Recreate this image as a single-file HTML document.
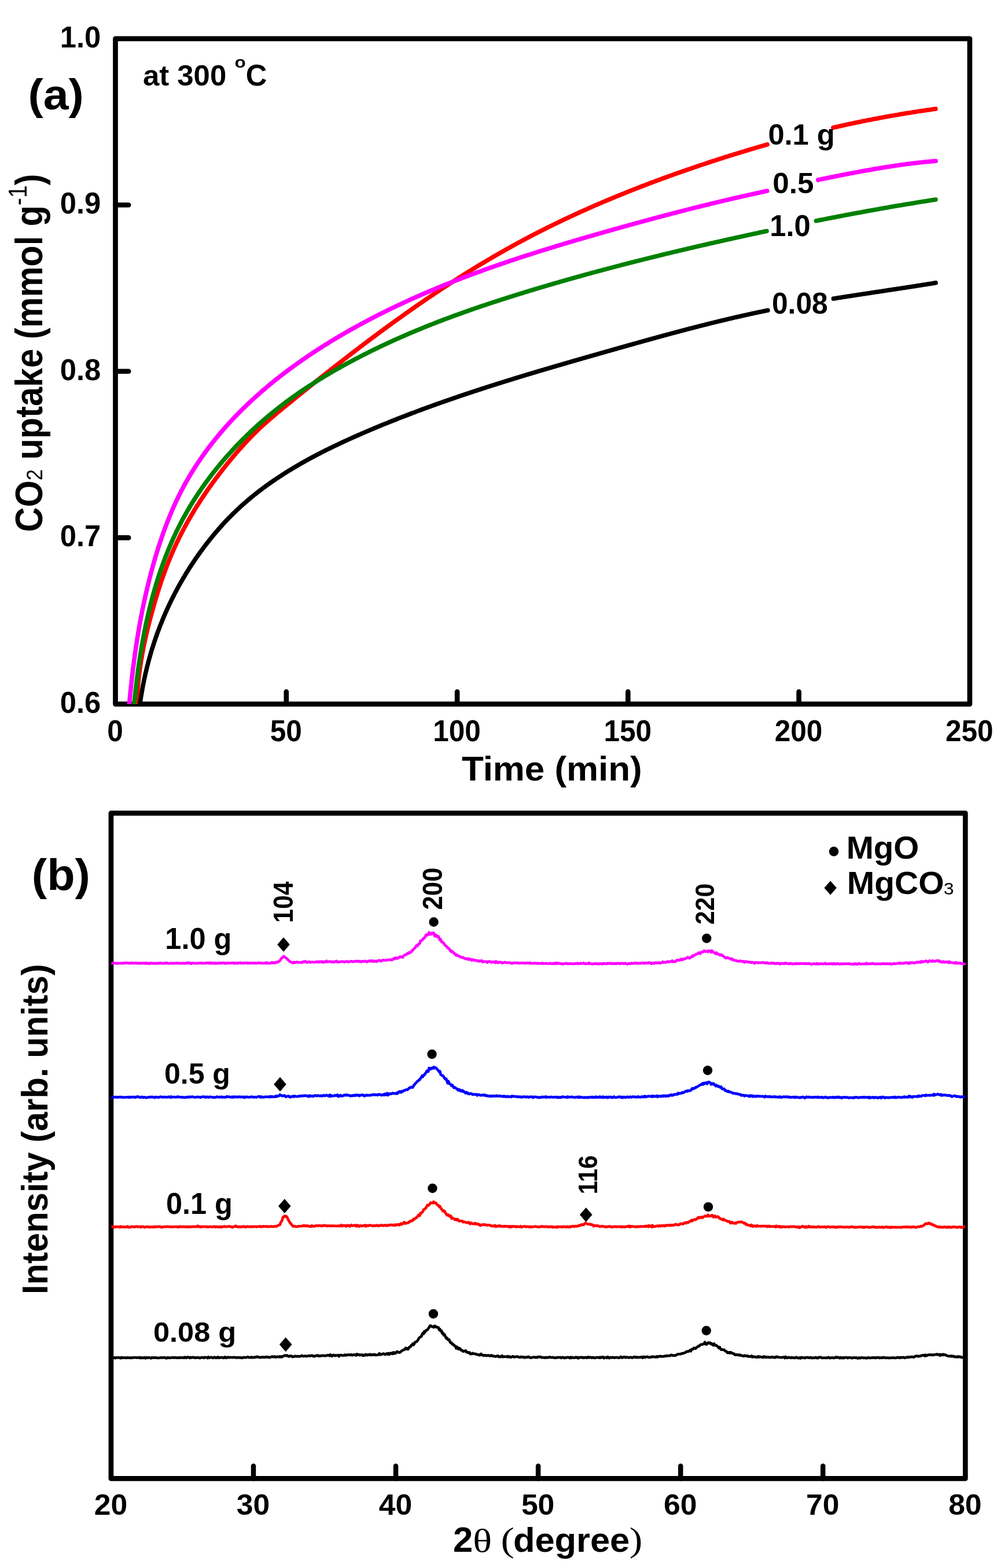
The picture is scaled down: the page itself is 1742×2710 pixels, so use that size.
<!DOCTYPE html>
<html><head><meta charset="utf-8"><title>CO2 uptake and XRD figure</title>
<style>html,body{margin:0;padding:0;background:#fff;} svg{display:block;}</style>
</head><body>
<svg xmlns="http://www.w3.org/2000/svg" width="1742" height="2710" viewBox="0 0 1742 2710">
<rect width="1742" height="2710" fill="#ffffff"/>
<defs><clipPath id="clipA"><rect x="199.5" y="66.8" width="1476.4" height="1150.1000000000001"/></clipPath></defs>
<rect x="199.5" y="66.8" width="1476.4" height="1150.1" fill="none" stroke="#000" stroke-width="8.7" stroke-linejoin="round"/>
<path clip-path="url(#clipA)" d="M235.7,1229.9 L237.4,1200.0 L237.5,1198.5 L237.6,1196.9 L237.7,1195.4 L237.8,1193.9 L237.9,1192.3 L238.0,1190.8 L238.1,1189.3 L238.2,1187.8 L238.4,1186.3 L238.5,1184.8 L238.6,1183.2 L238.8,1181.7 L238.9,1180.2 L239.1,1178.7 L239.2,1177.2 L239.3,1175.6 L239.5,1174.1 L239.7,1172.6 L239.8,1171.1 L240.0,1169.6 L240.2,1168.1 L240.4,1166.5 L240.6,1165.0 L240.7,1163.5 L240.9,1162.0 L241.1,1160.5 L241.3,1159.0 L241.5,1157.5 L241.7,1156.0 L241.9,1154.5 L242.2,1152.9 L242.4,1151.4 L242.6,1149.9 L242.8,1148.4 L243.1,1146.9 L243.3,1145.4 L243.5,1143.9 L243.8,1142.4 L244.0,1140.9 L244.3,1139.4 L244.5,1137.9 L244.8,1136.4 L245.0,1134.9 L245.3,1133.4 L245.6,1131.9 L245.8,1130.4 L246.1,1128.9 L246.4,1127.4 L246.7,1125.9 L246.9,1124.4 L247.2,1122.9 L247.5,1121.4 L247.8,1119.9 L248.1,1118.4 L248.4,1116.9 L248.7,1115.4 L249.0,1113.9 L249.3,1112.4 L249.6,1110.9 L250.0,1109.4 L250.3,1107.9 L250.6,1106.4 L250.9,1104.9 L251.2,1103.5 L251.6,1102.0 L251.9,1100.5 L252.2,1099.0 L252.6,1097.5 L252.9,1096.0 L253.3,1094.5 L253.6,1093.0 L254.0,1091.5 L254.3,1090.0 L254.7,1088.6 L255.0,1087.1 L255.4,1085.6 L255.8,1084.1 L256.1,1082.6 L256.5,1081.2 L256.9,1079.7 L257.2,1078.2 L257.6,1076.7 L258.0,1075.2 L258.4,1073.8 L258.8,1072.3 L259.1,1070.8 L259.5,1069.3 L259.9,1067.8 L260.3,1066.4 L260.7,1064.9 L261.1,1063.4 L261.5,1061.9 L261.9,1060.5 L262.3,1059.0 L262.7,1057.5 L263.1,1056.0 L263.5,1054.6 L263.9,1053.1 L264.4,1051.6 L264.8,1050.2 L265.2,1048.7 L265.6,1047.2 L266.0,1045.7 L266.4,1044.3 L266.9,1042.8 L267.3,1041.3 L267.7,1039.9 L268.1,1038.4 L268.6,1036.9 L269.0,1035.5 L269.5,1034.0 L269.9,1032.5 L270.3,1031.1 L270.8,1029.6 L271.2,1028.2 L271.7,1026.7 L272.1,1025.2 L272.6,1023.8 L273.0,1022.3 L273.5,1020.9 L274.0,1019.4 L274.4,1018.0 L274.9,1016.5 L275.4,1015.1 L275.8,1013.6 L276.3,1012.2 L276.8,1010.7 L277.3,1009.3 L277.8,1007.8 L278.2,1006.4 L278.7,1004.9 L279.2,1003.5 L279.7,1002.0 L280.2,1000.6 L280.7,999.2 L281.2,997.7 L281.7,996.3 L282.2,994.8 L282.7,993.4 L283.2,992.0 L283.8,990.5 L284.3,989.1 L284.8,987.7 L285.3,986.2 L285.9,984.8 L286.4,983.4 L286.9,982.0 L287.5,980.5 L288.0,979.1 L288.6,977.7 L289.1,976.3 L289.6,974.9 L290.2,973.4 L290.8,972.0 L291.3,970.6 L291.9,969.2 L292.5,967.8 L293.0,966.4 L293.6,965.0 L294.2,963.5 L294.8,962.1 L295.4,960.7 L296.0,959.3 L296.6,957.9 L297.1,956.5 L297.8,955.1 L298.4,953.7 L299.0,952.3 L299.6,951.0 L300.2,949.6 L300.8,948.2 L301.4,946.8 L302.1,945.4 L302.7,944.0 L303.4,942.6 L304.0,941.2 L304.6,939.9 L305.3,938.5 L305.9,937.1 L306.6,935.7 L307.3,934.4 L307.9,933.0 L308.6,931.6 L309.3,930.2 L309.9,928.9 L310.6,927.5 L311.3,926.2 L312.0,924.8 L312.7,923.4 L313.4,922.1 L314.1,920.7 L314.8,919.4 L315.5,918.0 L316.2,916.7 L316.9,915.3 L317.6,914.0 L318.3,912.6 L319.0,911.3 L319.8,909.9 L320.5,908.6 L321.2,907.3 L321.9,905.9 L322.7,904.6 L323.4,903.2 L324.2,901.9 L324.9,900.6 L325.7,899.3 L326.4,897.9 L327.2,896.6 L327.9,895.3 L328.7,894.0 L329.5,892.6 L330.3,891.3 L331.0,890.0 L331.8,888.7 L332.6,887.4 L333.4,886.1 L334.2,884.8 L334.9,883.5 L335.7,882.1 L336.5,880.8 L337.3,879.5 L338.1,878.2 L338.9,876.9 L339.8,875.6 L340.6,874.4 L341.4,873.0 L342.2,871.8 L343.0,870.5 L343.9,869.2 L344.7,867.9 L345.5,866.6 L346.3,865.3 L347.2,864.0 L348.0,862.8 L348.9,861.5 L349.7,860.2 L350.5,858.9 L351.4,857.7 L352.2,856.4 L353.1,855.1 L354.0,853.9 L354.8,852.6 L355.7,851.3 L356.6,850.1 L357.4,848.8 L358.3,847.5 L359.2,846.3 L360.0,845.0 L360.9,843.8 L361.8,842.5 L362.7,841.3 L363.6,840.0 L364.5,838.8 L365.4,837.5 L366.2,836.3 L367.1,835.1 L368.0,833.8 L368.9,832.6 L369.9,831.4 L370.8,830.1 L371.7,828.9 L372.6,827.7 L373.5,826.4 L374.4,825.2 L375.3,824.0 L376.3,822.8 L377.2,821.5 L378.1,820.3 L379.0,819.1 L380.0,817.9 L380.9,816.7 L381.8,815.5 L382.8,814.2 L383.7,813.0 L384.7,811.8 L385.6,810.6 L386.6,809.4 L387.5,808.2 L388.4,807.0 L389.4,805.8 L390.4,804.6 L391.3,803.4 L392.3,802.2 L393.2,801.1 L394.2,799.9 L395.2,798.7 L396.1,797.5 L397.1,796.3 L398.1,795.1 L399.1,794.0 L400.0,792.8 L401.0,791.6 L402.0,790.4 L403.0,789.3 L403.9,788.1 L404.9,786.9 L405.9,785.8 L406.9,784.6 L407.9,783.4 L408.9,782.3 L409.9,781.1 L410.9,780.0 L411.9,778.8 L412.9,777.7 L413.9,776.5 L414.9,775.4 L415.9,774.2 L417.0,773.1 L418.0,772.0 L419.0,770.8 L420.0,769.7 L421.1,768.6 L422.1,767.5 L423.1,766.3 L424.1,765.2 L425.2,764.1 L426.2,763.0 L427.3,761.9 L428.3,760.8 L429.4,759.7 L430.4,758.6 L431.5,757.5 L432.5,756.4 L433.6,755.3 L434.6,754.2 L435.7,753.1 L436.8,752.0 L437.8,750.9 L438.9,749.9 L440.0,748.8 L441.1,747.7 L442.1,746.6 L443.2,745.6 L444.3,744.5 L445.4,743.5 L446.5,742.4 L447.6,741.4 L448.7,740.3 L449.8,739.3 L450.9,738.2 L452.0,737.2 L453.1,736.2 L454.3,735.1 L455.4,734.1 L456.5,733.1 L457.6,732.1 L458.8,731.1 L459.9,730.1 L461.0,729.1 L462.2,728.0 L463.3,727.0 L464.5,726.0 L465.6,725.1 L466.8,724.1 L467.9,723.1 L469.1,722.1 L470.2,721.1 L471.4,720.1 L472.5,719.1 L473.7,718.1 L474.8,717.2 L476.0,716.2 L477.2,715.2 L478.3,714.2 L479.5,713.3 L480.7,712.3 L481.8,711.3 L483.0,710.4 L484.2,709.4 L485.3,708.4 L486.5,707.5 L487.7,706.5 L488.9,705.5 L490.0,704.6 L491.2,703.6 L492.4,702.6 L493.6,701.7 L494.8,700.7 L495.9,699.8 L497.1,698.8 L498.3,697.8 L499.5,696.9 L500.6,695.9 L501.8,695.0 L503.0,694.0 L504.2,693.0 L505.4,692.1 L506.6,691.1 L507.7,690.1 L508.9,689.2 L510.1,688.2 L511.3,687.3 L512.5,686.3 L513.6,685.4 L514.8,684.4 L516.0,683.4 L517.2,682.5 L518.4,681.5 L519.6,680.6 L520.8,679.6 L521.9,678.6 L523.1,677.7 L524.3,676.7 L525.5,675.8 L526.7,674.8 L527.9,673.9 L529.1,672.9 L530.2,672.0 L531.4,671.0 L532.6,670.0 L533.8,669.1 L535.0,668.1 L536.2,667.2 L537.4,666.2 L538.6,665.3 L539.8,664.3 L541.0,663.4 L542.1,662.4 L543.3,661.5 L544.5,660.5 L545.7,659.5 L546.9,658.6 L548.1,657.6 L549.3,656.7 L550.5,655.7 L551.7,654.8 L552.9,653.8 L554.1,652.9 L555.3,651.9 L556.5,651.0 L557.7,650.0 L558.9,649.1 L560.0,648.1 L561.2,647.2 L562.5,646.3 L563.6,645.3 L564.9,644.4 L566.0,643.4 L567.2,642.5 L568.4,641.5 L569.6,640.6 L570.8,639.6 L572.0,638.7 L573.2,637.7 L574.5,636.8 L575.6,635.9 L576.9,634.9 L578.0,634.0 L579.2,633.0 L580.5,632.1 L581.7,631.1 L582.9,630.2 L584.1,629.3 L585.3,628.3 L586.5,627.4 L587.7,626.5 L588.9,625.5 L590.1,624.6 L591.3,623.6 L592.5,622.7 L593.7,621.8 L594.9,620.8 L596.1,619.9 L597.4,619.0 L598.6,618.0 L599.8,617.1 L601.0,616.1 L602.2,615.2 L603.4,614.3 L604.6,613.4 L605.8,612.4 L607.0,611.5 L608.2,610.5 L609.5,609.6 L610.7,608.7 L611.9,607.8 L613.1,606.8 L614.3,605.9 L615.5,605.0 L616.8,604.0 L618.0,603.1 L619.2,602.2 L620.4,601.3 L621.6,600.3 L622.8,599.4 L624.0,598.5 L625.3,597.6 L626.5,596.6 L627.7,595.7 L628.9,594.8 L630.1,593.9 L631.4,593.0 L632.6,592.0 L633.8,591.1 L635.0,590.2 L636.3,589.3 L637.5,588.4 L638.7,587.4 L639.9,586.5 L641.1,585.6 L642.4,584.7 L643.6,583.8 L644.8,582.9 L646.0,581.9 L647.3,581.0 L648.5,580.1 L649.7,579.2 L651.0,578.3 L652.2,577.4 L653.4,576.5 L654.6,575.6 L655.9,574.6 L657.1,573.7 L658.3,572.8 L659.6,571.9 L660.8,571.0 L662.0,570.1 L663.3,569.2 L664.5,568.3 L665.7,567.4 L667.0,566.5 L668.2,565.6 L669.4,564.7 L670.7,563.8 L671.9,562.9 L673.1,562.0 L674.4,561.1 L675.6,560.2 L676.9,559.3 L678.1,558.4 L679.3,557.5 L680.6,556.6 L681.8,555.7 L683.1,554.8 L684.3,553.9 L685.5,553.0 L686.8,552.1 L688.0,551.2 L689.3,550.4 L690.5,549.5 L691.8,548.6 L693.0,547.7 L694.2,546.8 L695.5,545.9 L696.7,545.0 L698.0,544.1 L699.2,543.2 L700.5,542.4 L701.7,541.5 L703.0,540.6 L704.2,539.7 L705.5,538.8 L706.7,538.0 L708.0,537.1 L709.2,536.2 L710.5,535.3 L711.7,534.4 L713.0,533.6 L714.2,532.7 L715.5,531.8 L716.8,530.9 L718.0,530.1 L719.3,529.2 L720.5,528.3 L721.8,527.5 L723.0,526.6 L724.3,525.7 L725.5,524.8 L726.8,524.0 L728.1,523.1 L729.3,522.2 L730.6,521.4 L731.9,520.5 L733.1,519.6 L734.4,518.8 L735.6,517.9 L736.9,517.1 L738.2,516.2 L739.4,515.4 L740.7,514.5 L742.0,513.6 L743.2,512.8 L744.5,511.9 L745.8,511.1 L747.0,510.2 L748.3,509.4 L749.6,508.5 L750.8,507.7 L752.1,506.8 L753.4,506.0 L754.6,505.1 L755.9,504.3 L757.2,503.4 L758.5,502.6 L759.7,501.7 L761.0,500.9 L762.3,500.0 L763.5,499.2 L764.8,498.4 L766.1,497.5 L767.4,496.7 L768.6,495.8 L769.9,495.0 L771.2,494.2 L772.5,493.3 L773.8,492.5 L775.0,491.7 L776.3,490.8 L777.6,490.0 L778.9,489.2 L780.2,488.4 L781.5,487.5 L782.7,486.7 L784.0,485.9 L785.3,485.0 L786.6,484.2 L787.9,483.4 L789.2,482.6 L790.5,481.8 L791.7,480.9 L793.0,480.1 L794.3,479.3 L795.6,478.5 L796.9,477.7 L798.2,476.9 L799.5,476.0 L800.8,475.2 L802.1,474.4 L803.4,473.6 L804.7,472.8 L806.0,472.0 L807.2,471.2 L808.5,470.4 L809.8,469.6 L811.1,468.8 L812.4,468.0 L813.7,467.2 L815.0,466.4 L816.3,465.6 L817.6,464.8 L818.9,464.0 L820.2,463.2 L821.5,462.4 L822.8,461.6 L824.1,460.8 L825.4,460.0 L826.8,459.2 L828.0,458.4 L829.4,457.6 L830.7,456.8 L832.0,456.1 L833.3,455.3 L834.6,454.5 L835.9,453.7 L837.2,452.9 L838.5,452.1 L839.8,451.4 L841.1,450.6 L842.5,449.8 L843.8,449.0 L845.1,448.2 L846.4,447.5 L847.7,446.7 L849.0,445.9 L850.3,445.2 L851.6,444.4 L853.0,443.6 L854.3,442.9 L855.6,442.1 L856.9,441.3 L858.2,440.6 L859.6,439.8 L860.9,439.0 L862.2,438.3 L863.5,437.5 L864.9,436.8 L866.2,436.0 L867.5,435.3 L868.8,434.5 L870.2,433.8 L871.5,433.0 L872.8,432.3 L874.1,431.5 L875.5,430.8 L876.8,430.0 L878.1,429.3 L879.5,428.5 L880.8,427.8 L882.1,427.1 L883.5,426.3 L884.8,425.6 L886.1,424.8 L887.5,424.1 L888.8,423.4 L890.1,422.6 L891.5,421.9 L892.8,421.2 L894.1,420.4 L895.5,419.7 L896.8,419.0 L898.2,418.3 L899.5,417.5 L900.8,416.8 L902.2,416.1 L903.5,415.4 L904.9,414.7 L906.2,413.9 L907.6,413.2 L908.9,412.5 L910.3,411.8 L911.6,411.1 L913.0,410.4 L914.3,409.7 L915.6,409.0 L917.0,408.2 L918.4,407.6 L919.7,406.8 L921.0,406.1 L922.4,405.4 L923.8,404.7 L925.1,404.0 L926.5,403.3 L927.8,402.6 L929.2,401.9 L930.5,401.3 L931.9,400.6 L933.2,399.9 L934.6,399.2 L936.0,398.5 L937.3,397.8 L938.7,397.1 L940.0,396.4 L941.4,395.8 L942.8,395.1 L944.1,394.4 L945.5,393.7 L946.9,393.0 L948.2,392.4 L949.6,391.7 L951.0,391.0 L952.3,390.3 L953.7,389.7 L955.1,389.0 L956.4,388.3 L957.8,387.6 L959.2,387.0 L960.5,386.3 L961.9,385.6 L963.3,385.0 L964.7,384.3 L966.0,383.7 L967.4,383.0 L968.8,382.3 L970.2,381.7 L971.5,381.0 L972.9,380.4 L974.3,379.7 L975.7,379.1 L977.0,378.4 L978.4,377.8 L979.8,377.1 L981.2,376.5 L982.6,375.8 L983.9,375.2 L985.3,374.5 L986.7,373.9 L988.1,373.2 L989.5,372.6 L990.9,372.0 L992.2,371.3 L993.6,370.7 L995.0,370.1 L996.4,369.4 L997.8,368.8 L999.2,368.1 L1000.6,367.5 L1002.0,366.9 L1003.3,366.2 L1004.7,365.6 L1006.1,365.0 L1007.5,364.4 L1008.9,363.8 L1010.3,363.1 L1011.7,362.5 L1013.1,361.9 L1014.5,361.3 L1015.9,360.6 L1017.2,360.0 L1018.6,359.4 L1020.0,358.8 L1021.4,358.2 L1022.8,357.6 L1024.2,356.9 L1025.6,356.3 L1027.0,355.7 L1028.4,355.1 L1029.8,354.5 L1031.2,353.9 L1032.6,353.3 L1034.0,352.7 L1035.4,352.1 L1036.8,351.5 L1038.2,350.9 L1039.6,350.3 L1041.0,349.7 L1042.4,349.1 L1043.8,348.5 L1045.2,347.9 L1046.7,347.3 L1048.0,346.7 L1049.5,346.1 L1050.9,345.5 L1052.3,344.9 L1053.7,344.3 L1055.1,343.8 L1056.5,343.2 L1057.9,342.6 L1059.3,342.0 L1060.7,341.4 L1062.1,340.8 L1063.5,340.2 L1065.0,339.7 L1066.4,339.1 L1067.8,338.5 L1069.2,337.9 L1070.6,337.4 L1072.0,336.8 L1073.4,336.2 L1074.8,335.6 L1076.3,335.1 L1077.7,334.5 L1079.1,333.9 L1080.5,333.3 L1081.9,332.8 L1083.3,332.2 L1084.8,331.6 L1086.2,331.1 L1087.6,330.5 L1089.0,329.9 L1090.4,329.4 L1091.8,328.8 L1093.3,328.2 L1094.7,327.7 L1096.1,327.1 L1097.5,326.6 L1099.0,326.0 L1100.4,325.5 L1101.8,324.9 L1103.2,324.4 L1104.6,323.8 L1106.1,323.2 L1107.5,322.7 L1108.9,322.1 L1110.3,321.6 L1111.8,321.1 L1113.2,320.5 L1114.6,320.0 L1116.0,319.4 L1117.5,318.9 L1118.9,318.3 L1120.3,317.8 L1121.8,317.2 L1123.2,316.7 L1124.6,316.2 L1126.0,315.6 L1127.5,315.1 L1128.9,314.6 L1130.3,314.0 L1131.8,313.5 L1133.2,312.9 L1134.6,312.4 L1136.0,311.9 L1137.5,311.4 L1138.9,310.8 L1140.3,310.3 L1141.8,309.8 L1143.2,309.2 L1144.7,308.7 L1146.1,308.2 L1147.5,307.7 L1149.0,307.1 L1150.4,306.6 L1151.8,306.1 L1153.3,305.6 L1154.7,305.1 L1156.1,304.5 L1157.6,304.0 L1159.0,303.5 L1160.4,303.0 L1161.9,302.5 L1163.3,301.9 L1164.8,301.4 L1166.2,300.9 L1167.6,300.4 L1169.1,299.9 L1170.5,299.4 L1172.0,298.9 L1173.4,298.4 L1174.8,297.9 L1176.3,297.4 L1177.7,296.9 L1179.2,296.3 L1180.6,295.8 L1182.0,295.3 L1183.5,294.8 L1184.9,294.3 L1186.4,293.8 L1187.8,293.3 L1189.3,292.8 L1190.7,292.3 L1192.1,291.8 L1193.6,291.3 L1195.0,290.8 L1196.5,290.4 L1197.9,289.9 L1199.4,289.4 L1200.8,288.9 L1202.3,288.4 L1203.7,287.9 L1205.2,287.4 L1206.6,286.9 L1208.0,286.4 L1209.5,285.9 L1210.9,285.4 L1212.4,285.0 L1213.8,284.5 L1215.3,284.0 L1216.7,283.5 L1218.2,283.0 L1219.6,282.5 L1221.1,282.1 L1222.5,281.6 L1224.0,281.1 L1225.4,280.6 L1226.9,280.1 L1228.3,279.7 L1229.8,279.2 L1231.2,278.7 L1232.7,278.2 L1234.1,277.8 L1235.6,277.3 L1237.0,276.8 L1238.5,276.4 L1240.0,275.9 L1241.4,275.4 L1242.9,274.9 L1244.3,274.5 L1245.8,274.0 L1247.2,273.6 L1248.7,273.1 L1250.1,272.6 L1251.6,272.2 L1253.0,271.7 L1254.5,271.2 L1256.0,270.8 L1257.4,270.3 L1258.9,269.9 L1260.3,269.4 L1261.8,268.9 L1263.2,268.5 L1264.7,268.0 L1266.2,267.6 L1267.6,267.1 L1269.1,266.7 L1270.5,266.2 L1272.0,265.8 L1273.4,265.3 L1274.9,264.9 L1276.4,264.4 L1277.8,264.0 L1279.3,263.5 L1280.7,263.1 L1282.2,262.6 L1283.7,262.2 L1285.1,261.8 L1286.6,261.3 L1288.0,260.9 L1289.5,260.4 L1291.0,260.0 L1292.4,259.6 L1293.9,259.1 L1295.4,258.7 L1296.8,258.2 L1298.3,257.8 L1299.8,257.4 L1301.2,256.9 L1302.7,256.5 L1304.1,256.1 L1305.6,255.7 L1307.1,255.2 L1308.5,254.8 L1310.0,254.4 L1311.5,253.9 L1312.9,253.5 L1314.4,253.1 L1315.9,252.7 L1317.3,252.2 L1318.8,251.8 L1320.3,251.4 L1321.7,251.0 L1323.2,250.6 L1324.7,250.2 L1326.1,249.7 M1439.9,220.6 L1441.4,220.2 L1442.9,219.9 L1444.4,219.6 L1445.9,219.2 L1447.4,218.9 L1448.8,218.6 L1450.3,218.2 L1451.8,217.9 L1453.3,217.6 L1454.8,217.2 L1456.3,216.9 L1457.8,216.6 L1459.3,216.2 L1460.8,215.9 L1462.3,215.6 L1463.8,215.3 L1465.2,214.9 L1466.7,214.6 L1468.2,214.3 L1469.7,214.0 L1471.2,213.7 L1472.7,213.4 L1474.2,213.0 L1475.7,212.7 L1477.2,212.4 L1478.7,212.1 L1480.2,211.8 L1481.7,211.5 L1483.1,211.2 L1484.6,210.9 L1486.1,210.6 L1487.6,210.2 L1489.1,209.9 L1490.6,209.6 L1492.1,209.3 L1493.6,209.0 L1495.1,208.7 L1496.6,208.4 L1498.1,208.1 L1499.6,207.8 L1501.1,207.6 L1502.6,207.2 L1504.1,207.0 L1505.6,206.7 L1507.1,206.4 L1508.6,206.1 L1510.1,205.8 L1511.6,205.5 L1513.1,205.2 L1514.6,204.9 L1516.1,204.7 L1517.6,204.4 L1519.0,204.1 L1520.5,203.8 L1522.0,203.5 L1523.5,203.2 L1525.0,203.0 L1526.5,202.7 L1528.0,202.4 L1529.5,202.1 L1531.0,201.9 L1532.5,201.6 L1534.1,201.3 L1535.6,201.1 L1537.1,200.8 L1538.6,200.5 L1540.1,200.2 L1541.6,200.0 L1543.1,199.7 L1544.6,199.4 L1546.1,199.2 L1547.6,198.9 L1549.1,198.7 L1550.6,198.4 L1552.1,198.2 L1553.6,197.9 L1555.1,197.6 L1556.6,197.4 L1558.1,197.1 L1559.6,196.9 L1561.1,196.6 L1562.6,196.4 L1564.1,196.1 L1565.6,195.9 L1567.1,195.6 L1568.6,195.4 L1570.2,195.2 L1571.7,194.9 L1573.2,194.7 L1574.7,194.4 L1576.2,194.2 L1577.7,193.9 L1579.2,193.7 L1580.7,193.5 L1582.2,193.2 L1583.7,193.0 L1585.2,192.8 L1586.7,192.6 L1588.2,192.3 L1589.8,192.1 L1591.3,191.9 L1592.8,191.6 L1594.3,191.4 L1595.8,191.2 L1597.3,191.0 L1598.8,190.8 L1600.3,190.5 L1601.8,190.3 L1603.3,190.1 L1604.8,189.9 L1606.4,189.7 L1607.9,189.4 L1609.4,189.2 L1610.9,189.0 L1612.4,188.8 L1613.9,188.6 L1615.4,188.4 L1616.9,188.2 " fill="none" stroke="#ff0000" stroke-width="7.6" stroke-linecap="round" stroke-linejoin="round"/>
<path clip-path="url(#clipA)" d="M239.4,1229.7 L244.4,1200.1 L244.6,1198.7 L244.9,1197.3 L245.1,1196.0 L245.3,1194.6 L245.6,1193.2 L245.8,1191.9 L246.1,1190.5 L246.3,1189.1 L246.6,1187.8 L246.8,1186.4 L247.1,1185.0 L247.3,1183.7 L247.6,1182.3 L247.9,1181.0 L248.2,1179.6 L248.4,1178.2 L248.7,1176.9 L249.0,1175.5 L249.3,1174.2 L249.6,1172.8 L249.8,1171.5 L250.1,1170.1 L250.4,1168.8 L250.7,1167.4 L251.0,1166.1 L251.3,1164.7 L251.6,1163.4 L251.9,1162.0 L252.3,1160.7 L252.6,1159.4 L252.9,1158.0 L253.2,1156.7 L253.5,1155.3 L253.9,1154.0 L254.2,1152.7 L254.5,1151.3 L254.9,1150.0 L255.2,1148.7 L255.6,1147.3 L255.9,1146.0 L256.2,1144.7 L256.6,1143.3 L256.9,1142.0 L257.3,1140.7 L257.7,1139.4 L258.0,1138.0 L258.4,1136.7 L258.8,1135.4 L259.1,1134.1 L259.5,1132.8 L259.9,1131.4 L260.3,1130.1 L260.7,1128.8 L261.1,1127.5 L261.4,1126.2 L261.8,1124.9 L262.2,1123.5 L262.6,1122.2 L263.0,1120.9 L263.4,1119.6 L263.9,1118.3 L264.3,1117.0 L264.7,1115.7 L265.1,1114.4 L265.5,1113.1 L265.9,1111.8 L266.4,1110.5 L266.8,1109.2 L267.2,1107.9 L267.7,1106.6 L268.1,1105.3 L268.6,1104.0 L269.0,1102.7 L269.4,1101.4 L269.9,1100.1 L270.4,1098.8 L270.8,1097.5 L271.3,1096.3 L271.7,1095.0 L272.2,1093.7 L272.7,1092.4 L273.1,1091.1 L273.6,1089.8 L274.1,1088.6 L274.6,1087.3 L275.1,1086.0 L275.6,1084.7 L276.0,1083.5 L276.5,1082.2 L277.0,1080.9 L277.5,1079.6 L278.0,1078.4 L278.5,1077.1 L279.1,1075.8 L279.6,1074.6 L280.1,1073.3 L280.6,1072.0 L281.1,1070.8 L281.6,1069.5 L282.2,1068.2 L282.7,1067.0 L283.2,1065.7 L283.8,1064.5 L284.3,1063.2 L284.8,1062.0 L285.4,1060.7 L285.9,1059.5 L286.5,1058.2 L287.0,1057.0 L287.6,1055.7 L288.1,1054.5 L288.7,1053.2 L289.3,1052.0 L289.9,1050.7 L290.4,1049.5 L291.0,1048.2 L291.6,1047.0 L292.2,1045.8 L292.7,1044.5 L293.3,1043.3 L293.9,1042.1 L294.5,1040.8 L295.1,1039.6 L295.7,1038.4 L296.3,1037.1 L296.9,1035.9 L297.5,1034.7 L298.1,1033.5 L298.8,1032.2 L299.4,1031.0 L300.0,1029.8 L300.6,1028.6 L301.2,1027.3 L301.9,1026.1 L302.5,1024.9 L303.1,1023.7 L303.8,1022.5 L304.4,1021.3 L305.1,1020.1 L305.7,1018.9 L306.4,1017.6 L307.0,1016.5 L307.7,1015.2 L308.3,1014.0 L309.0,1012.8 L309.6,1011.6 L310.3,1010.4 L311.0,1009.2 L311.7,1008.0 L312.3,1006.9 L313.0,1005.6 L313.7,1004.5 L314.4,1003.3 L315.1,1002.1 L315.8,1000.9 L316.5,999.7 L317.2,998.5 L317.9,997.3 L318.6,996.1 L319.3,995.0 L320.0,993.8 L320.7,992.6 L321.4,991.4 L322.1,990.3 L322.9,989.1 L323.6,987.9 L324.3,986.7 L325.1,985.6 L325.8,984.4 L326.5,983.2 L327.3,982.1 L328.0,980.9 L328.8,979.7 L329.5,978.6 L330.3,977.4 L331.0,976.3 L331.8,975.1 L332.5,974.0 L333.3,972.8 L334.1,971.7 L334.8,970.5 L335.6,969.4 L336.4,968.2 L337.2,967.1 L337.9,965.9 L338.7,964.8 L339.5,963.7 L340.3,962.5 L341.1,961.4 L341.9,960.3 L342.7,959.1 L343.5,958.0 L344.3,956.9 L345.1,955.8 L345.9,954.6 L346.7,953.5 L347.5,952.4 L348.3,951.3 L349.2,950.2 L350.0,949.0 L350.8,947.9 L351.6,946.8 L352.5,945.7 L353.3,944.6 L354.1,943.5 L355.0,942.4 L355.8,941.3 L356.7,940.2 L357.5,939.1 L358.4,938.0 L359.2,937.0 L360.1,935.9 L360.9,934.8 L361.8,933.7 L362.6,932.6 L363.5,931.5 L364.4,930.5 L365.2,929.4 L366.1,928.3 L367.0,927.2 L367.9,926.2 L368.8,925.1 L369.6,924.0 L370.5,923.0 L371.4,921.9 L372.3,920.9 L373.2,919.8 L374.1,918.8 L375.0,917.7 L375.9,916.7 L376.8,915.6 L377.7,914.6 L378.6,913.5 L379.5,912.5 L380.4,911.5 L381.4,910.5 L382.3,909.4 L383.2,908.4 L384.1,907.4 L385.1,906.4 L386.0,905.3 L386.9,904.3 L387.9,903.3 L388.8,902.3 L389.7,901.3 L390.7,900.3 L391.6,899.3 L392.6,898.3 L393.5,897.3 L394.5,896.3 L395.4,895.3 L396.4,894.3 L397.3,893.4 L398.3,892.4 L399.3,891.4 L400.2,890.4 L401.2,889.5 L402.2,888.5 L403.2,887.5 L404.1,886.6 L405.1,885.6 L406.1,884.7 L407.1,883.7 L408.1,882.8 L409.1,881.8 L410.1,880.9 L411.1,880.0 L412.1,879.0 L413.1,878.1 L414.1,877.2 L415.1,876.2 L416.1,875.3 L417.1,874.4 L418.1,873.5 L419.1,872.6 L420.2,871.7 L421.2,870.8 L422.2,869.9 L423.2,869.0 L424.3,868.1 L425.3,867.2 L426.3,866.3 L427.4,865.4 L428.4,864.5 L429.4,863.6 L430.5,862.8 L431.5,861.9 L432.6,861.0 L433.6,860.1 L434.7,859.3 L435.7,858.4 L436.8,857.5 L437.9,856.7 L438.9,855.8 L440.0,855.0 L441.1,854.1 L442.1,853.3 L443.2,852.4 L444.3,851.6 L445.3,850.8 L446.4,849.9 L447.5,849.1 L448.6,848.2 L449.6,847.4 L450.7,846.6 L451.8,845.8 L452.9,845.0 L454.0,844.1 L455.1,843.3 L456.2,842.5 L457.3,841.7 L458.4,840.9 L459.5,840.1 L460.6,839.3 L461.7,838.5 L462.8,837.7 L463.9,836.9 L465.0,836.1 L466.1,835.3 L467.3,834.5 L468.4,833.8 L469.5,833.0 L470.6,832.2 L471.7,831.4 L472.9,830.6 L474.0,829.9 L475.1,829.1 L476.2,828.4 L477.4,827.6 L478.5,826.8 L479.6,826.1 L480.8,825.3 L481.9,824.6 L483.1,823.8 L484.2,823.1 L485.4,822.3 L486.5,821.6 L487.6,820.8 L488.8,820.1 L489.9,819.4 L491.1,818.6 L492.2,817.9 L493.4,817.1 L494.6,816.4 L495.7,815.7 L496.9,815.0 L498.0,814.2 L499.2,813.5 L500.4,812.8 L501.5,812.1 L502.7,811.4 L503.9,810.7 L505.1,810.0 L506.2,809.3 L507.4,808.6 L508.6,807.9 L509.8,807.2 L510.9,806.5 L512.1,805.8 L513.3,805.1 L514.5,804.4 L515.7,803.7 L516.9,803.0 L518.0,802.3 L519.2,801.6 L520.4,801.0 L521.6,800.3 L522.8,799.6 L524.0,798.9 L525.2,798.3 L526.4,797.6 L527.6,796.9 L528.8,796.2 L530.0,795.6 L531.2,794.9 L532.4,794.3 L533.6,793.6 L534.8,793.0 L536.0,792.3 L537.2,791.6 L538.4,791.0 L539.6,790.3 L540.9,789.7 L542.1,789.0 L543.3,788.4 L544.5,787.8 L545.7,787.1 L546.9,786.5 L548.1,785.8 L549.4,785.2 L550.6,784.6 L551.8,783.9 L553.0,783.3 L554.3,782.7 L555.5,782.0 L556.7,781.4 L557.9,780.8 L559.2,780.2 L560.4,779.6 L561.6,778.9 L562.9,778.3 L564.1,777.7 L565.3,777.1 L566.5,776.5 L567.8,775.9 L569.0,775.3 L570.3,774.7 L571.5,774.0 L572.7,773.5 L574.0,772.9 L575.2,772.2 L576.5,771.6 L577.7,771.0 L578.9,770.5 L580.2,769.9 L581.4,769.3 L582.7,768.7 L583.9,768.1 L585.2,767.5 L586.4,766.9 L587.7,766.3 L588.9,765.7 L590.2,765.1 L591.4,764.6 L592.7,764.0 L593.9,763.4 L595.2,762.8 L596.4,762.2 L597.7,761.7 L598.9,761.1 L600.2,760.5 L601.4,760.0 L602.7,759.4 L604.0,758.8 L605.2,758.2 L606.5,757.7 L607.7,757.1 L609.0,756.5 L610.2,756.0 L611.5,755.4 L612.8,754.9 L614.0,754.3 L615.3,753.7 L616.5,753.2 L617.8,752.6 L619.1,752.1 L620.3,751.5 L621.6,751.0 L622.9,750.4 L624.1,749.9 L625.4,749.3 L626.6,748.8 L627.9,748.2 L629.2,747.7 L630.5,747.1 L631.7,746.6 L633.0,746.0 L634.2,745.5 L635.5,744.9 L636.8,744.4 L638.0,743.9 L639.3,743.3 L640.6,742.8 L641.9,742.2 L643.1,741.7 L644.4,741.2 L645.7,740.6 L646.9,740.1 L648.2,739.6 L649.5,739.0 L650.8,738.5 L652.0,738.0 L653.3,737.5 L654.6,736.9 L655.8,736.4 L657.1,735.9 L658.4,735.4 L659.6,734.8 L660.9,734.3 L662.2,733.8 L663.5,733.3 L664.8,732.8 L666.0,732.2 L667.3,731.7 L668.6,731.2 L669.9,730.7 L671.1,730.2 L672.4,729.6 L673.7,729.1 L675.0,728.6 L676.2,728.1 L677.5,727.6 L678.8,727.1 L680.1,726.6 L681.3,726.1 L682.6,725.6 L683.9,725.1 L685.2,724.6 L686.5,724.1 L687.7,723.5 L689.0,723.0 L690.3,722.5 L691.6,722.0 L692.9,721.5 L694.1,721.0 L695.4,720.5 L696.7,720.0 L698.0,719.6 L699.3,719.1 L700.5,718.6 L701.8,718.1 L703.1,717.6 L704.4,717.1 L705.7,716.6 L707.0,716.1 L708.2,715.6 L709.5,715.1 L710.8,714.6 L712.1,714.1 L713.4,713.7 L714.7,713.2 L716.0,712.7 L717.2,712.2 L718.5,711.7 L719.8,711.2 L721.1,710.8 L722.4,710.3 L723.7,709.8 L725.0,709.3 L726.2,708.9 L727.5,708.4 L728.8,707.9 L730.1,707.4 L731.4,706.9 L732.7,706.5 L734.0,706.0 L735.3,705.5 L736.6,705.0 L737.9,704.6 L739.1,704.1 L740.4,703.6 L741.7,703.2 L743.0,702.7 L744.3,702.2 L745.6,701.8 L746.9,701.3 L748.2,700.8 L749.5,700.4 L750.8,699.9 L752.1,699.4 L753.4,699.0 L754.6,698.5 L755.9,698.0 L757.2,697.6 L758.5,697.1 L759.8,696.7 L761.1,696.2 L762.4,695.8 L763.7,695.3 L765.0,694.8 L766.3,694.4 L767.6,693.9 L768.9,693.5 L770.2,693.0 L771.5,692.6 L772.8,692.1 L774.1,691.7 L775.4,691.2 L776.7,690.8 L778.0,690.3 L779.3,689.9 L780.5,689.4 L781.9,689.0 L783.1,688.5 L784.5,688.1 L785.8,687.6 L787.0,687.2 L788.3,686.8 L789.6,686.3 L790.9,685.9 L792.2,685.4 L793.5,685.0 L794.8,684.5 L796.1,684.1 L797.4,683.7 L798.7,683.2 L800.0,682.8 L801.3,682.3 L802.6,681.9 L804.0,681.5 L805.2,681.0 L806.5,680.6 L807.9,680.2 L809.1,679.7 L810.5,679.3 L811.8,678.9 L813.1,678.4 L814.4,678.0 L815.7,677.6 L817.0,677.1 L818.3,676.7 L819.6,676.3 L820.9,675.8 L822.2,675.4 L823.5,675.0 L824.8,674.6 L826.1,674.1 L827.4,673.7 L828.7,673.3 L830.0,672.9 L831.3,672.4 L832.6,672.0 L833.9,671.6 L835.2,671.2 L836.5,670.7 L837.9,670.3 L839.2,669.9 L840.5,669.5 L841.8,669.0 L843.1,668.6 L844.4,668.2 L845.7,667.8 L847.0,667.4 L848.3,667.0 L849.6,666.5 L850.9,666.1 L852.2,665.7 L853.5,665.3 L854.9,664.9 L856.2,664.5 L857.5,664.0 L858.8,663.6 L860.1,663.2 L861.4,662.8 L862.7,662.4 L864.0,662.0 L865.3,661.6 L866.6,661.2 L867.9,660.8 L869.2,660.3 L870.6,659.9 L871.9,659.5 L873.2,659.1 L874.5,658.7 L875.8,658.3 L877.1,657.9 L878.4,657.5 L879.7,657.1 L881.0,656.7 L882.4,656.3 L883.7,655.9 L885.0,655.5 L886.3,655.0 L887.6,654.6 L888.9,654.2 L890.2,653.8 L891.5,653.4 L892.9,653.0 L894.2,652.6 L895.5,652.2 L896.8,651.8 L898.1,651.4 L899.4,651.0 L900.7,650.6 L902.1,650.2 L903.4,649.8 L904.7,649.4 L906.0,649.0 L907.3,648.6 L908.6,648.2 L909.9,647.8 L911.3,647.4 L912.6,647.0 L913.9,646.6 L915.2,646.2 L916.5,645.9 L917.8,645.5 L919.1,645.1 L920.5,644.7 L921.8,644.3 L923.1,643.9 L924.4,643.5 L925.7,643.1 L927.0,642.7 L928.4,642.3 L929.7,641.9 L931.0,641.5 L932.3,641.1 L933.6,640.7 L934.9,640.3 L936.3,640.0 L937.6,639.6 L938.9,639.2 L940.2,638.8 L941.5,638.4 L942.8,638.0 L944.2,637.6 L945.5,637.2 L946.8,636.8 L948.1,636.5 L949.4,636.1 L950.8,635.7 L952.1,635.3 L953.4,634.9 L954.7,634.5 L956.0,634.1 L957.3,633.7 L958.7,633.4 L960.0,633.0 L961.3,632.6 L962.6,632.2 L963.9,631.8 L965.3,631.4 L966.6,631.0 L967.9,630.7 L969.2,630.3 L970.5,629.9 L971.9,629.5 L973.2,629.1 L974.5,628.7 L975.8,628.4 L977.1,628.0 L978.5,627.6 L979.8,627.2 L981.1,626.8 L982.4,626.4 L983.7,626.1 L985.0,625.7 L986.4,625.3 L987.7,624.9 L989.0,624.5 L990.3,624.1 L991.6,623.8 L993.0,623.4 L994.3,623.0 L995.6,622.6 L996.9,622.2 L998.3,621.9 L999.6,621.5 L1000.9,621.1 L1002.2,620.7 L1003.5,620.4 L1004.9,620.0 L1006.2,619.6 L1007.5,619.2 L1008.8,618.8 L1010.1,618.5 L1011.5,618.1 L1012.8,617.7 L1014.1,617.3 L1015.4,616.9 L1016.8,616.6 L1018.1,616.2 L1019.4,615.8 L1020.7,615.4 L1022.0,615.0 L1023.4,614.7 L1024.7,614.3 L1026.0,613.9 L1027.3,613.5 L1028.7,613.2 L1030.0,612.8 L1031.3,612.4 L1032.6,612.0 L1033.9,611.7 L1035.3,611.3 L1036.6,610.9 L1037.9,610.5 L1039.2,610.1 L1040.6,609.8 L1041.9,609.4 L1043.2,609.0 L1044.5,608.6 L1045.8,608.3 L1047.2,607.9 L1048.5,607.5 L1049.8,607.1 L1051.1,606.8 L1052.5,606.4 L1053.8,606.0 L1055.1,605.6 L1056.4,605.3 L1057.8,604.9 L1059.1,604.5 L1060.4,604.1 L1061.7,603.8 L1063.0,603.4 L1064.4,603.0 L1065.7,602.6 L1067.0,602.3 L1068.3,601.9 L1069.7,601.5 L1071.0,601.1 L1072.3,600.8 L1073.6,600.4 L1075.0,600.0 L1076.3,599.6 L1077.6,599.3 L1078.9,598.9 L1080.2,598.5 L1081.6,598.1 L1082.9,597.8 L1084.2,597.4 L1085.5,597.0 L1086.9,596.6 L1088.2,596.3 L1089.5,595.9 L1090.8,595.5 L1092.2,595.2 L1093.5,594.8 L1094.8,594.4 L1096.1,594.0 L1097.5,593.7 L1098.8,593.3 L1100.1,592.9 L1101.4,592.6 L1102.8,592.2 L1104.1,591.8 L1105.4,591.5 L1106.7,591.1 L1108.0,590.7 L1109.4,590.3 L1110.7,590.0 L1112.0,589.6 L1113.3,589.2 L1114.7,588.9 L1116.0,588.5 L1117.3,588.1 L1118.7,587.8 L1120.0,587.4 L1121.3,587.0 L1122.6,586.6 L1124.0,586.3 L1125.3,585.9 L1126.6,585.5 L1127.9,585.2 L1129.3,584.8 L1130.6,584.5 L1131.9,584.1 L1133.2,583.7 L1134.6,583.4 L1135.9,583.0 L1137.2,582.6 L1138.5,582.3 L1139.9,581.9 L1141.2,581.5 L1142.5,581.2 L1143.8,580.8 L1145.2,580.5 L1146.5,580.1 L1147.8,579.7 L1149.2,579.4 L1150.5,579.0 L1151.8,578.6 L1153.1,578.3 L1154.5,577.9 L1155.8,577.6 L1157.1,577.2 L1158.4,576.9 L1159.8,576.5 L1161.1,576.1 L1162.4,575.8 L1163.8,575.4 L1165.1,575.1 L1166.4,574.7 L1167.7,574.4 L1169.1,574.0 L1170.4,573.6 L1171.7,573.3 L1173.0,573.0 L1174.4,572.6 L1175.7,572.2 L1177.0,571.9 L1178.4,571.5 L1179.7,571.2 L1181.0,570.8 L1182.4,570.5 L1183.7,570.1 L1185.0,569.8 L1186.3,569.4 L1187.7,569.1 L1189.0,568.7 L1190.3,568.4 L1191.7,568.0 L1193.0,567.7 L1194.3,567.4 L1195.7,567.0 L1197.0,566.7 L1198.3,566.3 L1199.7,566.0 L1201.0,565.6 L1202.3,565.3 L1203.7,565.0 L1205.0,564.6 L1206.3,564.3 L1207.6,563.9 L1209.0,563.6 L1210.3,563.2 L1211.6,562.9 L1213.0,562.6 L1214.3,562.2 L1215.6,561.9 L1217.0,561.6 L1218.3,561.2 L1219.6,560.9 L1221.0,560.5 L1222.3,560.2 L1223.6,559.9 L1225.0,559.5 L1226.3,559.2 L1227.6,558.9 L1229.0,558.6 L1230.3,558.2 L1231.6,557.9 L1233.0,557.6 L1234.3,557.2 L1235.6,556.9 L1237.0,556.6 L1238.3,556.3 L1239.6,555.9 L1241.0,555.6 L1242.3,555.3 L1243.7,555.0 L1245.0,554.6 L1246.3,554.3 L1247.7,554.0 L1249.0,553.7 L1250.3,553.4 L1251.7,553.0 L1253.0,552.7 L1254.3,552.4 L1255.7,552.1 L1257.0,551.8 L1258.3,551.4 L1259.7,551.1 L1261.0,550.8 L1262.4,550.5 L1263.7,550.2 L1265.0,549.9 L1266.4,549.6 L1267.7,549.2 L1269.0,548.9 L1270.4,548.6 L1271.7,548.3 L1273.1,548.0 L1274.4,547.7 L1275.7,547.4 L1277.1,547.1 L1278.4,546.8 L1279.8,546.5 L1281.1,546.2 L1282.4,545.9 L1283.8,545.6 L1285.1,545.3 L1286.5,545.0 L1287.8,544.7 L1289.1,544.4 L1290.5,544.1 L1291.8,543.8 L1293.2,543.5 L1294.5,543.2 L1295.8,542.9 L1297.2,542.6 L1298.5,542.3 L1299.9,542.0 L1301.2,541.7 L1302.6,541.4 L1303.9,541.1 L1305.2,540.9 L1306.6,540.6 L1307.9,540.3 L1309.3,540.0 L1310.6,539.7 L1312.0,539.4 L1313.3,539.1 L1314.7,538.9 L1316.0,538.6 L1317.3,538.3 L1318.7,538.0 L1320.0,537.8 L1321.4,537.5 L1322.7,537.2 L1324.1,536.9 L1325.4,536.6 L1326.8,536.4 M1440.4,516.1 L1441.8,515.9 L1443.1,515.7 L1444.5,515.5 L1445.8,515.3 L1447.2,515.0 L1448.5,514.8 L1449.9,514.6 L1451.3,514.4 L1452.6,514.2 L1454.0,514.0 L1455.3,513.8 L1456.7,513.5 L1458.1,513.3 L1459.4,513.1 L1460.8,512.9 L1462.1,512.7 L1463.5,512.5 L1464.8,512.3 L1466.2,512.1 L1467.6,511.9 L1468.9,511.6 L1470.3,511.4 L1471.7,511.2 L1473.0,511.0 L1474.4,510.8 L1475.7,510.6 L1477.1,510.4 L1478.4,510.2 L1479.8,510.0 L1481.2,509.8 L1482.5,509.6 L1483.9,509.4 L1485.2,509.1 L1486.6,508.9 L1488.0,508.7 L1489.3,508.5 L1490.7,508.3 L1492.0,508.1 L1493.4,507.9 L1494.8,507.7 L1496.1,507.5 L1497.5,507.3 L1498.8,507.1 L1500.2,506.9 L1501.5,506.7 L1502.9,506.5 L1504.3,506.2 L1505.6,506.1 L1507.0,505.8 L1508.3,505.6 L1509.7,505.4 L1511.1,505.2 L1512.4,505.0 L1513.8,504.8 L1515.2,504.6 L1516.5,504.4 L1517.9,504.2 L1519.2,504.0 L1520.6,503.8 L1522.0,503.6 L1523.3,503.4 L1524.7,503.2 L1526.0,503.0 L1527.4,502.8 L1528.7,502.6 L1530.1,502.4 L1531.5,502.1 L1532.8,501.9 L1534.2,501.7 L1535.5,501.5 L1536.9,501.3 L1538.3,501.1 L1539.6,500.9 L1541.0,500.7 L1542.3,500.5 L1543.7,500.3 L1545.0,500.1 L1546.4,499.9 L1547.8,499.7 L1549.1,499.5 L1550.5,499.3 L1551.8,499.1 L1553.2,498.9 L1554.6,498.6 L1555.9,498.4 L1557.3,498.2 L1558.6,498.0 L1560.0,497.8 L1561.4,497.6 L1562.7,497.4 L1564.1,497.2 L1565.4,497.0 L1566.8,496.8 L1568.2,496.6 L1569.5,496.4 L1570.9,496.1 L1572.2,495.9 L1573.6,495.7 L1574.9,495.5 L1576.3,495.3 L1577.7,495.1 L1579.0,494.9 L1580.4,494.7 L1581.7,494.5 L1583.1,494.2 L1584.4,494.0 L1585.8,493.8 L1587.2,493.6 L1588.5,493.4 L1589.9,493.2 L1591.2,493.0 L1592.6,492.8 L1593.9,492.5 L1595.3,492.3 L1596.7,492.1 L1598.0,491.9 L1599.4,491.7 L1600.7,491.5 L1602.1,491.2 L1603.4,491.0 L1604.8,490.8 L1606.2,490.6 L1607.5,490.4 L1608.9,490.2 L1610.2,489.9 L1611.6,489.7 L1612.9,489.5 L1614.3,489.3 L1615.6,489.1 L1617.0,488.8 " fill="none" stroke="#000000" stroke-width="7.6" stroke-linecap="round" stroke-linejoin="round"/>
<path clip-path="url(#clipA)" d="M230.4,1229.7 L233.6,1199.8 L233.8,1198.4 L233.9,1197.0 L234.1,1195.5 L234.2,1194.1 L234.4,1192.6 L234.6,1191.2 L234.7,1189.7 L234.9,1188.3 L235.1,1186.8 L235.2,1185.4 L235.4,1183.9 L235.6,1182.5 L235.7,1181.0 L235.9,1179.6 L236.1,1178.1 L236.3,1176.7 L236.4,1175.2 L236.6,1173.8 L236.8,1172.3 L237.0,1170.8 L237.2,1169.4 L237.3,1167.9 L237.5,1166.5 L237.7,1165.0 L237.9,1163.6 L238.1,1162.1 L238.3,1160.7 L238.5,1159.2 L238.7,1157.7 L238.9,1156.3 L239.1,1154.8 L239.3,1153.4 L239.5,1151.9 L239.7,1150.5 L239.9,1149.0 L240.1,1147.5 L240.3,1146.1 L240.6,1144.6 L240.8,1143.2 L241.0,1141.7 L241.2,1140.2 L241.4,1138.8 L241.7,1137.3 L241.9,1135.9 L242.1,1134.4 L242.3,1132.9 L242.6,1131.5 L242.8,1130.0 L243.0,1128.6 L243.3,1127.1 L243.5,1125.6 L243.8,1124.2 L244.0,1122.7 L244.2,1121.2 L244.5,1119.8 L244.7,1118.3 L245.0,1116.9 L245.2,1115.4 L245.5,1114.0 L245.8,1112.5 L246.0,1111.0 L246.3,1109.6 L246.5,1108.1 L246.8,1106.7 L247.1,1105.2 L247.3,1103.7 L247.6,1102.3 L247.9,1100.8 L248.1,1099.4 L248.4,1097.9 L248.7,1096.4 L249.0,1095.0 L249.3,1093.5 L249.6,1092.1 L249.8,1090.6 L250.1,1089.2 L250.4,1087.7 L250.7,1086.2 L251.0,1084.8 L251.3,1083.3 L251.6,1081.9 L251.9,1080.4 L252.2,1079.0 L252.5,1077.5 L252.8,1076.1 L253.2,1074.6 L253.5,1073.2 L253.8,1071.7 L254.1,1070.2 L254.4,1068.8 L254.8,1067.3 L255.1,1065.9 L255.4,1064.5 L255.8,1063.0 L256.1,1061.6 L256.4,1060.1 L256.8,1058.7 L257.1,1057.2 L257.4,1055.8 L257.8,1054.3 L258.1,1052.9 L258.5,1051.4 L258.8,1050.0 L259.2,1048.5 L259.6,1047.1 L259.9,1045.7 L260.3,1044.2 L260.6,1042.8 L261.0,1041.3 L261.4,1039.9 L261.8,1038.5 L262.1,1037.0 L262.5,1035.6 L262.9,1034.2 L263.3,1032.7 L263.7,1031.3 L264.1,1029.8 L264.5,1028.4 L264.9,1027.0 L265.3,1025.5 L265.7,1024.1 L266.1,1022.7 L266.5,1021.3 L266.9,1019.8 L267.3,1018.4 L267.7,1017.0 L268.1,1015.6 L268.5,1014.1 L269.0,1012.7 L269.4,1011.3 L269.8,1009.9 L270.2,1008.5 L270.7,1007.0 L271.1,1005.6 L271.6,1004.2 L272.0,1002.8 L272.4,1001.4 L272.9,1000.0 L273.4,998.5 L273.8,997.1 L274.3,995.7 L274.7,994.3 L275.2,992.9 L275.6,991.5 L276.1,990.1 L276.6,988.7 L277.1,987.3 L277.5,985.9 L278.0,984.5 L278.5,983.1 L279.0,981.7 L279.5,980.3 L280.0,978.9 L280.5,977.5 L281.0,976.1 L281.5,974.7 L282.0,973.3 L282.5,971.9 L283.0,970.5 L283.5,969.2 L284.0,967.8 L284.6,966.4 L285.1,965.0 L285.6,963.6 L286.1,962.2 L286.7,960.9 L287.2,959.5 L287.7,958.1 L288.3,956.7 L288.8,955.4 L289.4,954.0 L289.9,952.6 L290.5,951.3 L291.1,949.9 L291.6,948.5 L292.2,947.2 L292.8,945.8 L293.3,944.4 L293.9,943.1 L294.5,941.7 L295.1,940.4 L295.6,939.0 L296.2,937.7 L296.8,936.3 L297.4,935.0 L298.0,933.6 L298.6,932.3 L299.2,930.9 L299.8,929.6 L300.5,928.2 L301.1,926.9 L301.7,925.6 L302.3,924.2 L302.9,922.9 L303.6,921.6 L304.2,920.2 L304.8,918.9 L305.5,917.6 L306.1,916.3 L306.8,915.0 L307.4,913.6 L308.1,912.3 L308.7,911.0 L309.4,909.7 L310.1,908.4 L310.7,907.0 L311.4,905.7 L312.1,904.4 L312.8,903.1 L313.5,901.8 L314.1,900.5 L314.8,899.2 L315.5,897.9 L316.2,896.6 L316.9,895.3 L317.6,894.0 L318.3,892.8 L319.1,891.5 L319.8,890.2 L320.5,888.9 L321.2,887.6 L321.9,886.3 L322.7,885.1 L323.4,883.8 L324.1,882.5 L324.9,881.2 L325.6,880.0 L326.4,878.7 L327.1,877.4 L327.9,876.2 L328.6,874.9 L329.4,873.6 L330.1,872.4 L330.9,871.1 L331.7,869.9 L332.5,868.6 L333.2,867.4 L334.0,866.1 L334.8,864.9 L335.6,863.6 L336.4,862.4 L337.2,861.2 L338.0,859.9 L338.8,858.7 L339.6,857.5 L340.4,856.2 L341.2,855.0 L342.0,853.8 L342.8,852.5 L343.6,851.3 L344.4,850.1 L345.3,848.9 L346.1,847.7 L346.9,846.5 L347.8,845.2 L348.6,844.0 L349.4,842.8 L350.3,841.6 L351.1,840.4 L352.0,839.2 L352.9,838.0 L353.7,836.8 L354.6,835.6 L355.4,834.4 L356.3,833.2 L357.2,832.0 L358.0,830.8 L358.9,829.7 L359.8,828.5 L360.7,827.3 L361.6,826.1 L362.4,824.9 L363.3,823.8 L364.2,822.6 L365.1,821.4 L366.0,820.2 L366.9,819.1 L367.8,817.9 L368.7,816.8 L369.6,815.6 L370.6,814.4 L371.5,813.3 L372.4,812.1 L373.3,811.0 L374.2,809.8 L375.2,808.7 L376.1,807.5 L377.0,806.4 L378.0,805.2 L378.9,804.1 L379.8,803.0 L380.8,801.8 L381.7,800.7 L382.7,799.6 L383.6,798.4 L384.6,797.3 L385.6,796.2 L386.5,795.1 L387.5,794.0 L388.4,792.8 L389.4,791.7 L390.4,790.6 L391.4,789.5 L392.3,788.4 L393.3,787.3 L394.3,786.2 L395.3,785.1 L396.3,784.0 L397.3,782.9 L398.2,781.8 L399.2,780.7 L400.2,779.6 L401.2,778.5 L402.2,777.4 L403.2,776.4 L404.3,775.3 L405.3,774.2 L406.3,773.1 L407.3,772.0 L408.3,771.0 L409.3,769.9 L410.4,768.8 L411.4,767.8 L412.4,766.7 L413.5,765.6 L414.5,764.6 L415.5,763.5 L416.6,762.5 L417.6,761.4 L418.6,760.4 L419.7,759.3 L420.7,758.3 L421.8,757.2 L422.9,756.2 L423.9,755.2 L425.0,754.1 L426.0,753.1 L427.1,752.1 L428.1,751.0 L429.2,750.0 L430.3,749.0 L431.4,748.0 L432.4,746.9 L433.5,745.9 L434.6,744.9 L435.7,743.9 L436.8,742.9 L437.8,741.9 L438.9,740.9 L440.0,739.9 L441.1,738.9 L442.2,737.9 L443.3,736.9 L444.4,735.9 L445.5,734.9 L446.6,733.9 L447.7,732.9 L448.8,731.9 L449.9,731.0 L451.1,730.0 L452.2,729.0 L453.3,728.0 L454.4,727.0 L455.5,726.1 L456.6,725.1 L457.8,724.1 L458.9,723.2 L460.0,722.2 L461.2,721.3 L462.3,720.3 L463.4,719.4 L464.6,718.4 L465.7,717.5 L466.9,716.5 L468.0,715.6 L469.1,714.6 L470.3,713.7 L471.4,712.8 L472.6,711.8 L473.7,710.9 L474.9,710.0 L476.1,709.0 L477.2,708.1 L478.4,707.2 L479.5,706.3 L480.7,705.4 L481.9,704.4 L483.0,703.5 L484.2,702.6 L485.4,701.7 L486.6,700.8 L487.7,699.9 L488.9,699.0 L490.1,698.1 L491.3,697.2 L492.5,696.3 L493.6,695.4 L494.8,694.5 L496.0,693.7 L497.2,692.8 L498.4,691.9 L499.6,691.0 L500.8,690.2 L502.0,689.3 L503.2,688.4 L504.4,687.5 L505.6,686.7 L506.8,685.8 L508.0,685.0 L509.2,684.1 L510.4,683.3 L511.6,682.4 L512.9,681.5 L514.1,680.7 L515.3,679.9 L516.5,679.0 L517.7,678.2 L519.0,677.3 L520.2,676.5 L521.4,675.7 L522.6,674.8 L523.9,674.0 L525.1,673.2 L526.3,672.4 L527.5,671.5 L528.8,670.7 L530.0,669.9 L531.3,669.1 L532.5,668.3 L533.7,667.5 L535.0,666.7 L536.2,665.9 L537.5,665.1 L538.7,664.3 L540.0,663.5 L541.2,662.7 L542.5,661.9 L543.7,661.1 L545.0,660.3 L546.2,659.5 L547.5,658.7 L548.7,657.9 L550.0,657.1 L551.2,656.4 L552.5,655.6 L553.8,654.8 L555.0,654.0 L556.3,653.3 L557.5,652.5 L558.8,651.7 L560.1,651.0 L561.4,650.2 L562.6,649.4 L563.9,648.7 L565.2,647.9 L566.4,647.2 L567.7,646.4 L569.0,645.7 L570.3,644.9 L571.5,644.2 L572.8,643.4 L574.1,642.7 L575.4,641.9 L576.7,641.2 L578.0,640.5 L579.2,639.7 L580.5,639.0 L581.8,638.3 L583.1,637.5 L584.4,636.8 L585.7,636.1 L587.0,635.4 L588.3,634.6 L589.6,633.9 L590.9,633.2 L592.1,632.5 L593.4,631.8 L594.7,631.0 L596.0,630.3 L597.3,629.6 L598.6,628.9 L599.9,628.2 L601.2,627.5 L602.5,626.8 L603.8,626.1 L605.1,625.4 L606.5,624.7 L607.8,624.0 L609.1,623.3 L610.4,622.6 L611.7,621.9 L613.0,621.2 L614.3,620.5 L615.6,619.8 L616.9,619.1 L618.2,618.5 L619.5,617.8 L620.9,617.1 L622.2,616.4 L623.5,615.8 L624.8,615.1 L626.1,614.4 L627.4,613.7 L628.8,613.1 L630.1,612.4 L631.4,611.7 L632.7,611.1 L634.0,610.4 L635.4,609.7 L636.7,609.1 L638.0,608.4 L639.3,607.8 L640.6,607.1 L642.0,606.4 L643.3,605.8 L644.6,605.1 L646.0,604.5 L647.3,603.8 L648.6,603.2 L649.9,602.5 L651.3,601.9 L652.6,601.3 L653.9,600.6 L655.3,600.0 L656.6,599.4 L657.9,598.7 L659.3,598.1 L660.6,597.4 L662.0,596.8 L663.3,596.2 L664.6,595.5 L666.0,594.9 L667.3,594.3 L668.6,593.7 L670.0,593.1 L671.3,592.4 L672.7,591.8 L674.0,591.2 L675.4,590.6 L676.7,590.0 L678.0,589.4 L679.4,588.8 L680.7,588.1 L682.1,587.5 L683.4,586.9 L684.8,586.3 L686.1,585.7 L687.5,585.1 L688.8,584.5 L690.2,583.9 L691.5,583.3 L692.9,582.7 L694.2,582.1 L695.6,581.5 L697.0,580.9 L698.3,580.3 L699.7,579.8 L701.0,579.2 L702.4,578.6 L703.7,578.0 L705.1,577.4 L706.5,576.8 L707.8,576.2 L709.2,575.7 L710.5,575.1 L711.9,574.5 L713.2,573.9 L714.6,573.4 L716.0,572.8 L717.3,572.2 L718.7,571.6 L720.1,571.1 L721.4,570.5 L722.8,570.0 L724.2,569.4 L725.5,568.8 L726.9,568.3 L728.3,567.7 L729.6,567.1 L731.0,566.6 L732.4,566.0 L733.7,565.5 L735.1,564.9 L736.5,564.4 L737.9,563.8 L739.2,563.3 L740.6,562.7 L742.0,562.2 L743.3,561.6 L744.7,561.1 L746.1,560.5 L747.5,560.0 L748.8,559.5 L750.2,558.9 L751.6,558.4 L753.0,557.8 L754.4,557.3 L755.7,556.8 L757.1,556.2 L758.5,555.7 L759.9,555.2 L761.2,554.6 L762.6,554.1 L764.0,553.6 L765.4,553.1 L766.8,552.5 L768.1,552.0 L769.5,551.5 L770.9,551.0 L772.3,550.5 L773.7,550.0 L775.1,549.4 L776.5,548.9 L777.8,548.4 L779.2,547.9 L780.6,547.4 L782.0,546.9 L783.4,546.4 L784.8,545.9 L786.1,545.3 L787.5,544.8 L788.9,544.3 L790.3,543.8 L791.7,543.3 L793.1,542.8 L794.5,542.3 L795.9,541.8 L797.3,541.3 L798.7,540.8 L800.0,540.3 L801.4,539.8 L802.8,539.3 L804.2,538.9 L805.6,538.4 L807.0,537.9 L808.4,537.4 L809.8,536.9 L811.2,536.4 L812.6,535.9 L814.0,535.4 L815.4,534.9 L816.8,534.5 L818.2,534.0 L819.6,533.5 L821.0,533.0 L822.4,532.5 L823.8,532.0 L825.2,531.6 L826.6,531.1 L828.0,530.6 L829.4,530.1 L830.8,529.7 L832.2,529.2 L833.6,528.7 L835.0,528.2 L836.4,527.8 L837.8,527.3 L839.2,526.8 L840.6,526.4 L842.0,525.9 L843.4,525.4 L844.8,525.0 L846.2,524.5 L847.6,524.0 L849.0,523.6 L850.4,523.1 L851.8,522.7 L853.2,522.2 L854.6,521.7 L856.0,521.3 L857.4,520.8 L858.8,520.4 L860.2,519.9 L861.6,519.5 L863.0,519.0 L864.4,518.5 L865.8,518.1 L867.2,517.6 L868.6,517.2 L870.1,516.7 L871.5,516.3 L872.9,515.8 L874.3,515.4 L875.7,514.9 L877.1,514.5 L878.5,514.0 L879.9,513.6 L881.3,513.1 L882.7,512.7 L884.1,512.3 L885.5,511.8 L887.0,511.4 L888.4,510.9 L889.8,510.5 L891.2,510.1 L892.6,509.6 L894.0,509.2 L895.4,508.7 L896.8,508.3 L898.2,507.9 L899.7,507.4 L901.1,507.0 L902.5,506.6 L903.9,506.1 L905.3,505.7 L906.7,505.2 L908.1,504.8 L909.5,504.4 L911.0,503.9 L912.4,503.5 L913.8,503.1 L915.2,502.7 L916.6,502.2 L918.0,501.8 L919.5,501.4 L920.9,500.9 L922.3,500.5 L923.7,500.1 L925.1,499.7 L926.5,499.2 L927.9,498.8 L929.4,498.4 L930.8,498.0 L932.2,497.5 L933.6,497.1 L935.0,496.7 L936.4,496.3 L937.9,495.9 L939.3,495.4 L940.7,495.0 L942.1,494.6 L943.5,494.2 L944.9,493.8 L946.4,493.3 L947.8,492.9 L949.2,492.5 L950.6,492.1 L952.0,491.7 L953.4,491.3 L954.9,490.9 L956.3,490.4 L957.7,490.0 L959.1,489.6 L960.5,489.2 L962.0,488.8 L963.4,488.4 L964.8,488.0 L966.2,487.6 L967.6,487.1 L969.0,486.7 L970.5,486.3 L971.9,485.9 L973.3,485.5 L974.7,485.1 L976.1,484.7 L977.6,484.3 L979.0,483.9 L980.4,483.5 L981.8,483.1 L983.3,482.7 L984.7,482.3 L986.1,481.9 L987.5,481.5 L989.0,481.1 L990.4,480.7 L991.8,480.3 L993.2,479.9 L994.6,479.5 L996.1,479.1 L997.5,478.7 L998.9,478.3 L1000.3,477.9 L1001.8,477.5 L1003.2,477.1 L1004.6,476.7 L1006.0,476.3 L1007.5,475.9 L1008.9,475.5 L1010.3,475.1 L1011.7,474.7 L1013.1,474.3 L1014.6,473.9 L1016.0,473.6 L1017.4,473.2 L1018.9,472.8 L1020.3,472.4 L1021.7,472.0 L1023.1,471.6 L1024.5,471.2 L1026.0,470.8 L1027.4,470.4 L1028.8,470.1 L1030.2,469.7 L1031.7,469.3 L1033.1,468.9 L1034.5,468.5 L1036.0,468.1 L1037.4,467.8 L1038.8,467.4 L1040.2,467.0 L1041.7,466.6 L1043.1,466.2 L1044.5,465.8 L1046.0,465.5 L1047.4,465.1 L1048.8,464.7 L1050.2,464.3 L1051.7,463.9 L1053.1,463.6 L1054.5,463.2 L1056.0,462.8 L1057.4,462.4 L1058.8,462.1 L1060.2,461.7 L1061.7,461.3 L1063.1,460.9 L1064.5,460.6 L1066.0,460.2 L1067.4,459.8 L1068.8,459.4 L1070.2,459.1 L1071.7,458.7 L1073.1,458.3 L1074.5,457.9 L1076.0,457.6 L1077.4,457.2 L1078.8,456.8 L1080.3,456.5 L1081.7,456.1 L1083.1,455.7 L1084.6,455.4 L1086.0,455.0 L1087.4,454.6 L1088.8,454.3 L1090.3,453.9 L1091.7,453.5 L1093.2,453.2 L1094.6,452.8 L1096.0,452.4 L1097.5,452.1 L1098.9,451.7 L1100.3,451.3 L1101.8,451.0 L1103.2,450.6 L1104.6,450.3 L1106.0,449.9 L1107.5,449.5 L1108.9,449.2 L1110.3,448.8 L1111.8,448.4 L1113.2,448.1 L1114.7,447.7 L1116.1,447.4 L1117.5,447.0 L1119.0,446.7 L1120.4,446.3 L1121.8,445.9 L1123.2,445.6 L1124.7,445.2 L1126.1,444.9 L1127.6,444.5 L1129.0,444.2 L1130.4,443.8 L1131.9,443.5 L1133.3,443.1 L1134.7,442.8 L1136.2,442.4 L1137.6,442.1 L1139.0,441.7 L1140.5,441.4 L1141.9,441.0 L1143.3,440.6 L1144.8,440.3 L1146.2,439.9 L1147.7,439.6 L1149.1,439.2 L1150.5,438.9 L1152.0,438.6 L1153.4,438.2 L1154.8,437.9 L1156.3,437.5 L1157.7,437.2 L1159.2,436.8 L1160.6,436.5 L1162.0,436.1 L1163.5,435.8 L1164.9,435.4 L1166.3,435.1 L1167.8,434.8 L1169.2,434.4 L1170.7,434.1 L1172.1,433.7 L1173.5,433.4 L1175.0,433.0 L1176.4,432.7 L1177.8,432.4 L1179.3,432.0 L1180.7,431.7 L1182.2,431.3 L1183.6,431.0 L1185.0,430.7 L1186.5,430.3 L1187.9,430.0 L1189.3,429.6 L1190.8,429.3 L1192.2,429.0 L1193.7,428.6 L1195.1,428.3 L1196.5,428.0 L1198.0,427.6 L1199.4,427.3 L1200.9,426.9 L1202.3,426.6 L1203.8,426.3 L1205.2,425.9 L1206.6,425.6 L1208.1,425.3 L1209.5,424.9 L1211.0,424.6 L1212.4,424.3 L1213.8,423.9 L1215.3,423.6 L1216.7,423.3 L1218.2,423.0 L1219.6,422.6 L1221.0,422.3 L1222.5,422.0 L1223.9,421.6 L1225.4,421.3 L1226.8,421.0 L1228.2,420.6 L1229.7,420.3 L1231.1,420.0 L1232.6,419.7 L1234.0,419.3 L1235.5,419.0 L1236.9,418.7 L1238.3,418.4 L1239.8,418.0 L1241.2,417.7 L1242.7,417.4 L1244.1,417.1 L1245.5,416.7 L1247.0,416.4 L1248.4,416.1 L1249.9,415.8 L1251.3,415.4 L1252.8,415.1 L1254.2,414.8 L1255.6,414.5 L1257.1,414.1 L1258.5,413.8 L1260.0,413.5 L1261.4,413.2 L1262.9,412.9 L1264.3,412.6 L1265.8,412.2 L1267.2,411.9 L1268.6,411.6 L1270.1,411.3 L1271.5,410.9 L1273.0,410.6 L1274.4,410.3 L1275.8,410.0 L1277.3,409.7 L1278.7,409.4 L1280.2,409.0 L1281.6,408.7 L1283.1,408.4 L1284.5,408.1 L1286.0,407.8 L1287.4,407.5 L1288.8,407.1 L1290.3,406.8 L1291.7,406.5 L1293.2,406.2 L1294.6,405.9 L1296.1,405.6 L1297.5,405.2 L1299.0,404.9 L1300.4,404.6 L1301.8,404.3 L1303.3,404.0 L1304.7,403.7 L1306.2,403.4 L1307.6,403.1 L1309.1,402.8 L1310.5,402.4 L1312.0,402.1 L1313.4,401.8 L1314.8,401.5 L1316.3,401.2 L1317.7,400.9 L1319.2,400.6 L1320.6,400.3 L1322.1,400.0 L1323.5,399.6 L1325.0,399.4 M1410.4,381.7 L1411.8,381.4 L1413.3,381.1 L1414.7,380.9 L1416.2,380.6 L1417.6,380.3 L1419.1,380.0 L1420.5,379.7 L1422.0,379.4 L1423.4,379.1 L1424.9,378.9 L1426.3,378.6 L1427.8,378.3 L1429.2,378.0 L1430.7,377.7 L1432.1,377.4 L1433.6,377.1 L1435.0,376.9 L1436.5,376.6 L1437.9,376.3 L1439.4,376.0 L1440.8,375.7 L1442.3,375.4 L1443.7,375.2 L1445.2,374.9 L1446.6,374.6 L1448.1,374.3 L1449.5,374.1 L1451.0,373.8 L1452.4,373.5 L1453.9,373.2 L1455.3,372.9 L1456.8,372.7 L1458.2,372.4 L1459.7,372.1 L1461.1,371.8 L1462.6,371.6 L1464.0,371.3 L1465.5,371.0 L1467.0,370.7 L1468.4,370.5 L1469.9,370.2 L1471.3,369.9 L1472.8,369.6 L1474.2,369.4 L1475.7,369.1 L1477.1,368.8 L1478.6,368.6 L1480.0,368.3 L1481.5,368.0 L1482.9,367.8 L1484.4,367.5 L1485.8,367.2 L1487.3,366.9 L1488.7,366.7 L1490.2,366.4 L1491.7,366.1 L1493.1,365.9 L1494.6,365.6 L1496.0,365.4 L1497.5,365.1 L1498.9,364.8 L1500.4,364.6 L1501.8,364.3 L1503.3,364.0 L1504.7,363.8 L1506.2,363.5 L1507.6,363.2 L1509.1,363.0 L1510.5,362.7 L1512.0,362.5 L1513.5,362.2 L1514.9,361.9 L1516.4,361.7 L1517.8,361.4 L1519.3,361.2 L1520.7,360.9 L1522.2,360.6 L1523.6,360.4 L1525.1,360.1 L1526.5,359.9 L1528.0,359.6 L1529.5,359.4 L1530.9,359.1 L1532.4,358.9 L1533.8,358.6 L1535.3,358.4 L1536.7,358.1 L1538.2,357.8 L1539.7,357.6 L1541.1,357.3 L1542.6,357.1 L1544.0,356.8 L1545.5,356.6 L1546.9,356.3 L1548.4,356.1 L1549.8,355.8 L1551.3,355.6 L1552.8,355.3 L1554.2,355.1 L1555.7,354.9 L1557.1,354.6 L1558.6,354.4 L1560.0,354.1 L1561.5,353.9 L1563.0,353.6 L1564.4,353.4 L1565.9,353.1 L1567.3,352.9 L1568.8,352.6 L1570.2,352.4 L1571.7,352.2 L1573.2,351.9 L1574.6,351.7 L1576.1,351.4 L1577.5,351.2 L1579.0,351.0 L1580.5,350.7 L1581.9,350.5 L1583.4,350.2 L1584.8,350.0 L1586.3,349.8 L1587.7,349.5 L1589.2,349.3 L1590.7,349.1 L1592.1,348.8 L1593.6,348.6 L1595.0,348.4 L1596.5,348.1 L1598.0,347.9 L1599.4,347.7 L1600.9,347.4 L1602.3,347.2 L1603.8,347.0 L1605.3,346.7 L1606.7,346.5 L1608.2,346.3 L1609.6,346.1 L1611.1,345.8 L1612.6,345.6 L1614.0,345.4 L1615.5,345.1 L1616.9,344.9 " fill="none" stroke="#008000" stroke-width="7.6" stroke-linecap="round" stroke-linejoin="round"/>
<path clip-path="url(#clipA)" d="M222.1,1230.0 L225.0,1200.1 L225.2,1198.5 L225.3,1197.0 L225.5,1195.5 L225.6,1193.9 L225.8,1192.4 L226.0,1190.8 L226.1,1189.3 L226.3,1187.7 L226.4,1186.2 L226.6,1184.7 L226.8,1183.1 L226.9,1181.6 L227.1,1180.0 L227.3,1178.5 L227.4,1177.0 L227.6,1175.4 L227.8,1173.9 L227.9,1172.4 L228.1,1170.8 L228.3,1169.3 L228.5,1167.8 L228.6,1166.3 L228.8,1164.8 L229.0,1163.2 L229.2,1161.7 L229.4,1160.2 L229.5,1158.7 L229.7,1157.1 L229.9,1155.6 L230.1,1154.1 L230.3,1152.6 L230.5,1151.1 L230.7,1149.5 L230.9,1148.0 L231.1,1146.5 L231.2,1145.0 L231.4,1143.5 L231.7,1142.0 L231.8,1140.5 L232.1,1139.0 L232.3,1137.5 L232.5,1135.9 L232.7,1134.4 L232.9,1132.9 L233.1,1131.4 L233.3,1129.9 L233.5,1128.4 L233.7,1126.9 L233.9,1125.4 L234.2,1123.9 L234.4,1122.4 L234.6,1120.9 L234.8,1119.4 L235.0,1117.9 L235.3,1116.4 L235.5,1114.9 L235.7,1113.4 L235.9,1111.9 L236.2,1110.4 L236.4,1108.9 L236.6,1107.4 L236.9,1105.9 L237.1,1104.4 L237.3,1102.9 L237.6,1101.4 L237.8,1099.9 L238.1,1098.4 L238.3,1097.0 L238.6,1095.5 L238.8,1094.0 L239.1,1092.5 L239.3,1091.0 L239.6,1089.5 L239.8,1088.0 L240.1,1086.5 L240.3,1085.0 L240.6,1083.5 L240.9,1082.0 L241.1,1080.6 L241.4,1079.1 L241.7,1077.6 L241.9,1076.1 L242.2,1074.6 L242.5,1073.1 L242.8,1071.6 L243.1,1070.2 L243.3,1068.7 L243.6,1067.2 L243.9,1065.7 L244.2,1064.2 L244.5,1062.7 L244.8,1061.2 L245.1,1059.8 L245.3,1058.3 L245.6,1056.8 L245.9,1055.3 L246.2,1053.8 L246.5,1052.3 L246.8,1050.9 L247.1,1049.4 L247.4,1047.9 L247.8,1046.4 L248.1,1044.9 L248.4,1043.5 L248.7,1042.0 L249.0,1040.5 L249.3,1039.0 L249.6,1037.5 L250.0,1036.0 L250.3,1034.6 L250.6,1033.1 L250.9,1031.6 L251.3,1030.1 L251.6,1028.6 L251.9,1027.2 L252.3,1025.7 L252.6,1024.2 L253.0,1022.7 L253.3,1021.2 L253.7,1019.7 L254.0,1018.2 L254.3,1016.8 L254.7,1015.3 L255.1,1013.8 L255.4,1012.3 L255.8,1010.8 L256.1,1009.4 L256.5,1007.9 L256.9,1006.4 L257.2,1004.9 L257.6,1003.4 L258.0,1001.9 L258.3,1000.5 L258.7,999.0 L259.1,997.5 L259.5,996.0 L259.9,994.5 L260.2,993.0 L260.6,991.5 L261.0,990.0 L261.4,988.6 L261.8,987.1 L262.2,985.6 L262.6,984.1 L263.0,982.6 L263.4,981.1 L263.8,979.6 L264.2,978.1 L264.6,976.7 L265.1,975.2 L265.5,973.7 L265.9,972.2 L266.3,970.7 L266.8,969.2 L267.2,967.8 L267.6,966.3 L268.0,964.8 L268.5,963.3 L268.9,961.8 L269.4,960.3 L269.8,958.9 L270.2,957.4 L270.7,955.9 L271.1,954.4 L271.6,952.9 L272.1,951.5 L272.5,950.0 L273.0,948.5 L273.4,947.0 L273.9,945.5 L274.4,944.1 L274.9,942.6 L275.3,941.1 L275.8,939.7 L276.3,938.2 L276.8,936.7 L277.3,935.2 L277.8,933.8 L278.3,932.3 L278.8,930.8 L279.3,929.4 L279.8,927.9 L280.3,926.5 L280.8,925.0 L281.3,923.5 L281.8,922.1 L282.3,920.6 L282.9,919.1 L283.4,917.7 L283.9,916.2 L284.4,914.8 L285.0,913.3 L285.5,911.9 L286.1,910.4 L286.6,909.0 L287.1,907.5 L287.7,906.1 L288.2,904.6 L288.8,903.2 L289.4,901.8 L289.9,900.3 L290.5,898.9 L291.1,897.5 L291.6,896.0 L292.2,894.6 L292.8,893.2 L293.4,891.7 L294.0,890.3 L294.6,888.9 L295.2,887.5 L295.8,886.0 L296.4,884.6 L297.0,883.2 L297.6,881.8 L298.2,880.4 L298.8,879.0 L299.4,877.5 L300.1,876.1 L300.7,874.7 L301.3,873.3 L302.0,871.9 L302.6,870.5 L303.2,869.1 L303.9,867.8 L304.5,866.4 L305.2,865.0 L305.8,863.6 L306.5,862.2 L307.2,860.8 L307.8,859.4 L308.5,858.1 L309.2,856.7 L309.9,855.3 L310.6,853.9 L311.2,852.6 L311.9,851.2 L312.6,849.9 L313.3,848.5 L314.0,847.1 L314.7,845.8 L315.4,844.4 L316.2,843.1 L316.9,841.7 L317.6,840.4 L318.3,839.0 L319.1,837.7 L319.8,836.4 L320.5,835.0 L321.3,833.7 L322.0,832.4 L322.8,831.1 L323.5,829.7 L324.3,828.4 L325.1,827.1 L325.8,825.8 L326.6,824.5 L327.4,823.2 L328.1,821.9 L328.9,820.6 L329.7,819.3 L330.5,818.0 L331.3,816.7 L332.1,815.4 L332.9,814.1 L333.7,812.8 L334.5,811.5 L335.3,810.2 L336.1,808.9 L336.9,807.7 L337.7,806.4 L338.6,805.1 L339.4,803.9 L340.2,802.6 L341.1,801.3 L341.9,800.0 L342.7,798.8 L343.6,797.5 L344.4,796.3 L345.3,795.0 L346.1,793.8 L347.0,792.5 L347.9,791.3 L348.7,790.0 L349.6,788.8 L350.5,787.6 L351.4,786.3 L352.2,785.1 L353.1,783.9 L354.0,782.6 L354.9,781.4 L355.8,780.2 L356.7,779.0 L357.6,777.8 L358.5,776.5 L359.4,775.3 L360.3,774.1 L361.2,772.9 L362.1,771.7 L363.0,770.5 L364.0,769.3 L364.9,768.1 L365.8,766.9 L366.8,765.7 L367.7,764.5 L368.6,763.4 L369.6,762.2 L370.5,761.0 L371.4,759.8 L372.4,758.6 L373.4,757.4 L374.3,756.3 L375.3,755.1 L376.2,753.9 L377.2,752.8 L378.2,751.6 L379.1,750.5 L380.1,749.3 L381.1,748.1 L382.1,747.0 L383.1,745.8 L384.1,744.7 L385.0,743.5 L386.0,742.4 L387.0,741.2 L388.0,740.1 L389.0,739.0 L390.0,737.8 L391.0,736.7 L392.1,735.6 L393.1,734.5 L394.1,733.3 L395.1,732.2 L396.1,731.1 L397.1,730.0 L398.2,728.9 L399.2,727.7 L400.2,726.6 L401.3,725.5 L402.3,724.4 L403.4,723.3 L404.4,722.2 L405.4,721.1 L406.5,720.0 L407.6,718.9 L408.6,717.8 L409.7,716.7 L410.7,715.7 L411.8,714.6 L412.9,713.5 L413.9,712.4 L415.0,711.3 L416.1,710.3 L417.1,709.2 L418.2,708.1 L419.3,707.0 L420.4,706.0 L421.5,704.9 L422.6,703.9 L423.6,702.8 L424.8,701.7 L425.8,700.7 L426.9,699.6 L428.0,698.6 L429.1,697.5 L430.3,696.5 L431.4,695.4 L432.5,694.4 L433.6,693.4 L434.7,692.3 L435.8,691.3 L436.9,690.3 L438.1,689.2 L439.2,688.2 L440.3,687.2 L441.4,686.2 L442.6,685.1 L443.7,684.1 L444.9,683.1 L446.0,682.1 L447.1,681.1 L448.3,680.1 L449.4,679.1 L450.6,678.1 L451.7,677.0 L452.9,676.0 L454.0,675.0 L455.2,674.1 L456.4,673.1 L457.5,672.1 L458.7,671.1 L459.9,670.1 L461.0,669.1 L462.2,668.1 L463.4,667.1 L464.5,666.2 L465.7,665.2 L466.9,664.2 L468.1,663.2 L469.2,662.3 L470.4,661.3 L471.6,660.3 L472.8,659.4 L474.0,658.4 L475.2,657.5 L476.4,656.5 L477.6,655.5 L478.8,654.6 L480.0,653.6 L481.2,652.7 L482.4,651.8 L483.6,650.8 L484.8,649.9 L486.0,648.9 L487.2,648.0 L488.4,647.0 L489.7,646.1 L490.9,645.2 L492.1,644.3 L493.3,643.3 L494.6,642.4 L495.8,641.5 L497.0,640.6 L498.2,639.6 L499.5,638.7 L500.7,637.8 L501.9,636.9 L503.2,636.0 L504.4,635.1 L505.6,634.2 L506.9,633.3 L508.1,632.4 L509.4,631.5 L510.6,630.6 L511.9,629.7 L513.1,628.8 L514.4,627.9 L515.6,627.0 L516.9,626.1 L518.1,625.2 L519.4,624.3 L520.6,623.5 L521.9,622.6 L523.2,621.7 L524.4,620.8 L525.7,620.0 L527.0,619.1 L528.2,618.2 L529.5,617.4 L530.8,616.5 L532.0,615.6 L533.3,614.8 L534.6,613.9 L535.9,613.0 L537.1,612.2 L538.4,611.3 L539.7,610.5 L541.0,609.6 L542.3,608.8 L543.5,607.9 L544.8,607.1 L546.1,606.3 L547.4,605.4 L548.7,604.6 L550.0,603.8 L551.3,602.9 L552.6,602.1 L553.9,601.2 L555.2,600.4 L556.5,599.6 L557.8,598.8 L559.1,598.0 L560.4,597.1 L561.7,596.3 L563.0,595.5 L564.3,594.7 L565.6,593.9 L566.9,593.1 L568.2,592.3 L569.5,591.5 L570.8,590.6 L572.1,589.8 L573.4,589.0 L574.8,588.2 L576.1,587.5 L577.4,586.6 L578.7,585.9 L580.0,585.1 L581.3,584.3 L582.6,583.5 L584.0,582.7 L585.3,581.9 L586.6,581.1 L587.9,580.4 L589.3,579.6 L590.6,578.8 L591.9,578.0 L593.2,577.3 L594.6,576.5 L595.9,575.7 L597.2,575.0 L598.5,574.2 L599.9,573.4 L601.2,572.7 L602.5,571.9 L603.9,571.1 L605.2,570.4 L606.5,569.6 L607.9,568.9 L609.2,568.1 L610.6,567.4 L611.9,566.6 L613.2,565.9 L614.6,565.2 L615.9,564.4 L617.3,563.7 L618.6,562.9 L620.0,562.2 L621.3,561.5 L622.6,560.7 L624.0,560.0 L625.3,559.3 L626.7,558.6 L628.0,557.8 L629.4,557.1 L630.7,556.4 L632.1,555.7 L633.4,555.0 L634.8,554.2 L636.1,553.5 L637.5,552.8 L638.8,552.1 L640.2,551.4 L641.5,550.7 L642.9,550.0 L644.3,549.3 L645.6,548.6 L647.0,547.9 L648.3,547.2 L649.7,546.5 L651.0,545.8 L652.4,545.1 L653.8,544.4 L655.1,543.7 L656.5,543.0 L657.9,542.3 L659.2,541.6 L660.6,541.0 L662.0,540.3 L663.3,539.6 L664.7,538.9 L666.1,538.2 L667.4,537.5 L668.8,536.9 L670.2,536.2 L671.5,535.5 L672.9,534.9 L674.3,534.2 L675.7,533.5 L677.0,532.9 L678.4,532.2 L679.8,531.5 L681.2,530.9 L682.5,530.2 L683.9,529.6 L685.3,528.9 L686.7,528.2 L688.1,527.6 L689.4,527.0 L690.8,526.3 L692.2,525.6 L693.6,525.0 L695.0,524.4 L696.4,523.7 L697.7,523.1 L699.1,522.4 L700.5,521.8 L701.9,521.2 L703.3,520.5 L704.7,519.9 L706.0,519.2 L707.4,518.6 L708.8,518.0 L710.2,517.4 L711.6,516.7 L713.0,516.1 L714.4,515.5 L715.8,514.9 L717.2,514.2 L718.6,513.6 L720.0,513.0 L721.4,512.4 L722.8,511.8 L724.1,511.2 L725.5,510.6 L727.0,509.9 L728.3,509.3 L729.7,508.7 L731.1,508.1 L732.5,507.5 L733.9,506.9 L735.3,506.3 L736.7,505.7 L738.1,505.1 L739.5,504.5 L741.0,503.9 L742.4,503.3 L743.8,502.7 L745.2,502.1 L746.6,501.5 L748.0,500.9 L749.4,500.3 L750.8,499.8 L752.2,499.2 L753.6,498.6 L755.0,498.0 L756.4,497.4 L757.8,496.8 L759.2,496.3 L760.6,495.7 L762.1,495.1 L763.5,494.5 L764.9,493.9 L766.3,493.4 L767.7,492.8 L769.1,492.2 L770.5,491.7 L772.0,491.1 L773.4,490.5 L774.8,490.0 L776.2,489.4 L777.6,488.8 L779.0,488.3 L780.5,487.7 L781.9,487.1 L783.3,486.6 L784.7,486.0 L786.1,485.5 L787.6,484.9 L789.0,484.4 L790.4,483.8 L791.8,483.3 L793.2,482.7 L794.7,482.2 L796.1,481.6 L797.5,481.1 L798.9,480.5 L800.4,480.0 L801.8,479.4 L803.2,478.9 L804.6,478.4 L806.1,477.8 L807.5,477.3 L808.9,476.7 L810.4,476.2 L811.8,475.7 L813.2,475.1 L814.6,474.6 L816.1,474.1 L817.5,473.5 L818.9,473.0 L820.4,472.5 L821.8,471.9 L823.2,471.4 L824.7,470.9 L826.1,470.4 L827.5,469.8 L829.0,469.3 L830.4,468.8 L831.8,468.3 L833.3,467.8 L834.7,467.2 L836.1,466.7 L837.6,466.2 L839.0,465.7 L840.4,465.2 L841.9,464.7 L843.3,464.1 L844.8,463.6 L846.2,463.1 L847.6,462.6 L849.1,462.1 L850.5,461.6 L852.0,461.1 L853.4,460.6 L854.8,460.1 L856.3,459.6 L857.7,459.1 L859.2,458.6 L860.6,458.1 L862.0,457.6 L863.5,457.1 L864.9,456.6 L866.4,456.1 L867.8,455.6 L869.3,455.1 L870.7,454.6 L872.2,454.1 L873.6,453.6 L875.0,453.1 L876.5,452.6 L878.0,452.2 L879.4,451.7 L880.8,451.2 L882.3,450.7 L883.7,450.2 L885.2,449.7 L886.6,449.2 L888.1,448.8 L889.5,448.3 L891.0,447.8 L892.4,447.3 L893.9,446.8 L895.3,446.4 L896.8,445.9 L898.2,445.4 L899.7,444.9 L901.1,444.4 L902.6,444.0 L904.0,443.5 L905.5,443.0 L907.0,442.6 L908.4,442.1 L909.9,441.6 L911.3,441.1 L912.8,440.7 L914.2,440.2 L915.7,439.8 L917.1,439.3 L918.6,438.8 L920.0,438.4 L921.5,437.9 L923.0,437.4 L924.4,437.0 L925.9,436.5 L927.3,436.0 L928.8,435.6 L930.2,435.1 L931.7,434.7 L933.1,434.2 L934.6,433.7 L936.1,433.3 L937.5,432.8 L939.0,432.4 L940.5,431.9 L941.9,431.5 L943.4,431.0 L944.8,430.6 L946.3,430.1 L947.8,429.6 L949.2,429.2 L950.7,428.8 L952.1,428.3 L953.6,427.9 L955.0,427.4 L956.5,427.0 L958.0,426.5 L959.4,426.1 L960.9,425.6 L962.4,425.2 L963.8,424.7 L965.3,424.3 L966.8,423.8 L968.2,423.4 L969.7,423.0 L971.1,422.5 L972.6,422.1 L974.1,421.6 L975.5,421.2 L977.0,420.8 L978.5,420.3 L979.9,419.9 L981.4,419.4 L982.9,419.0 L984.3,418.6 L985.8,418.1 L987.2,417.7 L988.7,417.3 L990.2,416.8 L991.6,416.4 L993.1,416.0 L994.6,415.5 L996.0,415.1 L997.5,414.7 L999.0,414.2 L1000.5,413.8 L1001.9,413.4 L1003.4,412.9 L1004.9,412.5 L1006.3,412.1 L1007.8,411.7 L1009.3,411.2 L1010.7,410.8 L1012.2,410.4 L1013.7,410.0 L1015.1,409.5 L1016.6,409.1 L1018.1,408.7 L1019.5,408.3 L1021.0,407.8 L1022.5,407.4 L1023.9,407.0 L1025.4,406.6 L1026.9,406.1 L1028.3,405.7 L1029.8,405.3 L1031.3,404.9 L1032.8,404.5 L1034.2,404.0 L1035.7,403.6 L1037.2,403.2 L1038.6,402.8 L1040.1,402.4 L1041.6,401.9 L1043.0,401.5 L1044.5,401.1 L1046.0,400.7 L1047.5,400.3 L1048.9,399.9 L1050.4,399.4 L1051.9,399.0 L1053.3,398.6 L1054.8,398.2 L1056.3,397.8 L1057.7,397.4 L1059.2,396.9 L1060.7,396.5 L1062.2,396.1 L1063.6,395.7 L1065.1,395.3 L1066.6,394.9 L1068.0,394.5 L1069.5,394.1 L1071.0,393.6 L1072.5,393.2 L1073.9,392.8 L1075.4,392.4 L1076.9,392.0 L1078.3,391.6 L1079.8,391.2 L1081.3,390.8 L1082.8,390.4 L1084.2,390.0 L1085.7,389.6 L1087.2,389.1 L1088.6,388.7 L1090.1,388.3 L1091.6,387.9 L1093.0,387.5 L1094.5,387.1 L1096.0,386.7 L1097.5,386.3 L1098.9,385.9 L1100.4,385.5 L1101.9,385.1 L1103.4,384.7 L1104.8,384.3 L1106.3,383.9 L1107.8,383.5 L1109.2,383.1 L1110.7,382.7 L1112.2,382.3 L1113.7,381.9 L1115.1,381.5 L1116.6,381.1 L1118.1,380.7 L1119.6,380.3 L1121.0,379.9 L1122.5,379.5 L1124.0,379.1 L1125.5,378.7 L1126.9,378.3 L1128.4,377.9 L1129.9,377.5 L1131.3,377.1 L1132.8,376.7 L1134.3,376.3 L1135.8,375.9 L1137.2,375.5 L1138.7,375.1 L1140.2,374.8 L1141.7,374.4 L1143.2,374.0 L1144.6,373.6 L1146.1,373.2 L1147.6,372.8 L1149.0,372.4 L1150.5,372.0 L1152.0,371.6 L1153.5,371.2 L1155.0,370.9 L1156.4,370.5 L1157.9,370.1 L1159.4,369.7 L1160.9,369.3 L1162.3,368.9 L1163.8,368.5 L1165.3,368.1 L1166.8,367.8 L1168.2,367.4 L1169.7,367.0 L1171.2,366.6 L1172.7,366.2 L1174.2,365.9 L1175.6,365.5 L1177.1,365.1 L1178.6,364.7 L1180.1,364.3 L1181.5,364.0 L1183.0,363.6 L1184.5,363.2 L1186.0,362.8 L1187.5,362.4 L1188.9,362.1 L1190.4,361.7 L1191.9,361.3 L1193.4,360.9 L1194.8,360.6 L1196.3,360.2 L1197.8,359.8 L1199.3,359.4 L1200.8,359.1 L1202.2,358.7 L1203.7,358.3 L1205.2,358.0 L1206.7,357.6 L1208.2,357.2 L1209.7,356.9 L1211.1,356.5 L1212.6,356.1 L1214.1,355.8 L1215.6,355.4 L1217.1,355.0 L1218.5,354.7 L1220.0,354.3 L1221.5,353.9 L1223.0,353.6 L1224.5,353.2 L1226.0,352.9 L1227.4,352.5 L1228.9,352.1 L1230.4,351.8 L1231.9,351.4 L1233.4,351.0 L1234.8,350.7 L1236.3,350.3 L1237.8,350.0 L1239.3,349.6 L1240.8,349.3 L1242.3,348.9 L1243.8,348.6 L1245.2,348.2 L1246.7,347.8 L1248.2,347.5 L1249.7,347.1 L1251.2,346.8 L1252.7,346.4 L1254.1,346.1 L1255.6,345.7 L1257.1,345.4 L1258.6,345.0 L1260.1,344.7 L1261.6,344.3 L1263.1,344.0 L1264.5,343.6 L1266.0,343.3 L1267.5,342.9 L1269.0,342.6 L1270.5,342.3 L1272.0,341.9 L1273.5,341.6 L1275.0,341.2 L1276.5,340.9 L1277.9,340.6 L1279.4,340.2 L1280.9,339.9 L1282.4,339.5 L1283.9,339.2 L1285.4,338.9 L1286.9,338.5 L1288.4,338.2 L1289.8,337.9 L1291.3,337.5 L1292.8,337.2 L1294.3,336.9 L1295.8,336.5 L1297.3,336.2 L1298.8,335.9 L1300.3,335.5 L1301.8,335.2 L1303.3,334.9 L1304.8,334.5 L1306.2,334.2 L1307.7,333.9 L1309.2,333.6 L1310.7,333.2 L1312.2,332.9 L1313.7,332.6 L1315.2,332.2 L1316.7,331.9 L1318.2,331.6 L1319.7,331.3 L1321.2,330.9 L1322.7,330.6 L1324.2,330.3 L1325.7,330.0 M1413.8,311.0 L1415.3,310.6 L1416.8,310.3 L1418.3,310.0 L1419.8,309.7 L1421.3,309.4 L1422.8,309.1 L1424.2,308.8 L1425.7,308.5 L1427.2,308.2 L1428.7,307.9 L1430.2,307.6 L1431.7,307.2 L1433.2,306.9 L1434.7,306.6 L1436.2,306.3 L1437.7,306.0 L1439.2,305.7 L1440.7,305.4 L1442.2,305.1 L1443.7,304.8 L1445.2,304.5 L1446.7,304.2 L1448.2,303.9 L1449.7,303.6 L1451.2,303.3 L1452.7,303.0 L1454.2,302.7 L1455.7,302.4 L1457.2,302.1 L1458.7,301.8 L1460.2,301.6 L1461.7,301.3 L1463.2,301.0 L1464.7,300.7 L1466.2,300.4 L1467.7,300.1 L1469.2,299.8 L1470.7,299.5 L1472.2,299.2 L1473.7,298.9 L1475.2,298.7 L1476.7,298.4 L1478.2,298.1 L1479.7,297.8 L1481.2,297.5 L1482.7,297.3 L1484.2,297.0 L1485.7,296.7 L1487.2,296.4 L1488.7,296.1 L1490.2,295.9 L1491.7,295.6 L1493.2,295.3 L1494.7,295.1 L1496.2,294.8 L1497.7,294.5 L1499.2,294.2 L1500.7,294.0 L1502.2,293.7 L1503.7,293.4 L1505.2,293.2 L1506.7,292.9 L1508.2,292.6 L1509.7,292.4 L1511.2,292.1 L1512.7,291.9 L1514.2,291.6 L1515.7,291.4 L1517.2,291.1 L1518.7,290.9 L1520.2,290.6 L1521.7,290.4 L1523.2,290.1 L1524.7,289.9 L1526.2,289.6 L1527.7,289.4 L1529.2,289.1 L1530.8,288.9 L1532.2,288.6 L1533.8,288.4 L1535.3,288.2 L1536.8,287.9 L1538.3,287.7 L1539.8,287.5 L1541.3,287.2 L1542.8,287.0 L1544.3,286.8 L1545.8,286.6 L1547.3,286.3 L1548.8,286.1 L1550.3,285.9 L1551.8,285.7 L1553.4,285.4 L1554.9,285.2 L1556.4,285.0 L1557.9,284.8 L1559.4,284.6 L1560.9,284.4 L1562.4,284.2 L1563.9,284.0 L1565.5,283.8 L1567.0,283.6 L1568.5,283.4 L1570.0,283.2 L1571.5,283.0 L1573.0,282.8 L1574.5,282.6 L1576.0,282.4 L1577.6,282.2 L1579.1,282.1 L1580.6,281.9 L1582.1,281.7 L1583.6,281.5 L1585.1,281.4 L1586.7,281.2 L1588.2,281.0 L1589.7,280.9 L1591.2,280.7 L1592.7,280.5 L1594.2,280.4 L1595.8,280.2 L1597.3,280.1 L1598.8,279.9 L1600.3,279.8 L1601.8,279.6 L1603.4,279.5 L1604.9,279.3 L1606.4,279.2 L1607.9,279.1 L1609.5,278.9 L1611.0,278.8 L1612.5,278.6 L1614.0,278.5 L1615.5,278.4 L1617.1,278.3 " fill="none" stroke="#ff00ff" stroke-width="7.6" stroke-linecap="round" stroke-linejoin="round"/>
<path d="M494.8,1216.9 L494.8,1195.6 M790.1,1216.9 L790.1,1195.6 M1085.3,1216.9 L1085.3,1195.6 M1380.6,1216.9 L1380.6,1195.6 M199.5,929.4 L222.2,929.4 M199.5,641.8 L222.2,641.8 M199.5,354.3 L222.2,354.3 " stroke="#000" stroke-width="8.6" stroke-linecap="round" fill="none"/>
<text transform="translate(103.72,81.60) scale(1.0458,1.0493)" font-family="'Liberation Sans', Arial, Helvetica, sans-serif" font-size="48.5" font-weight="bold">1.0</text>
<text transform="translate(103.72,369.13) scale(1.0458,1.0493)" font-family="'Liberation Sans', Arial, Helvetica, sans-serif" font-size="48.5" font-weight="bold">0.9</text>
<text transform="translate(103.72,656.65) scale(1.0458,1.0493)" font-family="'Liberation Sans', Arial, Helvetica, sans-serif" font-size="48.5" font-weight="bold">0.8</text>
<text transform="translate(103.72,944.18) scale(1.0458,1.0493)" font-family="'Liberation Sans', Arial, Helvetica, sans-serif" font-size="48.5" font-weight="bold">0.7</text>
<text transform="translate(103.72,1231.70) scale(1.0458,1.0493)" font-family="'Liberation Sans', Arial, Helvetica, sans-serif" font-size="48.5" font-weight="bold">0.6</text>
<text transform="translate(198.90,1281.24) scale(0.9890,1.0286)" text-anchor="middle" font-family="'Liberation Sans', Arial, Helvetica, sans-serif" font-size="50" font-weight="bold">0</text>
<text transform="translate(494.18,1281.24) scale(0.9890,1.0286)" text-anchor="middle" font-family="'Liberation Sans', Arial, Helvetica, sans-serif" font-size="50" font-weight="bold">50</text>
<text transform="translate(789.46,1281.24) scale(0.9890,1.0286)" text-anchor="middle" font-family="'Liberation Sans', Arial, Helvetica, sans-serif" font-size="50" font-weight="bold">100</text>
<text transform="translate(1084.74,1281.24) scale(0.9890,1.0286)" text-anchor="middle" font-family="'Liberation Sans', Arial, Helvetica, sans-serif" font-size="50" font-weight="bold">150</text>
<text transform="translate(1380.02,1281.24) scale(0.9890,1.0286)" text-anchor="middle" font-family="'Liberation Sans', Arial, Helvetica, sans-serif" font-size="50" font-weight="bold">200</text>
<text transform="translate(1675.30,1281.24) scale(0.9890,1.0286)" text-anchor="middle" font-family="'Liberation Sans', Arial, Helvetica, sans-serif" font-size="50" font-weight="bold">250</text>
<text transform="translate(797.99,1348.79) scale(1.0483,0.9927)" font-family="'Liberation Sans', Arial, Helvetica, sans-serif" font-size="59" font-weight="bold">Time (min)</text>
<text transform="translate(73.04,919.42) scale(1.1028,0.9752) rotate(-90)" font-family="'Liberation Sans', Arial, Helvetica, sans-serif" font-size="61" font-weight="bold">CO<tspan font-weight="normal" font-size="0.58em">2</tspan> uptake (mmol g<tspan font-weight="normal" font-size="0.655em" dy="-0.62em">-1</tspan><tspan dy="0.406em">)</tspan></text>
<text transform="translate(48.41,188.55) scale(1.0233,0.9729)" font-family="'Liberation Sans', Arial, Helvetica, sans-serif" font-size="77" font-weight="bold">(a)</text>
<text transform="translate(246.91,147.52) scale(1.0493,1.0373)" font-family="'Liberation Sans', Arial, Helvetica, sans-serif" font-size="48.5" font-weight="bold">at 300</text>
<text transform="translate(405.41,116.98) scale(1.0515,0.9127)" font-family="'Liberation Sans', Arial, Helvetica, sans-serif" font-size="30" font-weight="bold">o</text>
<text transform="translate(424.87,147.54) scale(1.0462,1.0497)" font-family="'Liberation Sans', Arial, Helvetica, sans-serif" font-size="48.5" font-weight="bold">C</text>
<text transform="translate(1327.38,250.35) scale(1.0660,1.0663)" font-family="'Liberation Sans', Arial, Helvetica, sans-serif" font-size="47.5" font-weight="bold">0.1 g</text>
<text transform="translate(1335.31,334.47) scale(1.0777,1.0669)" font-family="'Liberation Sans', Arial, Helvetica, sans-serif" font-size="47.5" font-weight="bold">0.5</text>
<text transform="translate(1330.30,408.02) scale(1.0656,1.0788)" font-family="'Liberation Sans', Arial, Helvetica, sans-serif" font-size="47.5" font-weight="bold">1.0</text>
<text transform="translate(1333.91,542.48) scale(1.0472,1.0973)" font-family="'Liberation Sans', Arial, Helvetica, sans-serif" font-size="47.5" font-weight="bold">0.08</text>
<rect x="191.9" y="1405.3" width="1476.4" height="1150.1" fill="none" stroke="#000" stroke-width="8.7" stroke-linejoin="round"/>
<path d="M192.4,1664.9 L193.7,1665.0 L195.1,1664.7 L196.4,1664.5 L197.8,1664.7 L199.1,1664.5 L200.5,1664.9 L201.8,1665.4 L203.1,1664.7 L204.5,1664.6 L205.8,1665.0 L207.2,1665.0 L208.5,1664.9 L209.9,1664.5 L211.2,1664.8 L212.5,1665.1 L213.9,1664.3 L215.2,1664.7 L216.6,1664.1 L217.9,1664.3 L219.2,1664.1 L220.6,1664.7 L221.9,1664.3 L223.3,1665.0 L224.6,1664.9 L226.0,1664.8 L227.3,1663.8 L228.6,1664.6 L230.0,1664.8 L231.3,1664.9 L232.7,1664.2 L234.0,1664.6 L235.4,1664.4 L236.7,1664.5 L238.0,1665.3 L239.4,1664.5 L240.7,1664.8 L242.1,1665.2 L243.4,1664.6 L244.8,1664.8 L246.1,1664.9 L247.4,1664.9 L248.8,1664.3 L250.1,1664.9 L251.5,1665.4 L252.8,1664.2 L254.2,1665.2 L255.5,1664.9 L256.8,1664.6 L258.2,1665.6 L259.5,1665.1 L260.9,1664.3 L262.2,1664.8 L263.6,1665.1 L264.9,1664.7 L266.2,1665.1 L267.6,1664.8 L268.9,1665.1 L270.3,1665.4 L271.6,1664.5 L272.9,1664.9 L274.3,1664.6 L275.6,1664.9 L277.0,1664.3 L278.3,1664.6 L279.7,1664.7 L281.0,1665.2 L282.3,1665.3 L283.7,1664.3 L285.0,1664.5 L286.4,1665.1 L287.7,1664.0 L289.1,1664.6 L290.4,1664.8 L291.7,1665.3 L293.1,1665.1 L294.4,1664.7 L295.8,1664.6 L297.1,1664.7 L298.5,1665.4 L299.8,1664.6 L301.1,1664.7 L302.5,1664.9 L303.8,1664.7 L305.2,1664.7 L306.5,1664.3 L307.9,1664.8 L309.2,1664.6 L310.5,1665.3 L311.9,1665.0 L313.2,1664.8 L314.6,1665.0 L315.9,1664.6 L317.3,1665.2 L318.6,1664.8 L319.9,1665.0 L321.3,1664.2 L322.6,1664.9 L324.0,1664.1 L325.3,1663.9 L326.6,1664.6 L328.0,1664.4 L329.3,1664.8 L330.7,1665.7 L332.0,1664.4 L333.4,1664.5 L334.7,1664.8 L336.0,1665.0 L337.4,1664.7 L338.7,1664.7 L340.1,1665.0 L341.4,1665.0 L342.8,1664.3 L344.1,1664.7 L345.4,1664.8 L346.8,1664.3 L348.1,1664.8 L349.5,1664.4 L350.8,1665.1 L352.2,1664.8 L353.5,1664.8 L354.8,1664.5 L356.2,1664.7 L357.5,1663.9 L358.9,1664.2 L360.2,1664.9 L361.6,1663.8 L362.9,1665.1 L364.2,1664.0 L365.6,1665.0 L366.9,1664.3 L368.3,1665.0 L369.6,1664.8 L371.0,1664.0 L372.3,1665.2 L373.6,1665.3 L375.0,1664.7 L376.3,1664.6 L377.7,1664.6 L379.0,1664.3 L380.3,1665.1 L381.7,1664.4 L383.0,1664.6 L384.4,1664.3 L385.7,1664.4 L387.1,1664.1 L388.4,1665.2 L389.7,1664.6 L391.1,1665.1 L392.4,1664.6 L393.8,1664.3 L395.1,1664.5 L396.5,1664.4 L397.8,1664.6 L399.1,1664.5 L400.5,1664.5 L401.8,1664.0 L403.2,1664.3 L404.5,1665.3 L405.9,1664.3 L407.2,1664.1 L408.5,1664.7 L409.9,1665.2 L411.2,1664.0 L412.6,1664.5 L413.9,1664.3 L415.3,1663.8 L416.6,1664.9 L417.9,1664.6 L419.3,1664.6 L420.6,1664.2 L422.0,1664.8 L423.3,1664.3 L424.7,1664.5 L426.0,1664.0 L427.3,1664.0 L428.7,1665.1 L430.0,1664.3 L431.4,1664.6 L432.7,1664.5 L434.0,1664.3 L435.4,1664.3 L436.7,1664.8 L438.1,1664.3 L439.4,1664.4 L440.8,1664.5 L442.1,1665.0 L443.4,1664.7 L444.8,1664.6 L446.1,1664.2 L447.5,1663.8 L448.8,1664.8 L450.2,1664.8 L451.5,1664.3 L452.8,1664.6 L454.2,1664.7 L455.5,1664.7 L456.9,1664.7 L458.2,1664.1 L459.6,1665.0 L460.9,1663.7 L462.2,1664.7 L463.6,1664.5 L464.9,1664.6 L466.3,1665.1 L467.6,1664.9 L469.0,1663.6 L470.3,1663.3 L471.6,1664.5 L473.0,1663.6 L474.3,1664.0 L475.7,1664.4 L477.0,1663.0 L478.4,1662.5 L479.7,1663.3 L481.0,1662.5 L482.4,1661.4 L483.7,1660.3 L485.1,1658.2 L486.4,1656.1 L487.7,1655.6 L489.1,1653.7 L490.4,1652.6 L491.8,1654.3 L493.1,1654.5 L494.5,1656.1 L495.8,1656.6 L497.1,1658.4 L498.5,1659.6 L499.8,1660.8 L501.2,1662.3 L502.5,1662.3 L503.9,1663.3 L505.2,1663.5 L506.5,1664.4 L507.9,1662.7 L509.2,1663.9 L510.6,1663.3 L511.9,1663.3 L513.3,1662.5 L514.6,1663.0 L515.9,1663.7 L517.3,1663.2 L518.6,1663.2 L520.0,1663.0 L521.3,1663.8 L522.7,1663.1 L524.0,1661.9 L525.3,1662.7 L526.7,1661.9 L528.0,1661.2 L529.4,1662.7 L530.7,1663.7 L532.1,1662.9 L533.4,1662.2 L534.7,1662.3 L536.1,1663.4 L537.4,1662.9 L538.8,1662.8 L540.1,1662.7 L541.4,1662.7 L542.8,1663.1 L544.1,1663.0 L545.5,1662.7 L546.8,1662.0 L548.2,1662.9 L549.5,1662.2 L550.8,1663.1 L552.2,1661.8 L553.5,1662.4 L554.9,1662.4 L556.2,1661.7 L557.6,1663.4 L558.9,1663.2 L560.2,1662.1 L561.6,1662.8 L562.9,1662.5 L564.3,1660.8 L565.6,1662.4 L567.0,1662.2 L568.3,1662.3 L569.6,1661.6 L571.0,1662.0 L572.3,1662.1 L573.7,1662.9 L575.0,1662.3 L576.4,1662.1 L577.7,1663.0 L579.0,1661.8 L580.4,1661.9 L581.7,1661.0 L583.1,1663.0 L584.4,1662.6 L585.8,1662.6 L587.1,1662.4 L588.4,1662.1 L589.8,1662.1 L591.1,1661.8 L592.5,1661.9 L593.8,1662.0 L595.1,1662.8 L596.5,1662.3 L597.8,1661.9 L599.2,1661.6 L600.5,1661.5 L601.9,1662.8 L603.2,1662.2 L604.5,1661.9 L605.9,1661.6 L607.2,1661.2 L608.6,1661.8 L609.9,1662.3 L611.3,1661.6 L612.6,1661.6 L613.9,1661.6 L615.3,1661.8 L616.6,1660.8 L618.0,1661.6 L619.3,1661.2 L620.7,1662.2 L622.0,1661.2 L623.3,1662.0 L624.7,1662.5 L626.0,1661.4 L627.4,1661.2 L628.7,1661.6 L630.1,1661.5 L631.4,1660.9 L632.7,1661.7 L634.1,1662.6 L635.4,1661.2 L636.8,1661.2 L638.1,1660.6 L639.5,1661.4 L640.8,1660.4 L642.1,1660.5 L643.5,1661.9 L644.8,1660.5 L646.2,1661.7 L647.5,1661.9 L648.8,1661.0 L650.2,1661.1 L651.5,1662.0 L652.9,1660.5 L654.2,1660.2 L655.6,1659.6 L656.9,1660.4 L658.2,1661.2 L659.6,1660.8 L660.9,1659.4 L662.3,1659.4 L663.6,1659.5 L665.0,1659.9 L666.3,1659.4 L667.6,1659.6 L669.0,1659.5 L670.3,1658.9 L671.7,1658.9 L673.0,1658.9 L674.4,1658.5 L675.7,1658.7 L677.0,1659.4 L678.4,1658.3 L679.7,1657.6 L681.1,1656.1 L682.4,1657.3 L683.8,1655.3 L685.1,1655.4 L686.4,1656.7 L687.8,1656.2 L689.1,1655.2 L690.5,1653.5 L691.8,1654.1 L693.1,1653.4 L694.5,1653.9 L695.8,1654.7 L697.2,1652.5 L698.5,1651.0 L699.9,1650.0 L701.2,1650.3 L702.5,1649.5 L703.9,1647.8 L705.2,1648.1 L706.6,1646.1 L707.9,1647.2 L709.3,1646.2 L710.6,1645.3 L711.9,1642.7 L713.3,1642.5 L714.6,1640.7 L716.0,1639.2 L717.3,1638.0 L718.7,1635.6 L720.0,1634.0 L721.3,1635.0 L722.7,1632.4 L724.0,1631.4 L725.4,1630.7 L726.7,1626.0 L728.1,1625.5 L729.4,1625.0 L730.7,1623.7 L732.1,1621.3 L733.4,1621.5 L734.8,1619.1 L736.1,1616.0 L737.5,1615.2 L738.8,1616.3 L740.1,1615.0 L741.5,1611.3 L742.8,1614.9 L744.2,1613.6 L745.5,1614.5 L746.8,1612.4 L748.2,1612.8 L749.5,1612.3 L750.9,1617.7 L752.2,1615.2 L753.6,1618.5 L754.9,1616.8 L756.2,1619.2 L757.6,1618.3 L758.9,1621.4 L760.3,1624.6 L761.6,1623.5 L763.0,1627.8 L764.3,1628.6 L765.6,1628.6 L767.0,1630.8 L768.3,1632.4 L769.7,1634.3 L771.0,1635.3 L772.4,1636.4 L773.7,1638.3 L775.0,1638.9 L776.4,1639.9 L777.7,1642.3 L779.1,1644.4 L780.4,1643.1 L781.8,1645.6 L783.1,1646.0 L784.4,1646.7 L785.8,1649.2 L787.1,1648.8 L788.5,1651.4 L789.8,1650.2 L791.2,1651.9 L792.5,1652.0 L793.8,1652.2 L795.2,1653.9 L796.5,1653.9 L797.9,1655.0 L799.2,1655.0 L800.5,1654.7 L801.9,1655.9 L803.2,1656.4 L804.6,1657.5 L805.9,1656.5 L807.3,1657.5 L808.6,1656.6 L809.9,1658.6 L811.3,1657.7 L812.6,1657.4 L814.0,1658.9 L815.3,1660.0 L816.7,1658.4 L818.0,1658.9 L819.3,1659.4 L820.7,1659.3 L822.0,1660.5 L823.4,1659.9 L824.7,1660.2 L826.1,1661.2 L827.4,1660.5 L828.7,1661.4 L830.1,1660.6 L831.4,1660.6 L832.8,1660.4 L834.1,1662.8 L835.5,1661.6 L836.8,1662.0 L838.1,1662.0 L839.5,1662.2 L840.8,1662.2 L842.2,1663.5 L843.5,1661.8 L844.9,1661.6 L846.2,1662.0 L847.5,1661.9 L848.9,1663.2 L850.2,1663.3 L851.6,1662.4 L852.9,1662.2 L854.2,1662.9 L855.6,1663.9 L856.9,1661.6 L858.3,1663.6 L859.6,1662.7 L861.0,1664.0 L862.3,1662.9 L863.6,1663.4 L865.0,1662.7 L866.3,1663.1 L867.7,1664.5 L869.0,1664.2 L870.4,1663.6 L871.7,1663.4 L873.0,1662.8 L874.4,1663.7 L875.7,1664.0 L877.1,1664.0 L878.4,1664.0 L879.8,1663.5 L881.1,1664.1 L882.4,1664.2 L883.8,1664.9 L885.1,1665.3 L886.5,1664.2 L887.8,1663.9 L889.2,1664.3 L890.5,1664.1 L891.8,1664.0 L893.2,1664.4 L894.5,1663.9 L895.9,1664.8 L897.2,1664.5 L898.6,1664.7 L899.9,1664.5 L901.2,1664.3 L902.6,1664.2 L903.9,1664.6 L905.3,1664.4 L906.6,1664.9 L907.9,1664.8 L909.3,1664.1 L910.6,1664.8 L912.0,1664.1 L913.3,1664.5 L914.7,1664.7 L916.0,1663.8 L917.3,1665.0 L918.7,1665.0 L920.0,1664.9 L921.4,1664.8 L922.7,1664.8 L924.1,1664.5 L925.4,1664.9 L926.7,1664.8 L928.1,1665.1 L929.4,1664.5 L930.8,1665.2 L932.1,1665.2 L933.5,1665.1 L934.8,1664.9 L936.1,1665.4 L937.5,1664.3 L938.8,1665.4 L940.2,1665.3 L941.5,1665.3 L942.9,1665.4 L944.2,1664.9 L945.5,1665.1 L946.9,1665.5 L948.2,1665.5 L949.6,1665.4 L950.9,1664.5 L952.3,1665.5 L953.6,1665.8 L954.9,1665.8 L956.3,1665.4 L957.6,1664.5 L959.0,1665.8 L960.3,1665.2 L961.6,1664.1 L963.0,1665.5 L964.3,1664.6 L965.7,1664.7 L967.0,1665.0 L968.4,1666.0 L969.7,1665.2 L971.0,1665.5 L972.4,1666.2 L973.7,1666.1 L975.1,1665.3 L976.4,1665.3 L977.8,1664.8 L979.1,1665.1 L980.4,1665.6 L981.8,1665.6 L983.1,1665.5 L984.5,1665.9 L985.8,1665.0 L987.2,1665.4 L988.5,1665.8 L989.8,1665.7 L991.2,1665.9 L992.5,1665.6 L993.9,1665.3 L995.2,1665.6 L996.6,1665.0 L997.9,1664.6 L999.2,1665.7 L1000.6,1665.4 L1001.9,1665.6 L1003.3,1664.6 L1004.6,1665.3 L1006.0,1665.2 L1007.3,1665.0 L1008.6,1664.4 L1010.0,1665.3 L1011.3,1665.9 L1012.7,1665.6 L1014.0,1665.2 L1015.3,1665.4 L1016.7,1665.8 L1018.0,1664.1 L1019.4,1665.4 L1020.7,1665.7 L1022.1,1665.8 L1023.4,1666.2 L1024.7,1666.0 L1026.1,1665.6 L1027.4,1665.6 L1028.8,1665.8 L1030.1,1665.2 L1031.5,1665.4 L1032.8,1665.8 L1034.1,1666.3 L1035.5,1665.3 L1036.8,1665.4 L1038.2,1665.5 L1039.5,1666.0 L1040.9,1665.4 L1042.2,1666.1 L1043.5,1664.9 L1044.9,1665.3 L1046.2,1665.3 L1047.6,1665.7 L1048.9,1665.9 L1050.3,1664.6 L1051.6,1664.9 L1052.9,1665.5 L1054.3,1665.0 L1055.6,1664.6 L1057.0,1665.8 L1058.3,1665.6 L1059.7,1665.5 L1061.0,1665.1 L1062.3,1665.8 L1063.7,1665.2 L1065.0,1665.8 L1066.4,1664.8 L1067.7,1664.8 L1069.0,1665.3 L1070.4,1664.9 L1071.7,1665.6 L1073.1,1665.3 L1074.4,1664.8 L1075.8,1665.2 L1077.1,1665.0 L1078.4,1665.6 L1079.8,1664.8 L1081.1,1664.9 L1082.5,1665.7 L1083.8,1666.2 L1085.2,1666.1 L1086.5,1665.1 L1087.8,1665.2 L1089.2,1665.8 L1090.5,1665.0 L1091.9,1664.5 L1093.2,1665.1 L1094.6,1665.2 L1095.9,1664.5 L1097.2,1664.1 L1098.6,1664.2 L1099.9,1665.2 L1101.3,1664.5 L1102.6,1664.8 L1104.0,1664.9 L1105.3,1665.1 L1106.6,1664.6 L1108.0,1665.0 L1109.3,1664.3 L1110.7,1664.5 L1112.0,1664.1 L1113.4,1665.2 L1114.7,1664.6 L1116.0,1664.2 L1117.4,1664.4 L1118.7,1664.4 L1120.1,1664.8 L1121.4,1663.6 L1122.7,1663.8 L1124.1,1664.1 L1125.4,1665.7 L1126.8,1664.8 L1128.1,1664.2 L1129.5,1664.5 L1130.8,1665.2 L1132.1,1663.9 L1133.5,1663.8 L1134.8,1664.6 L1136.2,1664.2 L1137.5,1664.2 L1138.9,1663.5 L1140.2,1664.8 L1141.5,1664.6 L1142.9,1663.8 L1144.2,1663.8 L1145.6,1662.2 L1146.9,1663.6 L1148.3,1663.1 L1149.6,1663.3 L1150.9,1663.4 L1152.3,1662.6 L1153.6,1661.7 L1155.0,1662.8 L1156.3,1662.0 L1157.7,1662.1 L1159.0,1661.8 L1160.3,1661.8 L1161.7,1660.4 L1163.0,1662.4 L1164.4,1661.6 L1165.7,1662.0 L1167.1,1662.3 L1168.4,1660.8 L1169.7,1659.4 L1171.1,1659.7 L1172.4,1659.3 L1173.8,1659.5 L1175.1,1659.6 L1176.4,1657.8 L1177.8,1659.1 L1179.1,1657.4 L1180.5,1658.4 L1181.8,1657.7 L1183.2,1657.1 L1184.5,1656.9 L1185.8,1656.1 L1187.2,1655.6 L1188.5,1654.3 L1189.9,1655.1 L1191.2,1656.1 L1192.6,1655.7 L1193.9,1654.6 L1195.2,1653.6 L1196.6,1651.8 L1197.9,1653.0 L1199.3,1651.2 L1200.6,1650.6 L1202.0,1649.7 L1203.3,1649.5 L1204.6,1648.4 L1206.0,1648.1 L1207.3,1646.6 L1208.7,1646.7 L1210.0,1648.6 L1211.4,1645.9 L1212.7,1645.2 L1214.0,1645.5 L1215.4,1645.3 L1216.7,1643.2 L1218.1,1643.8 L1219.4,1644.7 L1220.7,1644.0 L1222.1,1643.8 L1223.4,1645.2 L1224.8,1643.1 L1226.1,1644.0 L1227.5,1643.6 L1228.8,1645.9 L1230.1,1642.9 L1231.5,1644.6 L1232.8,1645.2 L1234.2,1646.8 L1235.5,1647.2 L1236.9,1648.5 L1238.2,1646.4 L1239.5,1649.1 L1240.9,1648.8 L1242.2,1649.1 L1243.6,1650.7 L1244.9,1650.1 L1246.3,1649.7 L1247.6,1651.8 L1248.9,1651.4 L1250.3,1652.7 L1251.6,1654.1 L1253.0,1654.6 L1254.3,1656.1 L1255.7,1655.2 L1257.0,1654.6 L1258.3,1655.7 L1259.7,1656.0 L1261.0,1656.2 L1262.4,1657.9 L1263.7,1657.5 L1265.1,1656.9 L1266.4,1659.2 L1267.7,1658.9 L1269.1,1659.6 L1270.4,1659.7 L1271.8,1660.4 L1273.1,1660.2 L1274.4,1661.3 L1275.8,1661.0 L1277.1,1661.2 L1278.5,1661.4 L1279.8,1660.5 L1281.2,1661.5 L1282.5,1661.6 L1283.8,1662.1 L1285.2,1661.3 L1286.5,1663.3 L1287.9,1662.5 L1289.2,1661.8 L1290.6,1661.7 L1291.9,1662.7 L1293.2,1662.9 L1294.6,1662.6 L1295.9,1663.2 L1297.3,1662.9 L1298.6,1663.7 L1300.0,1663.0 L1301.3,1663.5 L1302.6,1664.2 L1304.0,1665.1 L1305.3,1663.2 L1306.7,1663.6 L1308.0,1663.4 L1309.4,1664.4 L1310.7,1663.4 L1312.0,1663.8 L1313.4,1664.1 L1314.7,1663.7 L1316.1,1663.7 L1317.4,1664.1 L1318.8,1663.2 L1320.1,1663.6 L1321.4,1664.2 L1322.8,1664.6 L1324.1,1664.4 L1325.5,1663.6 L1326.8,1664.4 L1328.1,1665.1 L1329.5,1665.0 L1330.8,1664.7 L1332.2,1664.3 L1333.5,1665.1 L1334.9,1664.5 L1336.2,1664.2 L1337.5,1664.5 L1338.9,1665.6 L1340.2,1665.0 L1341.6,1665.5 L1342.9,1664.7 L1344.3,1665.5 L1345.6,1664.7 L1346.9,1665.0 L1348.3,1666.3 L1349.6,1665.5 L1351.0,1664.9 L1352.3,1665.1 L1353.7,1665.3 L1355.0,1665.7 L1356.3,1664.9 L1357.7,1664.3 L1359.0,1665.1 L1360.4,1665.2 L1361.7,1665.3 L1363.1,1665.9 L1364.4,1665.4 L1365.7,1665.7 L1367.1,1664.8 L1368.4,1665.7 L1369.8,1666.3 L1371.1,1665.7 L1372.5,1665.5 L1373.8,1665.4 L1375.1,1666.2 L1376.5,1665.0 L1377.8,1665.4 L1379.2,1665.6 L1380.5,1665.8 L1381.8,1665.2 L1383.2,1665.6 L1384.5,1665.3 L1385.9,1665.5 L1387.2,1665.4 L1388.6,1665.0 L1389.9,1665.5 L1391.2,1665.9 L1392.6,1665.1 L1393.9,1665.4 L1395.3,1665.8 L1396.6,1665.1 L1398.0,1665.6 L1399.3,1665.1 L1400.6,1666.1 L1402.0,1666.6 L1403.3,1666.5 L1404.7,1665.5 L1406.0,1665.9 L1407.4,1665.7 L1408.7,1665.7 L1410.0,1666.3 L1411.4,1665.0 L1412.7,1666.1 L1414.1,1665.6 L1415.4,1666.3 L1416.8,1665.7 L1418.1,1665.4 L1419.4,1665.8 L1420.8,1666.0 L1422.1,1665.7 L1423.5,1665.9 L1424.8,1665.4 L1426.2,1664.7 L1427.5,1666.1 L1428.8,1666.0 L1430.2,1665.8 L1431.5,1665.7 L1432.9,1666.2 L1434.2,1665.5 L1435.5,1665.4 L1436.9,1665.6 L1438.2,1666.3 L1439.6,1665.1 L1440.9,1666.3 L1442.3,1665.4 L1443.6,1665.2 L1444.9,1666.3 L1446.3,1665.7 L1447.6,1665.2 L1449.0,1665.6 L1450.3,1666.2 L1451.7,1666.3 L1453.0,1665.6 L1454.3,1665.9 L1455.7,1666.1 L1457.0,1665.5 L1458.4,1665.9 L1459.7,1665.8 L1461.1,1665.5 L1462.4,1665.6 L1463.7,1665.8 L1465.1,1665.8 L1466.4,1665.5 L1467.8,1665.6 L1469.1,1666.3 L1470.5,1665.9 L1471.8,1666.2 L1473.1,1666.3 L1474.5,1666.0 L1475.8,1666.8 L1477.2,1665.4 L1478.5,1666.1 L1479.9,1665.6 L1481.2,1666.6 L1482.5,1666.5 L1483.9,1664.9 L1485.2,1665.4 L1486.6,1666.1 L1487.9,1666.1 L1489.2,1666.1 L1490.6,1665.8 L1491.9,1666.0 L1493.3,1666.1 L1494.6,1665.7 L1496.0,1666.2 L1497.3,1664.8 L1498.6,1666.1 L1500.0,1665.3 L1501.3,1666.2 L1502.7,1665.7 L1504.0,1665.4 L1505.4,1665.9 L1506.7,1665.4 L1508.0,1665.4 L1509.4,1665.1 L1510.7,1665.7 L1512.1,1666.0 L1513.4,1666.2 L1514.8,1665.7 L1516.1,1666.2 L1517.4,1665.7 L1518.8,1665.7 L1520.1,1666.0 L1521.5,1666.2 L1522.8,1665.6 L1524.2,1665.6 L1525.5,1665.6 L1526.8,1665.7 L1528.2,1665.3 L1529.5,1666.1 L1530.9,1665.5 L1532.2,1665.9 L1533.6,1665.3 L1534.9,1665.8 L1536.2,1665.8 L1537.6,1665.4 L1538.9,1666.5 L1540.3,1665.7 L1541.6,1666.4 L1542.9,1666.0 L1544.3,1665.2 L1545.6,1665.3 L1547.0,1665.7 L1548.3,1665.5 L1549.7,1665.4 L1551.0,1665.2 L1552.3,1664.5 L1553.7,1665.2 L1555.0,1664.2 L1556.4,1665.4 L1557.7,1664.8 L1559.1,1664.8 L1560.4,1665.0 L1561.7,1665.1 L1563.1,1664.2 L1564.4,1664.0 L1565.8,1664.3 L1567.1,1663.7 L1568.5,1664.1 L1569.8,1665.4 L1571.1,1663.9 L1572.5,1664.7 L1573.8,1663.5 L1575.2,1664.3 L1576.5,1663.9 L1577.9,1663.9 L1579.2,1664.1 L1580.5,1664.6 L1581.9,1663.6 L1583.2,1663.5 L1584.6,1662.7 L1585.9,1663.5 L1587.3,1662.8 L1588.6,1663.3 L1589.9,1662.7 L1591.3,1663.6 L1592.6,1661.2 L1594.0,1662.1 L1595.3,1662.7 L1596.6,1661.8 L1598.0,1661.3 L1599.3,1661.5 L1600.7,1660.7 L1602.0,1661.5 L1603.4,1662.9 L1604.7,1662.0 L1606.0,1660.5 L1607.4,1660.6 L1608.7,1660.8 L1610.1,1661.7 L1611.4,1660.5 L1612.8,1660.6 L1614.1,1661.6 L1615.4,1661.7 L1616.8,1660.9 L1618.1,1660.5 L1619.5,1660.3 L1620.8,1660.9 L1622.2,1660.1 L1623.5,1662.1 L1624.8,1661.3 L1626.2,1662.2 L1627.5,1663.2 L1628.9,1662.9 L1630.2,1661.6 L1631.6,1663.0 L1632.9,1663.3 L1634.2,1662.3 L1635.6,1662.3 L1636.9,1663.0 L1638.3,1662.2 L1639.6,1664.2 L1641.0,1662.1 L1642.3,1663.0 L1643.6,1663.6 L1645.0,1663.7 L1646.3,1664.1 L1647.7,1664.2 L1649.0,1664.1 L1650.3,1664.9 L1651.7,1663.3 L1653.0,1664.5 L1654.4,1664.2 L1655.7,1664.8 L1657.1,1664.9 L1658.4,1664.4 L1659.7,1664.6 L1661.1,1665.4 L1662.4,1665.2 L1663.8,1664.8 L1665.1,1666.2 L1666.5,1666.3 L1667.8,1664.6" fill="none" stroke="#ff00ff" stroke-width="4.6" stroke-linejoin="round"/>
<path d="M192.4,1896.5 L193.7,1897.4 L195.1,1896.7 L196.4,1896.5 L197.8,1896.3 L199.1,1896.1 L200.5,1896.3 L201.8,1896.1 L203.1,1896.7 L204.5,1896.2 L205.8,1896.2 L207.2,1895.9 L208.5,1896.3 L209.9,1896.0 L211.2,1896.3 L212.5,1896.8 L213.9,1896.5 L215.2,1896.5 L216.6,1896.5 L217.9,1896.4 L219.2,1896.3 L220.6,1896.2 L221.9,1896.6 L223.3,1895.9 L224.6,1896.9 L226.0,1896.3 L227.3,1896.0 L228.6,1896.1 L230.0,1896.0 L231.3,1896.4 L232.7,1896.0 L234.0,1896.8 L235.4,1896.0 L236.7,1895.4 L238.0,1896.0 L239.4,1895.5 L240.7,1896.3 L242.1,1896.7 L243.4,1896.6 L244.8,1895.8 L246.1,1896.0 L247.4,1897.0 L248.8,1896.4 L250.1,1896.3 L251.5,1896.7 L252.8,1897.3 L254.2,1896.8 L255.5,1896.3 L256.8,1896.4 L258.2,1896.5 L259.5,1896.0 L260.9,1895.8 L262.2,1896.3 L263.6,1895.9 L264.9,1896.2 L266.2,1896.3 L267.6,1897.2 L268.9,1895.9 L270.3,1896.2 L271.6,1896.2 L272.9,1896.4 L274.3,1896.7 L275.6,1896.0 L277.0,1895.9 L278.3,1895.6 L279.7,1895.9 L281.0,1896.5 L282.3,1896.3 L283.7,1895.8 L285.0,1896.1 L286.4,1896.2 L287.7,1896.4 L289.1,1896.0 L290.4,1896.1 L291.7,1895.5 L293.1,1895.7 L294.4,1896.9 L295.8,1895.3 L297.1,1896.1 L298.5,1896.3 L299.8,1896.1 L301.1,1895.9 L302.5,1896.2 L303.8,1896.2 L305.2,1896.2 L306.5,1895.4 L307.9,1896.1 L309.2,1895.8 L310.5,1896.0 L311.9,1896.3 L313.2,1896.4 L314.6,1896.5 L315.9,1896.0 L317.3,1896.6 L318.6,1896.7 L319.9,1896.6 L321.3,1896.7 L322.6,1896.1 L324.0,1896.1 L325.3,1896.5 L326.6,1895.6 L328.0,1896.2 L329.3,1895.9 L330.7,1896.0 L332.0,1895.4 L333.4,1895.8 L334.7,1896.1 L336.0,1896.5 L337.4,1896.5 L338.7,1896.1 L340.1,1896.1 L341.4,1895.8 L342.8,1896.3 L344.1,1896.0 L345.4,1896.4 L346.8,1896.8 L348.1,1896.1 L349.5,1895.5 L350.8,1895.7 L352.2,1895.5 L353.5,1895.6 L354.8,1896.6 L356.2,1896.2 L357.5,1895.5 L358.9,1896.4 L360.2,1896.6 L361.6,1895.9 L362.9,1895.8 L364.2,1895.9 L365.6,1896.2 L366.9,1896.3 L368.3,1896.6 L369.6,1896.6 L371.0,1896.6 L372.3,1896.6 L373.6,1896.3 L375.0,1895.4 L376.3,1896.0 L377.7,1896.2 L379.0,1895.9 L380.3,1896.4 L381.7,1895.9 L383.0,1895.6 L384.4,1896.6 L385.7,1896.3 L387.1,1896.1 L388.4,1896.4 L389.7,1896.4 L391.1,1896.1 L392.4,1894.9 L393.8,1895.7 L395.1,1895.8 L396.5,1895.6 L397.8,1896.1 L399.1,1896.5 L400.5,1895.8 L401.8,1895.5 L403.2,1896.8 L404.5,1895.8 L405.9,1895.4 L407.2,1896.0 L408.5,1896.1 L409.9,1895.6 L411.2,1896.3 L412.6,1895.7 L413.9,1895.5 L415.3,1896.0 L416.6,1896.3 L417.9,1895.6 L419.3,1896.1 L420.6,1895.9 L422.0,1897.1 L423.3,1895.6 L424.7,1896.5 L426.0,1895.9 L427.3,1895.8 L428.7,1896.2 L430.0,1896.3 L431.4,1896.4 L432.7,1896.0 L434.0,1895.6 L435.4,1895.6 L436.7,1896.1 L438.1,1896.1 L439.4,1896.4 L440.8,1896.0 L442.1,1896.3 L443.4,1896.5 L444.8,1895.9 L446.1,1895.1 L447.5,1895.2 L448.8,1895.1 L450.2,1896.5 L451.5,1895.3 L452.8,1896.3 L454.2,1896.0 L455.5,1896.5 L456.9,1896.1 L458.2,1895.6 L459.6,1895.6 L460.9,1895.7 L462.2,1895.7 L463.6,1895.4 L464.9,1895.6 L466.3,1896.3 L467.6,1894.8 L469.0,1895.7 L470.3,1895.1 L471.6,1895.6 L473.0,1895.8 L474.3,1895.3 L475.7,1895.6 L477.0,1894.2 L478.4,1895.3 L479.7,1894.1 L481.0,1894.5 L482.4,1893.9 L483.7,1892.0 L485.1,1892.9 L486.4,1893.4 L487.7,1894.3 L489.1,1893.7 L490.4,1894.0 L491.8,1893.4 L493.1,1895.2 L494.5,1895.6 L495.8,1894.8 L497.1,1894.8 L498.5,1894.1 L499.8,1895.4 L501.2,1896.4 L502.5,1895.3 L503.9,1895.6 L505.2,1895.2 L506.5,1894.4 L507.9,1895.5 L509.2,1894.2 L510.6,1894.7 L511.9,1894.9 L513.3,1895.2 L514.6,1894.9 L515.9,1894.9 L517.3,1894.2 L518.6,1893.9 L520.0,1894.6 L521.3,1894.2 L522.7,1893.8 L524.0,1893.8 L525.3,1894.2 L526.7,1893.4 L528.0,1893.7 L529.4,1893.5 L530.7,1894.4 L532.1,1894.5 L533.4,1895.4 L534.7,1893.4 L536.1,1893.9 L537.4,1894.7 L538.8,1894.1 L540.1,1894.0 L541.4,1895.1 L542.8,1893.9 L544.1,1893.4 L545.5,1893.3 L546.8,1894.2 L548.2,1894.1 L549.5,1893.2 L550.8,1893.4 L552.2,1894.2 L553.5,1894.2 L554.9,1893.5 L556.2,1894.2 L557.6,1894.1 L558.9,1892.8 L560.2,1893.6 L561.6,1894.0 L562.9,1893.4 L564.3,1892.5 L565.6,1893.5 L567.0,1894.1 L568.3,1894.5 L569.6,1892.3 L571.0,1895.1 L572.3,1892.9 L573.7,1894.1 L575.0,1894.2 L576.4,1894.1 L577.7,1893.6 L579.0,1892.8 L580.4,1893.8 L581.7,1893.0 L583.1,1892.0 L584.4,1895.1 L585.8,1893.8 L587.1,1894.5 L588.4,1892.8 L589.8,1894.2 L591.1,1894.3 L592.5,1894.3 L593.8,1893.3 L595.1,1892.6 L596.5,1893.2 L597.8,1892.0 L599.2,1892.3 L600.5,1893.3 L601.9,1892.7 L603.2,1893.2 L604.5,1893.2 L605.9,1894.4 L607.2,1894.0 L608.6,1893.2 L609.9,1893.9 L611.3,1892.7 L612.6,1893.0 L613.9,1893.7 L615.3,1892.4 L616.6,1893.0 L618.0,1892.3 L619.3,1893.2 L620.7,1894.1 L622.0,1892.6 L623.3,1893.2 L624.7,1892.5 L626.0,1892.3 L627.4,1892.3 L628.7,1893.9 L630.1,1894.4 L631.4,1893.2 L632.7,1892.5 L634.1,1893.3 L635.4,1892.7 L636.8,1893.3 L638.1,1893.0 L639.5,1892.9 L640.8,1893.1 L642.1,1892.3 L643.5,1892.4 L644.8,1891.6 L646.2,1892.3 L647.5,1891.7 L648.8,1892.4 L650.2,1891.8 L651.5,1892.4 L652.9,1892.6 L654.2,1891.4 L655.6,1891.7 L656.9,1891.5 L658.2,1892.5 L659.6,1893.0 L660.9,1892.4 L662.3,1891.6 L663.6,1892.6 L665.0,1890.6 L666.3,1892.4 L667.6,1890.9 L669.0,1889.4 L670.3,1892.9 L671.7,1892.0 L673.0,1890.1 L674.4,1890.8 L675.7,1890.4 L677.0,1890.4 L678.4,1889.1 L679.7,1889.5 L681.1,1890.1 L682.4,1889.7 L683.8,1890.1 L685.1,1889.1 L686.4,1890.4 L687.8,1887.9 L689.1,1888.3 L690.5,1886.4 L691.8,1886.5 L693.1,1888.1 L694.5,1885.9 L695.8,1886.6 L697.2,1885.7 L698.5,1884.4 L699.9,1884.4 L701.2,1883.7 L702.5,1883.1 L703.9,1883.5 L705.2,1882.7 L706.6,1880.9 L707.9,1879.9 L709.3,1880.1 L710.6,1878.9 L711.9,1879.0 L713.3,1879.5 L714.6,1876.8 L716.0,1874.8 L717.3,1873.5 L718.7,1871.6 L720.0,1870.3 L721.3,1868.8 L722.7,1868.1 L724.0,1866.6 L725.4,1866.3 L726.7,1863.5 L728.1,1862.2 L729.4,1859.4 L730.7,1861.0 L732.1,1858.1 L733.4,1858.0 L734.8,1855.2 L736.1,1854.5 L737.5,1850.9 L738.8,1850.8 L740.1,1852.0 L741.5,1845.9 L742.8,1848.0 L744.2,1848.0 L745.5,1845.8 L746.8,1845.9 L748.2,1846.5 L749.5,1844.2 L750.9,1846.0 L752.2,1844.9 L753.6,1846.0 L754.9,1847.1 L756.2,1848.8 L757.6,1850.5 L758.9,1852.3 L760.3,1851.5 L761.6,1857.3 L763.0,1857.9 L764.3,1859.0 L765.6,1859.3 L767.0,1861.3 L768.3,1863.6 L769.7,1865.1 L771.0,1864.3 L772.4,1868.5 L773.7,1872.2 L775.0,1868.6 L776.4,1872.9 L777.7,1873.5 L779.1,1874.2 L780.4,1876.8 L781.8,1875.5 L783.1,1877.8 L784.4,1880.0 L785.8,1879.4 L787.1,1880.1 L788.5,1881.4 L789.8,1881.7 L791.2,1884.1 L792.5,1882.7 L793.8,1884.9 L795.2,1883.7 L796.5,1885.9 L797.9,1885.8 L799.2,1884.4 L800.5,1886.9 L801.9,1886.5 L803.2,1887.4 L804.6,1889.3 L805.9,1887.7 L807.3,1888.1 L808.6,1890.3 L809.9,1889.6 L811.3,1890.9 L812.6,1890.3 L814.0,1889.7 L815.3,1890.5 L816.7,1891.7 L818.0,1891.7 L819.3,1891.3 L820.7,1891.5 L822.0,1891.6 L823.4,1891.4 L824.7,1893.3 L826.1,1892.1 L827.4,1891.6 L828.7,1892.1 L830.1,1893.1 L831.4,1893.1 L832.8,1892.8 L834.1,1892.5 L835.5,1893.1 L836.8,1892.1 L838.1,1892.5 L839.5,1893.9 L840.8,1893.2 L842.2,1893.8 L843.5,1894.4 L844.9,1894.2 L846.2,1893.9 L847.5,1895.2 L848.9,1894.4 L850.2,1893.9 L851.6,1894.6 L852.9,1894.5 L854.2,1893.8 L855.6,1894.4 L856.9,1894.4 L858.3,1893.4 L859.6,1894.5 L861.0,1894.5 L862.3,1894.4 L863.6,1893.8 L865.0,1894.6 L866.3,1894.8 L867.7,1895.0 L869.0,1894.3 L870.4,1895.3 L871.7,1894.4 L873.0,1895.0 L874.4,1895.8 L875.7,1894.8 L877.1,1894.9 L878.4,1895.8 L879.8,1895.1 L881.1,1895.2 L882.4,1895.5 L883.8,1896.0 L885.1,1894.2 L886.5,1895.0 L887.8,1894.9 L889.2,1894.9 L890.5,1895.1 L891.8,1895.1 L893.2,1895.8 L894.5,1895.2 L895.9,1895.7 L897.2,1895.9 L898.6,1895.3 L899.9,1895.8 L901.2,1896.6 L902.6,1896.0 L903.9,1895.5 L905.3,1895.8 L906.6,1895.4 L907.9,1896.0 L909.3,1896.3 L910.6,1895.5 L912.0,1895.8 L913.3,1896.5 L914.7,1895.7 L916.0,1896.1 L917.3,1895.5 L918.7,1895.6 L920.0,1895.8 L921.4,1897.2 L922.7,1895.9 L924.1,1895.8 L925.4,1895.8 L926.7,1896.1 L928.1,1896.5 L929.4,1896.3 L930.8,1897.2 L932.1,1896.3 L933.5,1896.9 L934.8,1896.4 L936.1,1896.5 L937.5,1895.5 L938.8,1896.2 L940.2,1896.2 L941.5,1896.1 L942.9,1895.2 L944.2,1896.7 L945.5,1896.1 L946.9,1896.1 L948.2,1896.2 L949.6,1896.2 L950.9,1896.5 L952.3,1895.7 L953.6,1895.9 L954.9,1896.5 L956.3,1896.4 L957.6,1896.2 L959.0,1896.1 L960.3,1896.0 L961.6,1896.3 L963.0,1897.0 L964.3,1895.9 L965.7,1897.1 L967.0,1896.8 L968.4,1896.2 L969.7,1896.8 L971.0,1895.7 L972.4,1895.6 L973.7,1895.8 L975.1,1896.2 L976.4,1896.3 L977.8,1896.2 L979.1,1896.5 L980.4,1895.4 L981.8,1896.7 L983.1,1895.8 L984.5,1896.1 L985.8,1896.3 L987.2,1895.9 L988.5,1895.8 L989.8,1896.0 L991.2,1896.4 L992.5,1896.7 L993.9,1896.7 L995.2,1896.0 L996.6,1896.1 L997.9,1896.0 L999.2,1896.7 L1000.6,1895.5 L1001.9,1897.0 L1003.3,1896.2 L1004.6,1896.1 L1006.0,1896.6 L1007.3,1897.0 L1008.6,1896.6 L1010.0,1897.0 L1011.3,1896.5 L1012.7,1897.0 L1014.0,1897.0 L1015.3,1896.4 L1016.7,1897.1 L1018.0,1896.5 L1019.4,1896.5 L1020.7,1896.0 L1022.1,1896.3 L1023.4,1896.8 L1024.7,1895.8 L1026.1,1896.7 L1027.4,1896.6 L1028.8,1896.6 L1030.1,1895.4 L1031.5,1896.4 L1032.8,1896.7 L1034.1,1896.1 L1035.5,1896.5 L1036.8,1895.3 L1038.2,1896.7 L1039.5,1896.1 L1040.9,1896.8 L1042.2,1895.5 L1043.5,1896.7 L1044.9,1896.3 L1046.2,1896.8 L1047.6,1895.9 L1048.9,1896.1 L1050.3,1897.4 L1051.6,1895.9 L1052.9,1896.0 L1054.3,1896.2 L1055.6,1895.8 L1057.0,1896.9 L1058.3,1897.1 L1059.7,1896.0 L1061.0,1895.4 L1062.3,1896.8 L1063.7,1896.8 L1065.0,1896.7 L1066.4,1896.8 L1067.7,1895.8 L1069.0,1896.1 L1070.4,1895.5 L1071.7,1895.5 L1073.1,1896.7 L1074.4,1895.8 L1075.8,1897.3 L1077.1,1896.2 L1078.4,1895.8 L1079.8,1896.5 L1081.1,1897.0 L1082.5,1896.3 L1083.8,1895.5 L1085.2,1896.2 L1086.5,1896.7 L1087.8,1895.8 L1089.2,1895.6 L1090.5,1896.5 L1091.9,1896.0 L1093.2,1895.4 L1094.6,1895.7 L1095.9,1895.5 L1097.2,1896.0 L1098.6,1895.9 L1099.9,1896.4 L1101.3,1896.2 L1102.6,1895.0 L1104.0,1896.0 L1105.3,1896.2 L1106.6,1895.9 L1108.0,1896.2 L1109.3,1895.4 L1110.7,1895.1 L1112.0,1896.1 L1113.4,1895.0 L1114.7,1894.4 L1116.0,1896.0 L1117.4,1895.1 L1118.7,1895.2 L1120.1,1894.6 L1121.4,1894.6 L1122.7,1894.7 L1124.1,1895.0 L1125.4,1895.4 L1126.8,1893.9 L1128.1,1895.5 L1129.5,1894.4 L1130.8,1894.4 L1132.1,1895.3 L1133.5,1894.8 L1134.8,1893.9 L1136.2,1895.8 L1137.5,1894.2 L1138.9,1894.7 L1140.2,1894.6 L1141.5,1895.2 L1142.9,1894.1 L1144.2,1894.9 L1145.6,1893.7 L1146.9,1894.7 L1148.3,1893.5 L1149.6,1893.7 L1150.9,1894.9 L1152.3,1893.8 L1153.6,1893.6 L1155.0,1894.7 L1156.3,1893.4 L1157.7,1892.6 L1159.0,1893.4 L1160.3,1892.0 L1161.7,1893.3 L1163.0,1893.1 L1164.4,1891.8 L1165.7,1891.5 L1167.1,1891.8 L1168.4,1891.5 L1169.7,1890.5 L1171.1,1891.3 L1172.4,1889.2 L1173.8,1890.0 L1175.1,1889.7 L1176.4,1889.5 L1177.8,1889.5 L1179.1,1888.0 L1180.5,1888.9 L1181.8,1888.0 L1183.2,1887.2 L1184.5,1886.1 L1185.8,1885.8 L1187.2,1886.5 L1188.5,1884.9 L1189.9,1885.1 L1191.2,1885.4 L1192.6,1884.7 L1193.9,1884.6 L1195.2,1882.4 L1196.6,1881.0 L1197.9,1882.2 L1199.3,1880.8 L1200.6,1880.9 L1202.0,1879.1 L1203.3,1879.5 L1204.6,1878.5 L1206.0,1877.6 L1207.3,1876.7 L1208.7,1875.9 L1210.0,1875.1 L1211.4,1874.4 L1212.7,1874.6 L1214.0,1872.5 L1215.4,1874.3 L1216.7,1872.0 L1218.1,1872.8 L1219.4,1871.4 L1220.7,1871.0 L1222.1,1873.2 L1223.4,1870.8 L1224.8,1869.9 L1226.1,1870.7 L1227.5,1871.3 L1228.8,1874.2 L1230.1,1872.6 L1231.5,1873.8 L1232.8,1872.4 L1234.2,1874.3 L1235.5,1875.3 L1236.9,1877.0 L1238.2,1875.3 L1239.5,1877.3 L1240.9,1877.7 L1242.2,1877.2 L1243.6,1878.9 L1244.9,1879.4 L1246.3,1878.3 L1247.6,1881.6 L1248.9,1882.2 L1250.3,1882.0 L1251.6,1881.9 L1253.0,1884.9 L1254.3,1884.5 L1255.7,1885.7 L1257.0,1886.6 L1258.3,1885.6 L1259.7,1887.2 L1261.0,1886.8 L1262.4,1887.5 L1263.7,1887.9 L1265.1,1888.4 L1266.4,1889.6 L1267.7,1889.3 L1269.1,1889.5 L1270.4,1889.7 L1271.8,1890.5 L1273.1,1889.9 L1274.4,1890.5 L1275.8,1891.1 L1277.1,1891.0 L1278.5,1891.6 L1279.8,1891.5 L1281.2,1893.4 L1282.5,1893.2 L1283.8,1892.8 L1285.2,1892.7 L1286.5,1894.3 L1287.9,1893.3 L1289.2,1893.2 L1290.6,1893.5 L1291.9,1893.7 L1293.2,1894.5 L1294.6,1893.7 L1295.9,1895.1 L1297.3,1893.5 L1298.6,1894.5 L1300.0,1893.6 L1301.3,1895.3 L1302.6,1894.2 L1304.0,1894.4 L1305.3,1895.1 L1306.7,1895.3 L1308.0,1894.1 L1309.4,1894.6 L1310.7,1894.1 L1312.0,1895.0 L1313.4,1894.9 L1314.7,1894.8 L1316.1,1894.7 L1317.4,1894.9 L1318.8,1894.8 L1320.1,1895.5 L1321.4,1896.1 L1322.8,1894.3 L1324.1,1895.3 L1325.5,1895.2 L1326.8,1895.7 L1328.1,1895.0 L1329.5,1895.5 L1330.8,1895.0 L1332.2,1896.0 L1333.5,1895.7 L1334.9,1895.6 L1336.2,1895.9 L1337.5,1895.6 L1338.9,1895.0 L1340.2,1896.1 L1341.6,1896.0 L1342.9,1895.8 L1344.3,1896.4 L1345.6,1896.5 L1346.9,1895.4 L1348.3,1895.6 L1349.6,1896.8 L1351.0,1896.7 L1352.3,1895.7 L1353.7,1895.5 L1355.0,1895.8 L1356.3,1895.9 L1357.7,1895.3 L1359.0,1896.1 L1360.4,1895.5 L1361.7,1895.6 L1363.1,1896.6 L1364.4,1895.9 L1365.7,1896.2 L1367.1,1896.5 L1368.4,1896.6 L1369.8,1896.1 L1371.1,1896.3 L1372.5,1895.9 L1373.8,1897.1 L1375.1,1896.6 L1376.5,1895.8 L1377.8,1896.4 L1379.2,1896.7 L1380.5,1896.6 L1381.8,1897.3 L1383.2,1897.1 L1384.5,1896.2 L1385.9,1896.4 L1387.2,1895.8 L1388.6,1896.6 L1389.9,1896.5 L1391.2,1897.7 L1392.6,1896.5 L1393.9,1895.5 L1395.3,1896.2 L1396.6,1896.6 L1398.0,1895.9 L1399.3,1896.1 L1400.6,1896.4 L1402.0,1896.7 L1403.3,1896.5 L1404.7,1896.1 L1406.0,1896.9 L1407.4,1896.3 L1408.7,1896.4 L1410.0,1896.0 L1411.4,1896.2 L1412.7,1896.9 L1414.1,1895.9 L1415.4,1896.6 L1416.8,1896.9 L1418.1,1896.5 L1419.4,1896.7 L1420.8,1896.1 L1422.1,1897.2 L1423.5,1897.1 L1424.8,1896.8 L1426.2,1895.9 L1427.5,1896.2 L1428.8,1897.1 L1430.2,1897.4 L1431.5,1896.8 L1432.9,1897.2 L1434.2,1896.4 L1435.5,1896.6 L1436.9,1896.7 L1438.2,1896.9 L1439.6,1896.0 L1440.9,1897.1 L1442.3,1897.3 L1443.6,1896.2 L1444.9,1896.1 L1446.3,1896.9 L1447.6,1896.4 L1449.0,1895.7 L1450.3,1897.1 L1451.7,1896.8 L1453.0,1896.5 L1454.3,1897.7 L1455.7,1896.8 L1457.0,1896.4 L1458.4,1896.8 L1459.7,1896.3 L1461.1,1896.4 L1462.4,1896.9 L1463.7,1896.5 L1465.1,1896.6 L1466.4,1897.5 L1467.8,1897.1 L1469.1,1897.1 L1470.5,1897.0 L1471.8,1897.0 L1473.1,1897.4 L1474.5,1896.8 L1475.8,1897.6 L1477.2,1896.4 L1478.5,1896.7 L1479.9,1896.2 L1481.2,1896.6 L1482.5,1897.0 L1483.9,1897.4 L1485.2,1896.5 L1486.6,1896.8 L1487.9,1896.6 L1489.2,1896.5 L1490.6,1896.3 L1491.9,1896.8 L1493.3,1896.0 L1494.6,1896.8 L1496.0,1896.8 L1497.3,1896.5 L1498.6,1896.3 L1500.0,1896.2 L1501.3,1897.6 L1502.7,1896.2 L1504.0,1897.5 L1505.4,1897.0 L1506.7,1896.6 L1508.0,1896.3 L1509.4,1897.2 L1510.7,1897.5 L1512.1,1896.3 L1513.4,1896.6 L1514.8,1897.2 L1516.1,1896.9 L1517.4,1897.6 L1518.8,1896.5 L1520.1,1897.0 L1521.5,1896.2 L1522.8,1897.7 L1524.2,1896.4 L1525.5,1895.7 L1526.8,1896.7 L1528.2,1896.6 L1529.5,1897.6 L1530.9,1896.5 L1532.2,1896.7 L1533.6,1896.9 L1534.9,1897.4 L1536.2,1896.6 L1537.6,1897.1 L1538.9,1896.9 L1540.3,1896.5 L1541.6,1896.6 L1542.9,1896.6 L1544.3,1896.2 L1545.6,1897.1 L1547.0,1895.9 L1548.3,1897.1 L1549.7,1896.9 L1551.0,1896.4 L1552.3,1896.1 L1553.7,1896.3 L1555.0,1896.6 L1556.4,1896.7 L1557.7,1896.5 L1559.1,1896.8 L1560.4,1896.0 L1561.7,1896.3 L1563.1,1895.4 L1564.4,1896.5 L1565.8,1896.1 L1567.1,1895.8 L1568.5,1896.5 L1569.8,1896.2 L1571.1,1894.3 L1572.5,1895.7 L1573.8,1894.9 L1575.2,1896.1 L1576.5,1896.7 L1577.9,1895.1 L1579.2,1895.3 L1580.5,1895.0 L1581.9,1895.2 L1583.2,1895.2 L1584.6,1895.5 L1585.9,1894.1 L1587.3,1895.4 L1588.6,1893.8 L1589.9,1894.4 L1591.3,1894.8 L1592.6,1894.4 L1594.0,1893.2 L1595.3,1893.2 L1596.6,1893.2 L1598.0,1893.3 L1599.3,1893.9 L1600.7,1892.3 L1602.0,1893.2 L1603.4,1893.2 L1604.7,1893.0 L1606.0,1892.8 L1607.4,1893.4 L1608.7,1892.7 L1610.1,1892.8 L1611.4,1892.5 L1612.8,1893.3 L1614.1,1890.9 L1615.4,1892.9 L1616.8,1891.9 L1618.1,1891.9 L1619.5,1891.4 L1620.8,1890.9 L1622.2,1891.9 L1623.5,1891.8 L1624.8,1892.6 L1626.2,1891.5 L1627.5,1893.4 L1628.9,1892.8 L1630.2,1892.6 L1631.6,1892.5 L1632.9,1892.6 L1634.2,1892.5 L1635.6,1893.0 L1636.9,1893.5 L1638.3,1893.5 L1639.6,1892.9 L1641.0,1893.8 L1642.3,1893.5 L1643.6,1894.3 L1645.0,1895.4 L1646.3,1894.8 L1647.7,1894.4 L1649.0,1893.8 L1650.3,1894.1 L1651.7,1894.1 L1653.0,1895.5 L1654.4,1894.8 L1655.7,1895.4 L1657.1,1895.1 L1658.4,1895.6 L1659.7,1896.3 L1661.1,1895.4 L1662.4,1895.6 L1663.8,1895.5 L1665.1,1896.4 L1666.5,1895.5 L1667.8,1895.5" fill="none" stroke="#0000ff" stroke-width="4.6" stroke-linejoin="round"/>
<path d="M192.4,2119.9 L193.7,2119.9 L195.1,2120.6 L196.4,2121.4 L197.8,2120.0 L199.1,2120.8 L200.5,2120.5 L201.8,2120.0 L203.1,2120.3 L204.5,2120.3 L205.8,2120.2 L207.2,2121.2 L208.5,2119.7 L209.9,2120.6 L211.2,2120.5 L212.5,2120.2 L213.9,2120.5 L215.2,2120.7 L216.6,2120.5 L217.9,2120.6 L219.2,2120.7 L220.6,2119.6 L221.9,2121.0 L223.3,2121.3 L224.6,2120.8 L226.0,2120.8 L227.3,2119.9 L228.6,2120.3 L230.0,2120.1 L231.3,2120.2 L232.7,2120.8 L234.0,2120.1 L235.4,2120.3 L236.7,2119.6 L238.0,2120.3 L239.4,2120.4 L240.7,2120.1 L242.1,2120.1 L243.4,2121.1 L244.8,2119.9 L246.1,2120.0 L247.4,2120.1 L248.8,2120.8 L250.1,2121.2 L251.5,2120.5 L252.8,2120.1 L254.2,2120.2 L255.5,2120.8 L256.8,2120.0 L258.2,2120.9 L259.5,2120.9 L260.9,2120.4 L262.2,2120.6 L263.6,2120.6 L264.9,2121.0 L266.2,2119.9 L267.6,2120.8 L268.9,2120.2 L270.3,2120.0 L271.6,2120.4 L272.9,2120.3 L274.3,2120.0 L275.6,2119.7 L277.0,2120.0 L278.3,2120.9 L279.7,2121.1 L281.0,2120.6 L282.3,2120.8 L283.7,2120.1 L285.0,2120.3 L286.4,2120.4 L287.7,2119.9 L289.1,2119.9 L290.4,2120.4 L291.7,2120.2 L293.1,2119.9 L294.4,2120.5 L295.8,2120.2 L297.1,2120.7 L298.5,2120.3 L299.8,2120.2 L301.1,2120.4 L302.5,2120.2 L303.8,2120.0 L305.2,2120.1 L306.5,2120.6 L307.9,2120.5 L309.2,2120.8 L310.5,2119.6 L311.9,2120.1 L313.2,2120.1 L314.6,2120.4 L315.9,2120.1 L317.3,2120.1 L318.6,2120.6 L319.9,2120.3 L321.3,2119.8 L322.6,2120.8 L324.0,2120.7 L325.3,2120.0 L326.6,2120.6 L328.0,2120.0 L329.3,2120.7 L330.7,2120.2 L332.0,2119.9 L333.4,2120.1 L334.7,2120.0 L336.0,2120.3 L337.4,2120.3 L338.7,2120.3 L340.1,2120.0 L341.4,2118.8 L342.8,2120.3 L344.1,2119.5 L345.4,2120.3 L346.8,2120.7 L348.1,2120.3 L349.5,2120.1 L350.8,2120.2 L352.2,2120.2 L353.5,2120.0 L354.8,2120.0 L356.2,2119.9 L357.5,2120.7 L358.9,2120.2 L360.2,2120.6 L361.6,2120.1 L362.9,2120.2 L364.2,2120.1 L365.6,2120.4 L366.9,2120.5 L368.3,2120.3 L369.6,2119.9 L371.0,2119.9 L372.3,2120.9 L373.6,2120.1 L375.0,2120.1 L376.3,2120.8 L377.7,2120.6 L379.0,2120.4 L380.3,2120.0 L381.7,2121.1 L383.0,2120.3 L384.4,2120.4 L385.7,2120.1 L387.1,2119.6 L388.4,2119.6 L389.7,2120.3 L391.1,2120.3 L392.4,2120.1 L393.8,2119.7 L395.1,2119.6 L396.5,2120.0 L397.8,2119.5 L399.1,2120.5 L400.5,2120.6 L401.8,2121.3 L403.2,2120.5 L404.5,2119.9 L405.9,2119.8 L407.2,2118.7 L408.5,2119.9 L409.9,2120.0 L411.2,2120.5 L412.6,2120.4 L413.9,2120.4 L415.3,2120.2 L416.6,2120.4 L417.9,2120.7 L419.3,2119.7 L420.6,2119.9 L422.0,2119.5 L423.3,2120.8 L424.7,2120.6 L426.0,2120.4 L427.3,2119.6 L428.7,2120.2 L430.0,2120.0 L431.4,2120.1 L432.7,2120.0 L434.0,2120.3 L435.4,2119.9 L436.7,2120.4 L438.1,2120.1 L439.4,2119.9 L440.8,2120.0 L442.1,2119.8 L443.4,2120.4 L444.8,2119.9 L446.1,2120.1 L447.5,2119.8 L448.8,2119.4 L450.2,2120.4 L451.5,2119.5 L452.8,2120.3 L454.2,2120.1 L455.5,2119.2 L456.9,2119.5 L458.2,2119.7 L459.6,2119.6 L460.9,2119.4 L462.2,2120.2 L463.6,2119.8 L464.9,2120.1 L466.3,2119.7 L467.6,2120.0 L469.0,2119.5 L470.3,2119.8 L471.6,2120.1 L473.0,2119.8 L474.3,2119.5 L475.7,2119.1 L477.0,2119.6 L478.4,2119.4 L479.7,2118.6 L481.0,2117.6 L482.4,2117.2 L483.7,2116.9 L485.1,2113.1 L486.4,2111.1 L487.7,2108.5 L489.1,2103.4 L490.4,2103.6 L491.8,2101.4 L493.1,2102.8 L494.5,2101.9 L495.8,2103.0 L497.1,2105.8 L498.5,2108.7 L499.8,2110.7 L501.2,2113.4 L502.5,2114.5 L503.9,2116.7 L505.2,2118.3 L506.5,2119.5 L507.9,2119.3 L509.2,2119.2 L510.6,2119.8 L511.9,2119.8 L513.3,2120.1 L514.6,2119.8 L515.9,2119.2 L517.3,2119.3 L518.6,2119.3 L520.0,2119.3 L521.3,2119.3 L522.7,2118.7 L524.0,2118.1 L525.3,2118.8 L526.7,2118.1 L528.0,2119.1 L529.4,2119.0 L530.7,2118.2 L532.1,2119.3 L533.4,2119.4 L534.7,2119.0 L536.1,2119.8 L537.4,2119.9 L538.8,2118.3 L540.1,2119.4 L541.4,2119.1 L542.8,2119.1 L544.1,2119.3 L545.5,2118.4 L546.8,2118.5 L548.2,2118.3 L549.5,2118.4 L550.8,2118.7 L552.2,2118.0 L553.5,2118.2 L554.9,2119.0 L556.2,2118.6 L557.6,2118.9 L558.9,2117.6 L560.2,2118.2 L561.6,2118.3 L562.9,2118.6 L564.3,2118.3 L565.6,2119.1 L567.0,2118.5 L568.3,2118.6 L569.6,2118.6 L571.0,2118.9 L572.3,2118.3 L573.7,2119.1 L575.0,2118.8 L576.4,2118.6 L577.7,2118.5 L579.0,2118.8 L580.4,2119.0 L581.7,2119.0 L583.1,2118.7 L584.4,2118.9 L585.8,2118.5 L587.1,2119.1 L588.4,2118.4 L589.8,2117.3 L591.1,2119.2 L592.5,2118.5 L593.8,2117.8 L595.1,2118.3 L596.5,2118.0 L597.8,2119.6 L599.2,2118.7 L600.5,2117.6 L601.9,2118.7 L603.2,2118.2 L604.5,2119.5 L605.9,2117.9 L607.2,2117.2 L608.6,2118.5 L609.9,2118.2 L611.3,2118.2 L612.6,2117.3 L613.9,2118.7 L615.3,2119.3 L616.6,2117.4 L618.0,2119.1 L619.3,2118.1 L620.7,2119.7 L622.0,2118.7 L623.3,2118.3 L624.7,2119.0 L626.0,2118.7 L627.4,2118.1 L628.7,2118.8 L630.1,2118.1 L631.4,2117.4 L632.7,2119.5 L634.1,2118.2 L635.4,2118.1 L636.8,2118.6 L638.1,2117.5 L639.5,2117.6 L640.8,2118.1 L642.1,2118.1 L643.5,2118.4 L644.8,2118.9 L646.2,2118.1 L647.5,2118.6 L648.8,2118.6 L650.2,2117.7 L651.5,2118.4 L652.9,2117.7 L654.2,2118.8 L655.6,2118.4 L656.9,2118.1 L658.2,2117.4 L659.6,2118.1 L660.9,2117.6 L662.3,2118.4 L663.6,2117.9 L665.0,2117.4 L666.3,2118.4 L667.6,2118.2 L669.0,2117.4 L670.3,2118.3 L671.7,2117.4 L673.0,2117.3 L674.4,2117.5 L675.7,2116.9 L677.0,2117.0 L678.4,2117.1 L679.7,2118.0 L681.1,2117.8 L682.4,2116.6 L683.8,2117.7 L685.1,2116.5 L686.4,2116.6 L687.8,2116.8 L689.1,2116.2 L690.5,2117.4 L691.8,2115.8 L693.1,2114.6 L694.5,2116.0 L695.8,2114.6 L697.2,2114.4 L698.5,2112.3 L699.9,2114.7 L701.2,2114.2 L702.5,2113.8 L703.9,2113.5 L705.2,2113.6 L706.6,2111.8 L707.9,2112.0 L709.3,2110.2 L710.6,2109.9 L711.9,2110.3 L713.3,2109.0 L714.6,2106.9 L716.0,2107.4 L717.3,2106.0 L718.7,2104.5 L720.0,2104.6 L721.3,2102.7 L722.7,2100.5 L724.0,2099.6 L725.4,2101.0 L726.7,2096.5 L728.1,2096.7 L729.4,2095.6 L730.7,2094.1 L732.1,2090.6 L733.4,2089.9 L734.8,2088.8 L736.1,2087.9 L737.5,2084.7 L738.8,2082.6 L740.1,2083.7 L741.5,2082.6 L742.8,2080.7 L744.2,2078.7 L745.5,2079.2 L746.8,2078.5 L748.2,2079.3 L749.5,2076.9 L750.9,2078.9 L752.2,2079.3 L753.6,2079.0 L754.9,2081.6 L756.2,2082.5 L757.6,2083.3 L758.9,2085.6 L760.3,2085.0 L761.6,2087.9 L763.0,2089.8 L764.3,2091.1 L765.6,2093.3 L767.0,2092.2 L768.3,2093.2 L769.7,2096.2 L771.0,2097.6 L772.4,2100.3 L773.7,2099.9 L775.0,2099.5 L776.4,2102.0 L777.7,2101.3 L779.1,2101.6 L780.4,2106.0 L781.8,2104.7 L783.1,2105.7 L784.4,2106.2 L785.8,2107.9 L787.1,2107.2 L788.5,2108.5 L789.8,2107.1 L791.2,2107.3 L792.5,2110.0 L793.8,2110.4 L795.2,2110.1 L796.5,2110.2 L797.9,2110.5 L799.2,2110.2 L800.5,2112.3 L801.9,2111.9 L803.2,2112.1 L804.6,2112.3 L805.9,2113.1 L807.3,2113.0 L808.6,2113.4 L809.9,2112.3 L811.3,2113.7 L812.6,2115.2 L814.0,2113.5 L815.3,2114.0 L816.7,2115.0 L818.0,2115.2 L819.3,2115.2 L820.7,2113.9 L822.0,2115.6 L823.4,2114.7 L824.7,2115.1 L826.1,2116.2 L827.4,2115.8 L828.7,2116.7 L830.1,2118.3 L831.4,2117.0 L832.8,2117.2 L834.1,2116.3 L835.5,2116.6 L836.8,2116.5 L838.1,2117.0 L839.5,2116.8 L840.8,2117.2 L842.2,2117.6 L843.5,2117.3 L844.9,2117.2 L846.2,2117.3 L847.5,2118.5 L848.9,2118.4 L850.2,2119.0 L851.6,2119.1 L852.9,2118.4 L854.2,2119.1 L855.6,2118.0 L856.9,2120.1 L858.3,2119.6 L859.6,2118.9 L861.0,2118.5 L862.3,2119.4 L863.6,2118.3 L865.0,2118.9 L866.3,2119.7 L867.7,2119.4 L869.0,2119.2 L870.4,2120.0 L871.7,2119.0 L873.0,2119.7 L874.4,2119.4 L875.7,2119.3 L877.1,2120.0 L878.4,2119.3 L879.8,2120.7 L881.1,2119.5 L882.4,2120.8 L883.8,2119.4 L885.1,2120.2 L886.5,2119.4 L887.8,2119.3 L889.2,2120.1 L890.5,2120.3 L891.8,2119.4 L893.2,2120.6 L894.5,2119.7 L895.9,2120.1 L897.2,2120.3 L898.6,2120.4 L899.9,2119.3 L901.2,2120.9 L902.6,2120.4 L903.9,2120.0 L905.3,2119.7 L906.6,2119.4 L907.9,2119.6 L909.3,2120.5 L910.6,2120.1 L912.0,2119.7 L913.3,2120.0 L914.7,2121.0 L916.0,2120.1 L917.3,2120.0 L918.7,2120.9 L920.0,2120.5 L921.4,2120.3 L922.7,2120.0 L924.1,2119.6 L925.4,2119.8 L926.7,2120.1 L928.1,2120.2 L929.4,2120.5 L930.8,2120.6 L932.1,2120.5 L933.5,2120.5 L934.8,2119.9 L936.1,2119.4 L937.5,2120.1 L938.8,2119.9 L940.2,2120.1 L941.5,2120.2 L942.9,2119.8 L944.2,2119.9 L945.5,2120.3 L946.9,2120.4 L948.2,2120.1 L949.6,2120.6 L950.9,2120.3 L952.3,2119.9 L953.6,2120.4 L954.9,2121.2 L956.3,2120.1 L957.6,2120.9 L959.0,2121.0 L960.3,2121.0 L961.6,2120.0 L963.0,2121.3 L964.3,2120.4 L965.7,2120.2 L967.0,2120.3 L968.4,2120.6 L969.7,2120.4 L971.0,2120.3 L972.4,2120.9 L973.7,2120.0 L975.1,2119.8 L976.4,2120.7 L977.8,2120.6 L979.1,2120.8 L980.4,2119.8 L981.8,2120.7 L983.1,2120.4 L984.5,2121.0 L985.8,2119.5 L987.2,2120.2 L988.5,2119.8 L989.8,2119.1 L991.2,2119.4 L992.5,2120.2 L993.9,2119.2 L995.2,2118.9 L996.6,2119.5 L997.9,2119.3 L999.2,2119.0 L1000.6,2117.7 L1001.9,2117.8 L1003.3,2118.1 L1004.6,2116.7 L1006.0,2116.3 L1007.3,2116.9 L1008.6,2117.1 L1010.0,2115.1 L1011.3,2113.9 L1012.7,2114.5 L1014.0,2114.8 L1015.3,2115.4 L1016.7,2116.0 L1018.0,2115.7 L1019.4,2115.6 L1020.7,2116.5 L1022.1,2116.1 L1023.4,2117.1 L1024.7,2117.1 L1026.1,2119.4 L1027.4,2118.6 L1028.8,2118.0 L1030.1,2118.2 L1031.5,2118.7 L1032.8,2118.3 L1034.1,2119.0 L1035.5,2119.2 L1036.8,2120.1 L1038.2,2119.6 L1039.5,2119.5 L1040.9,2119.3 L1042.2,2119.4 L1043.5,2120.0 L1044.9,2120.0 L1046.2,2120.6 L1047.6,2119.8 L1048.9,2120.6 L1050.3,2120.3 L1051.6,2120.2 L1052.9,2119.2 L1054.3,2119.6 L1055.6,2120.5 L1057.0,2120.8 L1058.3,2120.3 L1059.7,2120.5 L1061.0,2120.0 L1062.3,2120.0 L1063.7,2119.8 L1065.0,2120.6 L1066.4,2120.3 L1067.7,2120.0 L1069.0,2120.0 L1070.4,2120.4 L1071.7,2120.3 L1073.1,2119.7 L1074.4,2120.9 L1075.8,2120.2 L1077.1,2120.1 L1078.4,2120.8 L1079.8,2120.6 L1081.1,2120.0 L1082.5,2120.3 L1083.8,2119.5 L1085.2,2119.7 L1086.5,2118.9 L1087.8,2120.6 L1089.2,2119.1 L1090.5,2120.3 L1091.9,2119.6 L1093.2,2119.5 L1094.6,2119.8 L1095.9,2120.0 L1097.2,2120.2 L1098.6,2120.7 L1099.9,2120.0 L1101.3,2120.3 L1102.6,2119.5 L1104.0,2120.2 L1105.3,2119.9 L1106.6,2119.5 L1108.0,2119.7 L1109.3,2119.7 L1110.7,2119.8 L1112.0,2119.9 L1113.4,2119.4 L1114.7,2119.3 L1116.0,2120.0 L1117.4,2118.7 L1118.7,2119.2 L1120.1,2120.3 L1121.4,2118.1 L1122.7,2119.1 L1124.1,2119.8 L1125.4,2118.5 L1126.8,2120.7 L1128.1,2118.0 L1129.5,2120.0 L1130.8,2120.0 L1132.1,2119.7 L1133.5,2119.0 L1134.8,2119.3 L1136.2,2118.6 L1137.5,2119.4 L1138.9,2118.3 L1140.2,2118.7 L1141.5,2119.3 L1142.9,2118.1 L1144.2,2118.5 L1145.6,2118.7 L1146.9,2117.8 L1148.3,2119.1 L1149.6,2118.6 L1150.9,2117.4 L1152.3,2118.2 L1153.6,2117.7 L1155.0,2117.6 L1156.3,2117.9 L1157.7,2117.4 L1159.0,2118.2 L1160.3,2117.1 L1161.7,2118.0 L1163.0,2117.2 L1164.4,2117.6 L1165.7,2116.6 L1167.1,2116.4 L1168.4,2115.9 L1169.7,2116.7 L1171.1,2116.8 L1172.4,2117.3 L1173.8,2116.6 L1175.1,2115.7 L1176.4,2115.1 L1177.8,2115.3 L1179.1,2114.7 L1180.5,2115.4 L1181.8,2114.8 L1183.2,2113.2 L1184.5,2113.0 L1185.8,2114.1 L1187.2,2112.9 L1188.5,2112.2 L1189.9,2112.8 L1191.2,2111.2 L1192.6,2110.9 L1193.9,2110.3 L1195.2,2108.6 L1196.6,2110.3 L1197.9,2108.2 L1199.3,2108.2 L1200.6,2107.5 L1202.0,2108.2 L1203.3,2107.0 L1204.6,2106.5 L1206.0,2104.5 L1207.3,2105.4 L1208.7,2103.6 L1210.0,2104.6 L1211.4,2104.2 L1212.7,2103.4 L1214.0,2104.8 L1215.4,2103.0 L1216.7,2102.7 L1218.1,2101.9 L1219.4,2101.3 L1220.7,2102.2 L1222.1,2102.1 L1223.4,2099.8 L1224.8,2101.9 L1226.1,2101.4 L1227.5,2101.9 L1228.8,2101.6 L1230.1,2100.3 L1231.5,2100.6 L1232.8,2103.7 L1234.2,2102.6 L1235.5,2101.5 L1236.9,2103.5 L1238.2,2103.4 L1239.5,2102.6 L1240.9,2102.7 L1242.2,2103.9 L1243.6,2106.0 L1244.9,2106.3 L1246.3,2106.7 L1247.6,2107.7 L1248.9,2108.5 L1250.3,2106.8 L1251.6,2108.8 L1253.0,2108.9 L1254.3,2109.0 L1255.7,2110.1 L1257.0,2110.8 L1258.3,2111.2 L1259.7,2110.7 L1261.0,2111.9 L1262.4,2114.1 L1263.7,2112.2 L1265.1,2112.1 L1266.4,2113.8 L1267.7,2114.3 L1269.1,2114.3 L1270.4,2113.3 L1271.8,2114.7 L1273.1,2113.1 L1274.4,2112.5 L1275.8,2112.3 L1277.1,2112.1 L1278.5,2112.3 L1279.8,2112.0 L1281.2,2111.5 L1282.5,2112.6 L1283.8,2112.7 L1285.2,2114.1 L1286.5,2113.5 L1287.9,2114.3 L1289.2,2116.6 L1290.6,2115.9 L1291.9,2117.1 L1293.2,2117.6 L1294.6,2117.6 L1295.9,2117.8 L1297.3,2119.0 L1298.6,2116.9 L1300.0,2118.9 L1301.3,2119.8 L1302.6,2118.6 L1304.0,2118.6 L1305.3,2119.1 L1306.7,2119.8 L1308.0,2118.2 L1309.4,2119.0 L1310.7,2118.9 L1312.0,2119.3 L1313.4,2119.2 L1314.7,2119.5 L1316.1,2119.0 L1317.4,2119.3 L1318.8,2118.9 L1320.1,2119.0 L1321.4,2119.3 L1322.8,2119.3 L1324.1,2118.8 L1325.5,2120.3 L1326.8,2119.4 L1328.1,2118.8 L1329.5,2120.1 L1330.8,2119.2 L1332.2,2119.9 L1333.5,2119.7 L1334.9,2119.8 L1336.2,2119.8 L1337.5,2119.5 L1338.9,2119.8 L1340.2,2120.8 L1341.6,2118.7 L1342.9,2119.9 L1344.3,2120.1 L1345.6,2119.4 L1346.9,2119.3 L1348.3,2121.0 L1349.6,2119.8 L1351.0,2121.0 L1352.3,2120.3 L1353.7,2120.1 L1355.0,2120.3 L1356.3,2120.4 L1357.7,2120.6 L1359.0,2120.3 L1360.4,2120.2 L1361.7,2120.2 L1363.1,2120.8 L1364.4,2120.5 L1365.7,2119.7 L1367.1,2119.9 L1368.4,2120.4 L1369.8,2119.9 L1371.1,2120.1 L1372.5,2119.8 L1373.8,2120.1 L1375.1,2120.5 L1376.5,2120.7 L1377.8,2120.3 L1379.2,2121.3 L1380.5,2120.3 L1381.8,2121.8 L1383.2,2120.8 L1384.5,2120.6 L1385.9,2120.1 L1387.2,2119.1 L1388.6,2120.3 L1389.9,2120.5 L1391.2,2121.3 L1392.6,2119.8 L1393.9,2121.3 L1395.3,2120.3 L1396.6,2120.8 L1398.0,2119.3 L1399.3,2120.5 L1400.6,2120.3 L1402.0,2120.8 L1403.3,2120.5 L1404.7,2120.0 L1406.0,2120.9 L1407.4,2120.8 L1408.7,2120.8 L1410.0,2120.9 L1411.4,2121.0 L1412.7,2120.5 L1414.1,2119.9 L1415.4,2119.9 L1416.8,2121.1 L1418.1,2120.8 L1419.4,2120.6 L1420.8,2120.4 L1422.1,2120.6 L1423.5,2120.6 L1424.8,2120.4 L1426.2,2120.3 L1427.5,2121.5 L1428.8,2120.7 L1430.2,2120.3 L1431.5,2120.0 L1432.9,2120.3 L1434.2,2120.9 L1435.5,2120.9 L1436.9,2120.5 L1438.2,2120.6 L1439.6,2120.5 L1440.9,2120.1 L1442.3,2121.2 L1443.6,2120.8 L1444.9,2121.7 L1446.3,2120.3 L1447.6,2120.6 L1449.0,2121.0 L1450.3,2120.5 L1451.7,2120.1 L1453.0,2120.3 L1454.3,2120.7 L1455.7,2120.8 L1457.0,2120.6 L1458.4,2121.1 L1459.7,2121.1 L1461.1,2120.8 L1462.4,2120.7 L1463.7,2120.6 L1465.1,2120.9 L1466.4,2121.1 L1467.8,2120.7 L1469.1,2120.9 L1470.5,2120.6 L1471.8,2120.1 L1473.1,2120.3 L1474.5,2121.0 L1475.8,2120.9 L1477.2,2121.4 L1478.5,2120.7 L1479.9,2121.1 L1481.2,2121.3 L1482.5,2121.1 L1483.9,2120.5 L1485.2,2120.7 L1486.6,2120.8 L1487.9,2120.3 L1489.2,2120.9 L1490.6,2121.2 L1491.9,2120.5 L1493.3,2121.6 L1494.6,2120.6 L1496.0,2120.7 L1497.3,2120.7 L1498.6,2120.5 L1500.0,2120.9 L1501.3,2120.8 L1502.7,2121.5 L1504.0,2121.0 L1505.4,2121.0 L1506.7,2120.7 L1508.0,2120.2 L1509.4,2120.7 L1510.7,2120.4 L1512.1,2121.2 L1513.4,2120.8 L1514.8,2121.5 L1516.1,2121.1 L1517.4,2121.1 L1518.8,2120.9 L1520.1,2120.9 L1521.5,2121.1 L1522.8,2121.2 L1524.2,2120.5 L1525.5,2121.0 L1526.8,2121.9 L1528.2,2120.8 L1529.5,2120.7 L1530.9,2120.5 L1532.2,2120.2 L1533.6,2121.3 L1534.9,2120.8 L1536.2,2120.9 L1537.6,2121.6 L1538.9,2121.8 L1540.3,2120.5 L1541.6,2121.2 L1542.9,2121.1 L1544.3,2121.0 L1545.6,2121.0 L1547.0,2120.8 L1548.3,2121.5 L1549.7,2121.1 L1551.0,2121.0 L1552.3,2121.3 L1553.7,2121.2 L1555.0,2121.0 L1556.4,2121.0 L1557.7,2121.5 L1559.1,2121.0 L1560.4,2120.8 L1561.7,2120.5 L1563.1,2120.7 L1564.4,2120.4 L1565.8,2120.9 L1567.1,2120.9 L1568.5,2120.0 L1569.8,2120.8 L1571.1,2121.1 L1572.5,2120.9 L1573.8,2120.5 L1575.2,2121.4 L1576.5,2120.6 L1577.9,2120.4 L1579.2,2120.4 L1580.5,2120.8 L1581.9,2121.2 L1583.2,2121.3 L1584.6,2120.9 L1585.9,2120.2 L1587.3,2120.3 L1588.6,2120.1 L1589.9,2120.2 L1591.3,2119.1 L1592.6,2119.6 L1594.0,2119.3 L1595.3,2118.2 L1596.6,2117.8 L1598.0,2116.2 L1599.3,2115.0 L1600.7,2114.7 L1602.0,2115.3 L1603.4,2114.8 L1604.7,2113.6 L1606.0,2114.8 L1607.4,2114.1 L1608.7,2115.9 L1610.1,2115.9 L1611.4,2116.1 L1612.8,2117.7 L1614.1,2117.6 L1615.4,2118.2 L1616.8,2118.6 L1618.1,2119.9 L1619.5,2120.1 L1620.8,2120.4 L1622.2,2120.4 L1623.5,2121.3 L1624.8,2120.6 L1626.2,2120.5 L1627.5,2121.3 L1628.9,2121.4 L1630.2,2121.0 L1631.6,2120.2 L1632.9,2120.6 L1634.2,2121.1 L1635.6,2120.9 L1636.9,2121.5 L1638.3,2120.3 L1639.6,2121.2 L1641.0,2120.6 L1642.3,2121.4 L1643.6,2120.9 L1645.0,2121.3 L1646.3,2120.6 L1647.7,2120.3 L1649.0,2120.5 L1650.3,2120.7 L1651.7,2120.5 L1653.0,2121.4 L1654.4,2121.4 L1655.7,2121.0 L1657.1,2120.5 L1658.4,2120.8 L1659.7,2120.6 L1661.1,2121.5 L1662.4,2121.0 L1663.8,2121.1 L1665.1,2120.7 L1666.5,2120.1 L1667.8,2120.6" fill="none" stroke="#ff0000" stroke-width="4.6" stroke-linejoin="round"/>
<path d="M192.4,2346.2 L193.7,2346.8 L195.1,2346.7 L196.4,2346.3 L197.8,2346.5 L199.1,2347.3 L200.5,2346.3 L201.8,2346.3 L203.1,2346.5 L204.5,2346.4 L205.8,2346.5 L207.2,2346.8 L208.5,2347.3 L209.9,2345.9 L211.2,2346.6 L212.5,2346.6 L213.9,2346.6 L215.2,2346.5 L216.6,2346.5 L217.9,2347.0 L219.2,2346.4 L220.6,2346.6 L221.9,2346.6 L223.3,2346.6 L224.6,2346.5 L226.0,2347.0 L227.3,2346.6 L228.6,2346.7 L230.0,2346.6 L231.3,2346.2 L232.7,2346.3 L234.0,2346.2 L235.4,2346.7 L236.7,2346.3 L238.0,2346.2 L239.4,2346.7 L240.7,2346.8 L242.1,2345.9 L243.4,2347.3 L244.8,2346.6 L246.1,2346.5 L247.4,2347.0 L248.8,2346.6 L250.1,2346.3 L251.5,2347.5 L252.8,2346.1 L254.2,2346.5 L255.5,2346.9 L256.8,2346.1 L258.2,2346.5 L259.5,2346.7 L260.9,2347.5 L262.2,2346.2 L263.6,2346.5 L264.9,2346.8 L266.2,2346.6 L267.6,2346.0 L268.9,2346.7 L270.3,2346.6 L271.6,2346.7 L272.9,2347.0 L274.3,2346.9 L275.6,2346.7 L277.0,2346.6 L278.3,2346.1 L279.7,2346.5 L281.0,2346.6 L282.3,2346.3 L283.7,2346.5 L285.0,2346.2 L286.4,2347.1 L287.7,2347.4 L289.1,2346.3 L290.4,2346.7 L291.7,2346.4 L293.1,2347.0 L294.4,2346.7 L295.8,2346.5 L297.1,2346.4 L298.5,2346.5 L299.8,2346.1 L301.1,2346.7 L302.5,2346.2 L303.8,2346.7 L305.2,2346.5 L306.5,2346.9 L307.9,2346.5 L309.2,2346.9 L310.5,2346.1 L311.9,2346.7 L313.2,2346.4 L314.6,2346.5 L315.9,2346.5 L317.3,2346.8 L318.6,2345.6 L319.9,2346.6 L321.3,2345.8 L322.6,2346.9 L324.0,2345.6 L325.3,2346.0 L326.6,2345.7 L328.0,2347.1 L329.3,2345.9 L330.7,2346.5 L332.0,2346.2 L333.4,2345.7 L334.7,2346.3 L336.0,2346.7 L337.4,2346.3 L338.7,2346.8 L340.1,2346.2 L341.4,2346.4 L342.8,2346.2 L344.1,2346.5 L345.4,2347.2 L346.8,2346.5 L348.1,2346.4 L349.5,2346.1 L350.8,2346.0 L352.2,2347.0 L353.5,2345.9 L354.8,2346.0 L356.2,2346.3 L357.5,2346.2 L358.9,2347.2 L360.2,2345.3 L361.6,2346.5 L362.9,2346.6 L364.2,2345.8 L365.6,2346.0 L366.9,2346.5 L368.3,2347.0 L369.6,2345.9 L371.0,2345.6 L372.3,2346.7 L373.6,2346.9 L375.0,2346.1 L376.3,2345.3 L377.7,2346.9 L379.0,2346.2 L380.3,2346.7 L381.7,2346.2 L383.0,2346.1 L384.4,2346.1 L385.7,2346.9 L387.1,2346.9 L388.4,2345.3 L389.7,2345.8 L391.1,2347.0 L392.4,2346.1 L393.8,2345.6 L395.1,2346.2 L396.5,2346.1 L397.8,2346.1 L399.1,2346.0 L400.5,2346.0 L401.8,2346.0 L403.2,2346.3 L404.5,2345.8 L405.9,2346.0 L407.2,2346.1 L408.5,2346.7 L409.9,2346.3 L411.2,2346.1 L412.6,2346.4 L413.9,2346.3 L415.3,2346.6 L416.6,2346.3 L417.9,2346.9 L419.3,2346.7 L420.6,2346.0 L422.0,2345.9 L423.3,2346.4 L424.7,2346.3 L426.0,2346.0 L427.3,2345.3 L428.7,2345.2 L430.0,2346.2 L431.4,2346.3 L432.7,2346.3 L434.0,2345.4 L435.4,2346.4 L436.7,2345.7 L438.1,2346.1 L439.4,2346.1 L440.8,2345.5 L442.1,2345.6 L443.4,2344.9 L444.8,2345.4 L446.1,2345.0 L447.5,2346.0 L448.8,2345.8 L450.2,2346.2 L451.5,2345.9 L452.8,2345.4 L454.2,2345.9 L455.5,2345.5 L456.9,2346.0 L458.2,2345.8 L459.6,2345.1 L460.9,2345.6 L462.2,2345.6 L463.6,2345.4 L464.9,2346.0 L466.3,2346.3 L467.6,2345.3 L469.0,2345.3 L470.3,2344.3 L471.6,2345.3 L473.0,2345.2 L474.3,2344.3 L475.7,2345.5 L477.0,2345.6 L478.4,2344.9 L479.7,2345.0 L481.0,2344.7 L482.4,2345.5 L483.7,2344.2 L485.1,2344.7 L486.4,2345.7 L487.7,2344.4 L489.1,2344.2 L490.4,2343.5 L491.8,2342.5 L493.1,2342.9 L494.5,2343.1 L495.8,2342.4 L497.1,2343.4 L498.5,2344.3 L499.8,2344.5 L501.2,2343.3 L502.5,2343.8 L503.9,2343.6 L505.2,2345.1 L506.5,2344.8 L507.9,2344.8 L509.2,2343.9 L510.6,2343.7 L511.9,2344.4 L513.3,2344.3 L514.6,2343.8 L515.9,2344.3 L517.3,2344.5 L518.6,2344.2 L520.0,2343.5 L521.3,2342.8 L522.7,2343.8 L524.0,2344.0 L525.3,2343.7 L526.7,2343.6 L528.0,2343.4 L529.4,2344.2 L530.7,2343.7 L532.1,2343.8 L533.4,2343.1 L534.7,2343.2 L536.1,2343.6 L537.4,2342.9 L538.8,2342.7 L540.1,2343.2 L541.4,2344.1 L542.8,2343.5 L544.1,2344.2 L545.5,2343.2 L546.8,2343.0 L548.2,2342.4 L549.5,2342.8 L550.8,2344.0 L552.2,2343.3 L553.5,2343.5 L554.9,2343.4 L556.2,2343.0 L557.6,2342.8 L558.9,2343.0 L560.2,2343.3 L561.6,2343.1 L562.9,2343.1 L564.3,2342.9 L565.6,2342.3 L567.0,2342.5 L568.3,2342.1 L569.6,2343.3 L571.0,2341.3 L572.3,2342.4 L573.7,2344.0 L575.0,2342.3 L576.4,2341.8 L577.7,2342.5 L579.0,2343.2 L580.4,2342.3 L581.7,2342.8 L583.1,2342.4 L584.4,2342.1 L585.8,2344.3 L587.1,2342.4 L588.4,2342.0 L589.8,2342.0 L591.1,2342.5 L592.5,2342.5 L593.8,2342.7 L595.1,2342.3 L596.5,2341.3 L597.8,2342.5 L599.2,2342.0 L600.5,2341.9 L601.9,2341.2 L603.2,2341.7 L604.5,2341.6 L605.9,2342.0 L607.2,2341.1 L608.6,2342.1 L609.9,2342.1 L611.3,2341.3 L612.6,2341.6 L613.9,2341.4 L615.3,2342.5 L616.6,2340.3 L618.0,2341.7 L619.3,2340.8 L620.7,2341.6 L622.0,2342.4 L623.3,2341.5 L624.7,2341.9 L626.0,2341.3 L627.4,2343.0 L628.7,2342.4 L630.1,2342.5 L631.4,2340.9 L632.7,2341.0 L634.1,2342.4 L635.4,2341.5 L636.8,2341.4 L638.1,2341.8 L639.5,2340.7 L640.8,2342.0 L642.1,2341.5 L643.5,2341.7 L644.8,2340.9 L646.2,2341.7 L647.5,2340.8 L648.8,2341.9 L650.2,2341.9 L651.5,2341.7 L652.9,2341.4 L654.2,2341.4 L655.6,2339.1 L656.9,2341.4 L658.2,2340.6 L659.6,2340.7 L660.9,2340.4 L662.3,2339.5 L663.6,2340.0 L665.0,2340.7 L666.3,2341.1 L667.6,2339.6 L669.0,2339.2 L670.3,2340.7 L671.7,2338.9 L673.0,2340.9 L674.4,2339.3 L675.7,2338.4 L677.0,2339.6 L678.4,2339.9 L679.7,2337.4 L681.1,2339.3 L682.4,2337.7 L683.8,2338.8 L685.1,2337.1 L686.4,2335.8 L687.8,2337.1 L689.1,2337.1 L690.5,2337.6 L691.8,2336.9 L693.1,2335.7 L694.5,2334.5 L695.8,2333.8 L697.2,2333.4 L698.5,2332.4 L699.9,2332.3 L701.2,2329.7 L702.5,2331.4 L703.9,2330.5 L705.2,2332.0 L706.6,2329.6 L707.9,2327.7 L709.3,2327.7 L710.6,2325.1 L711.9,2324.7 L713.3,2322.4 L714.6,2324.5 L716.0,2322.5 L717.3,2319.5 L718.7,2319.3 L720.0,2319.0 L721.3,2317.1 L722.7,2315.6 L724.0,2312.7 L725.4,2311.4 L726.7,2310.6 L728.1,2309.9 L729.4,2306.3 L730.7,2304.2 L732.1,2305.3 L733.4,2301.1 L734.8,2302.0 L736.1,2299.4 L737.5,2298.7 L738.8,2298.4 L740.1,2295.8 L741.5,2294.7 L742.8,2291.5 L744.2,2291.0 L745.5,2292.2 L746.8,2293.0 L748.2,2292.7 L749.5,2294.0 L750.9,2291.6 L752.2,2292.0 L753.6,2293.7 L754.9,2293.4 L756.2,2294.4 L757.6,2294.3 L758.9,2298.3 L760.3,2297.2 L761.6,2300.7 L763.0,2300.0 L764.3,2304.7 L765.6,2303.8 L767.0,2307.7 L768.3,2306.6 L769.7,2309.6 L771.0,2313.0 L772.4,2312.4 L773.7,2314.9 L775.0,2315.8 L776.4,2315.4 L777.7,2319.5 L779.1,2321.0 L780.4,2320.7 L781.8,2323.6 L783.1,2323.4 L784.4,2324.3 L785.8,2326.4 L787.1,2326.7 L788.5,2330.4 L789.8,2327.8 L791.2,2330.7 L792.5,2331.7 L793.8,2329.9 L795.2,2330.9 L796.5,2333.5 L797.9,2333.3 L799.2,2334.6 L800.5,2335.7 L801.9,2335.1 L803.2,2335.0 L804.6,2334.2 L805.9,2336.9 L807.3,2336.5 L808.6,2337.8 L809.9,2338.1 L811.3,2337.3 L812.6,2339.9 L814.0,2339.8 L815.3,2339.9 L816.7,2338.7 L818.0,2339.5 L819.3,2339.7 L820.7,2340.0 L822.0,2339.8 L823.4,2341.0 L824.7,2341.1 L826.1,2341.4 L827.4,2341.0 L828.7,2342.3 L830.1,2341.8 L831.4,2340.0 L832.8,2341.6 L834.1,2342.1 L835.5,2342.9 L836.8,2342.2 L838.1,2342.4 L839.5,2342.2 L840.8,2343.2 L842.2,2342.6 L843.5,2342.6 L844.9,2342.6 L846.2,2343.5 L847.5,2343.0 L848.9,2342.4 L850.2,2343.8 L851.6,2343.1 L852.9,2343.9 L854.2,2343.9 L855.6,2344.5 L856.9,2344.5 L858.3,2343.6 L859.6,2343.9 L861.0,2343.3 L862.3,2345.1 L863.6,2344.5 L865.0,2345.1 L866.3,2344.2 L867.7,2343.2 L869.0,2345.3 L870.4,2344.6 L871.7,2344.6 L873.0,2344.7 L874.4,2345.0 L875.7,2345.0 L877.1,2343.9 L878.4,2345.4 L879.8,2344.6 L881.1,2344.6 L882.4,2345.9 L883.8,2345.5 L885.1,2344.8 L886.5,2344.1 L887.8,2345.2 L889.2,2345.4 L890.5,2345.1 L891.8,2344.5 L893.2,2344.8 L894.5,2344.6 L895.9,2345.4 L897.2,2345.8 L898.6,2345.9 L899.9,2345.0 L901.2,2345.5 L902.6,2345.7 L903.9,2345.2 L905.3,2345.4 L906.6,2346.6 L907.9,2345.7 L909.3,2346.0 L910.6,2345.4 L912.0,2345.6 L913.3,2344.8 L914.7,2345.7 L916.0,2346.3 L917.3,2346.8 L918.7,2346.3 L920.0,2346.1 L921.4,2345.8 L922.7,2345.5 L924.1,2345.7 L925.4,2346.1 L926.7,2345.5 L928.1,2346.3 L929.4,2345.4 L930.8,2345.0 L932.1,2345.4 L933.5,2345.1 L934.8,2345.3 L936.1,2346.5 L937.5,2345.9 L938.8,2346.1 L940.2,2346.6 L941.5,2346.6 L942.9,2345.8 L944.2,2346.7 L945.5,2346.2 L946.9,2346.1 L948.2,2346.3 L949.6,2345.4 L950.9,2345.7 L952.3,2346.0 L953.6,2346.4 L954.9,2345.9 L956.3,2346.1 L957.6,2346.6 L959.0,2346.8 L960.3,2346.5 L961.6,2346.8 L963.0,2346.0 L964.3,2346.0 L965.7,2346.3 L967.0,2346.0 L968.4,2345.9 L969.7,2347.0 L971.0,2346.1 L972.4,2345.7 L973.7,2346.5 L975.1,2347.1 L976.4,2346.3 L977.8,2346.8 L979.1,2346.0 L980.4,2346.0 L981.8,2345.9 L983.1,2346.2 L984.5,2347.1 L985.8,2345.7 L987.2,2347.1 L988.5,2345.8 L989.8,2346.2 L991.2,2346.7 L992.5,2346.6 L993.9,2346.4 L995.2,2345.5 L996.6,2346.5 L997.9,2345.8 L999.2,2347.5 L1000.6,2346.2 L1001.9,2346.4 L1003.3,2345.8 L1004.6,2346.1 L1006.0,2345.7 L1007.3,2346.8 L1008.6,2346.2 L1010.0,2346.6 L1011.3,2346.0 L1012.7,2346.1 L1014.0,2346.9 L1015.3,2345.8 L1016.7,2345.4 L1018.0,2346.5 L1019.4,2345.8 L1020.7,2346.1 L1022.1,2346.7 L1023.4,2345.9 L1024.7,2346.7 L1026.1,2346.0 L1027.4,2347.0 L1028.8,2346.9 L1030.1,2346.1 L1031.5,2346.2 L1032.8,2345.9 L1034.1,2346.4 L1035.5,2346.8 L1036.8,2345.6 L1038.2,2346.7 L1039.5,2345.6 L1040.9,2345.9 L1042.2,2345.4 L1043.5,2347.3 L1044.9,2346.3 L1046.2,2346.4 L1047.6,2345.9 L1048.9,2346.8 L1050.3,2345.2 L1051.6,2346.3 L1052.9,2347.3 L1054.3,2346.0 L1055.6,2346.2 L1057.0,2346.5 L1058.3,2345.8 L1059.7,2346.2 L1061.0,2346.7 L1062.3,2346.3 L1063.7,2346.4 L1065.0,2346.0 L1066.4,2346.3 L1067.7,2346.2 L1069.0,2346.9 L1070.4,2346.5 L1071.7,2346.0 L1073.1,2344.9 L1074.4,2346.4 L1075.8,2346.5 L1077.1,2345.6 L1078.4,2345.1 L1079.8,2345.5 L1081.1,2346.5 L1082.5,2345.5 L1083.8,2345.8 L1085.2,2346.1 L1086.5,2346.6 L1087.8,2346.0 L1089.2,2345.9 L1090.5,2345.7 L1091.9,2346.7 L1093.2,2346.4 L1094.6,2345.8 L1095.9,2345.1 L1097.2,2345.4 L1098.6,2346.1 L1099.9,2345.4 L1101.3,2346.2 L1102.6,2345.9 L1104.0,2345.9 L1105.3,2346.0 L1106.6,2345.9 L1108.0,2345.2 L1109.3,2345.4 L1110.7,2346.8 L1112.0,2344.9 L1113.4,2345.3 L1114.7,2346.1 L1116.0,2345.4 L1117.4,2345.0 L1118.7,2344.7 L1120.1,2345.6 L1121.4,2345.9 L1122.7,2346.0 L1124.1,2345.3 L1125.4,2345.8 L1126.8,2344.6 L1128.1,2345.2 L1129.5,2344.7 L1130.8,2345.1 L1132.1,2345.4 L1133.5,2345.5 L1134.8,2344.3 L1136.2,2345.5 L1137.5,2344.4 L1138.9,2344.1 L1140.2,2344.5 L1141.5,2343.7 L1142.9,2344.4 L1144.2,2344.5 L1145.6,2344.1 L1146.9,2344.5 L1148.3,2343.9 L1149.6,2343.9 L1150.9,2343.0 L1152.3,2343.7 L1153.6,2343.1 L1155.0,2343.2 L1156.3,2343.3 L1157.7,2343.3 L1159.0,2342.0 L1160.3,2341.9 L1161.7,2342.5 L1163.0,2342.8 L1164.4,2342.5 L1165.7,2342.7 L1167.1,2342.7 L1168.4,2342.0 L1169.7,2341.4 L1171.1,2340.4 L1172.4,2340.2 L1173.8,2340.2 L1175.1,2340.4 L1176.4,2340.0 L1177.8,2339.5 L1179.1,2339.0 L1180.5,2339.2 L1181.8,2338.4 L1183.2,2338.1 L1184.5,2337.6 L1185.8,2336.5 L1187.2,2335.6 L1188.5,2336.2 L1189.9,2335.6 L1191.2,2334.5 L1192.6,2333.7 L1193.9,2335.3 L1195.2,2332.1 L1196.6,2331.9 L1197.9,2331.6 L1199.3,2329.6 L1200.6,2330.0 L1202.0,2330.8 L1203.3,2329.3 L1204.6,2328.3 L1206.0,2327.5 L1207.3,2326.3 L1208.7,2326.4 L1210.0,2324.6 L1211.4,2323.7 L1212.7,2323.6 L1214.0,2323.8 L1215.4,2322.7 L1216.7,2322.7 L1218.1,2319.6 L1219.4,2322.6 L1220.7,2323.6 L1222.1,2322.5 L1223.4,2320.8 L1224.8,2320.4 L1226.1,2321.7 L1227.5,2320.8 L1228.8,2322.9 L1230.1,2322.1 L1231.5,2324.1 L1232.8,2325.1 L1234.2,2322.4 L1235.5,2325.3 L1236.9,2325.1 L1238.2,2325.2 L1239.5,2326.7 L1240.9,2327.8 L1242.2,2329.7 L1243.6,2328.1 L1244.9,2331.2 L1246.3,2332.7 L1247.6,2332.2 L1248.9,2332.8 L1250.3,2333.0 L1251.6,2332.7 L1253.0,2334.8 L1254.3,2335.3 L1255.7,2336.1 L1257.0,2338.1 L1258.3,2337.2 L1259.7,2337.5 L1261.0,2338.8 L1262.4,2337.1 L1263.7,2337.7 L1265.1,2338.7 L1266.4,2338.9 L1267.7,2340.2 L1269.1,2339.8 L1270.4,2341.6 L1271.8,2341.7 L1273.1,2341.5 L1274.4,2341.0 L1275.8,2342.0 L1277.1,2342.3 L1278.5,2341.3 L1279.8,2342.5 L1281.2,2342.9 L1282.5,2342.8 L1283.8,2343.8 L1285.2,2343.8 L1286.5,2342.7 L1287.9,2343.4 L1289.2,2343.0 L1290.6,2344.0 L1291.9,2343.2 L1293.2,2344.4 L1294.6,2344.2 L1295.9,2344.6 L1297.3,2344.1 L1298.6,2343.4 L1300.0,2345.4 L1301.3,2344.4 L1302.6,2345.3 L1304.0,2344.9 L1305.3,2345.1 L1306.7,2345.8 L1308.0,2345.0 L1309.4,2345.7 L1310.7,2344.2 L1312.0,2345.5 L1313.4,2345.0 L1314.7,2345.1 L1316.1,2345.2 L1317.4,2345.4 L1318.8,2346.2 L1320.1,2344.4 L1321.4,2345.4 L1322.8,2345.1 L1324.1,2346.1 L1325.5,2345.3 L1326.8,2345.8 L1328.1,2345.4 L1329.5,2346.0 L1330.8,2346.2 L1332.2,2345.5 L1333.5,2345.8 L1334.9,2345.0 L1336.2,2346.0 L1337.5,2346.3 L1338.9,2345.6 L1340.2,2346.4 L1341.6,2344.9 L1342.9,2345.0 L1344.3,2345.3 L1345.6,2345.7 L1346.9,2346.0 L1348.3,2346.0 L1349.6,2346.0 L1351.0,2346.4 L1352.3,2345.9 L1353.7,2345.5 L1355.0,2345.5 L1356.3,2347.2 L1357.7,2345.0 L1359.0,2346.1 L1360.4,2346.9 L1361.7,2346.5 L1363.1,2345.8 L1364.4,2346.3 L1365.7,2346.7 L1367.1,2346.9 L1368.4,2345.9 L1369.8,2346.7 L1371.1,2346.5 L1372.5,2346.9 L1373.8,2347.0 L1375.1,2346.2 L1376.5,2345.7 L1377.8,2346.6 L1379.2,2347.3 L1380.5,2346.8 L1381.8,2346.5 L1383.2,2347.6 L1384.5,2346.0 L1385.9,2346.9 L1387.2,2346.2 L1388.6,2346.5 L1389.9,2346.5 L1391.2,2347.2 L1392.6,2346.1 L1393.9,2346.3 L1395.3,2345.8 L1396.6,2346.8 L1398.0,2346.3 L1399.3,2346.8 L1400.6,2346.1 L1402.0,2346.4 L1403.3,2347.1 L1404.7,2346.5 L1406.0,2346.9 L1407.4,2346.9 L1408.7,2346.5 L1410.0,2345.9 L1411.4,2347.1 L1412.7,2346.7 L1414.1,2347.1 L1415.4,2345.7 L1416.8,2345.9 L1418.1,2345.7 L1419.4,2346.3 L1420.8,2347.1 L1422.1,2346.9 L1423.5,2346.7 L1424.8,2346.8 L1426.2,2347.0 L1427.5,2346.6 L1428.8,2346.9 L1430.2,2346.8 L1431.5,2345.7 L1432.9,2346.5 L1434.2,2347.3 L1435.5,2346.6 L1436.9,2346.7 L1438.2,2346.5 L1439.6,2346.5 L1440.9,2347.2 L1442.3,2346.6 L1443.6,2346.3 L1444.9,2345.4 L1446.3,2346.5 L1447.6,2345.9 L1449.0,2346.0 L1450.3,2347.1 L1451.7,2347.1 L1453.0,2345.9 L1454.3,2347.2 L1455.7,2347.0 L1457.0,2346.4 L1458.4,2347.1 L1459.7,2346.1 L1461.1,2346.3 L1462.4,2346.2 L1463.7,2346.3 L1465.1,2347.2 L1466.4,2346.2 L1467.8,2346.3 L1469.1,2346.4 L1470.5,2346.9 L1471.8,2346.7 L1473.1,2347.2 L1474.5,2346.5 L1475.8,2346.2 L1477.2,2346.6 L1478.5,2346.8 L1479.9,2346.4 L1481.2,2346.9 L1482.5,2347.6 L1483.9,2346.6 L1485.2,2346.8 L1486.6,2347.4 L1487.9,2346.5 L1489.2,2346.4 L1490.6,2346.3 L1491.9,2347.0 L1493.3,2347.0 L1494.6,2346.7 L1496.0,2346.8 L1497.3,2347.4 L1498.6,2347.2 L1500.0,2346.2 L1501.3,2346.8 L1502.7,2346.8 L1504.0,2347.1 L1505.4,2346.7 L1506.7,2346.5 L1508.0,2346.6 L1509.4,2346.0 L1510.7,2346.8 L1512.1,2346.5 L1513.4,2347.0 L1514.8,2346.3 L1516.1,2346.6 L1517.4,2346.3 L1518.8,2346.3 L1520.1,2347.1 L1521.5,2346.5 L1522.8,2346.9 L1524.2,2346.2 L1525.5,2346.8 L1526.8,2346.0 L1528.2,2346.5 L1529.5,2346.5 L1530.9,2347.0 L1532.2,2346.8 L1533.6,2346.6 L1534.9,2347.0 L1536.2,2346.7 L1537.6,2346.9 L1538.9,2347.0 L1540.3,2346.6 L1541.6,2346.5 L1542.9,2346.7 L1544.3,2346.4 L1545.6,2346.7 L1547.0,2347.0 L1548.3,2346.9 L1549.7,2346.3 L1551.0,2345.8 L1552.3,2346.4 L1553.7,2346.3 L1555.0,2346.9 L1556.4,2346.1 L1557.7,2346.1 L1559.1,2346.5 L1560.4,2345.9 L1561.7,2346.0 L1563.1,2346.9 L1564.4,2346.7 L1565.8,2346.2 L1567.1,2346.0 L1568.5,2345.2 L1569.8,2345.9 L1571.1,2345.6 L1572.5,2345.6 L1573.8,2345.1 L1575.2,2345.3 L1576.5,2345.1 L1577.9,2345.2 L1579.2,2345.7 L1580.5,2345.0 L1581.9,2343.7 L1583.2,2344.0 L1584.6,2343.5 L1585.9,2343.7 L1587.3,2344.4 L1588.6,2344.1 L1589.9,2343.4 L1591.3,2343.7 L1592.6,2342.9 L1594.0,2342.3 L1595.3,2342.2 L1596.6,2342.3 L1598.0,2343.6 L1599.3,2341.6 L1600.7,2343.1 L1602.0,2343.0 L1603.4,2341.9 L1604.7,2341.8 L1606.0,2341.3 L1607.4,2341.6 L1608.7,2341.9 L1610.1,2341.4 L1611.4,2341.9 L1612.8,2342.0 L1614.1,2341.4 L1615.4,2341.3 L1616.8,2341.1 L1618.1,2341.3 L1619.5,2340.4 L1620.8,2341.4 L1622.2,2341.4 L1623.5,2340.8 L1624.8,2342.9 L1626.2,2340.9 L1627.5,2341.1 L1628.9,2342.0 L1630.2,2340.7 L1631.6,2341.6 L1632.9,2341.3 L1634.2,2341.9 L1635.6,2342.6 L1636.9,2343.0 L1638.3,2343.7 L1639.6,2343.7 L1641.0,2344.1 L1642.3,2343.9 L1643.6,2343.4 L1645.0,2344.5 L1646.3,2343.7 L1647.7,2343.8 L1649.0,2345.2 L1650.3,2344.9 L1651.7,2344.8 L1653.0,2345.2 L1654.4,2345.4 L1655.7,2344.3 L1657.1,2345.1 L1658.4,2344.7 L1659.7,2345.5 L1661.1,2345.2 L1662.4,2346.3 L1663.8,2346.0 L1665.1,2345.4 L1666.5,2345.9 L1667.8,2345.3" fill="none" stroke="#000000" stroke-width="4.6" stroke-linejoin="round"/>
<path d="M438.0,2555.4 L438.0,2533.8 M684.0,2555.4 L684.0,2533.8 M930.1,2555.4 L930.1,2533.8 M1176.2,2555.4 L1176.2,2533.8 M1422.2,2555.4 L1422.2,2533.8 " stroke="#000" stroke-width="8.5" stroke-linecap="round" fill="none"/>
<text transform="translate(191.40,2618.00) scale(1.0311,1.0159)" text-anchor="middle" font-family="'Liberation Sans', Arial, Helvetica, sans-serif" font-size="50" font-weight="bold">20</text>
<text transform="translate(437.47,2618.00) scale(1.0311,1.0159)" text-anchor="middle" font-family="'Liberation Sans', Arial, Helvetica, sans-serif" font-size="50" font-weight="bold">30</text>
<text transform="translate(683.53,2618.00) scale(1.0311,1.0159)" text-anchor="middle" font-family="'Liberation Sans', Arial, Helvetica, sans-serif" font-size="50" font-weight="bold">40</text>
<text transform="translate(929.60,2618.00) scale(1.0311,1.0159)" text-anchor="middle" font-family="'Liberation Sans', Arial, Helvetica, sans-serif" font-size="50" font-weight="bold">50</text>
<text transform="translate(1175.67,2618.00) scale(1.0311,1.0159)" text-anchor="middle" font-family="'Liberation Sans', Arial, Helvetica, sans-serif" font-size="50" font-weight="bold">60</text>
<text transform="translate(1421.73,2618.00) scale(1.0311,1.0159)" text-anchor="middle" font-family="'Liberation Sans', Arial, Helvetica, sans-serif" font-size="50" font-weight="bold">70</text>
<text transform="translate(1667.80,2618.00) scale(1.0311,1.0159)" text-anchor="middle" font-family="'Liberation Sans', Arial, Helvetica, sans-serif" font-size="50" font-weight="bold">80</text>
<text transform="translate(54.84,1537.98) scale(1.0406,0.9888)" font-family="'Liberation Sans', Arial, Helvetica, sans-serif" font-size="76" font-weight="bold">(b)</text>
<text transform="translate(81.57,2237.05) scale(1.0510,1.0129) rotate(-90)" font-family="'Liberation Sans', Arial, Helvetica, sans-serif" font-size="59" font-weight="bold">Intensity (arb. units)</text>
<text transform="translate(782.89,2681.50) scale(1.0431,1.0342)" font-family="'Liberation Sans', Arial, Helvetica, sans-serif" font-size="59" font-weight="bold">2</text>
<text transform="translate(817.13,2681.53) scale(1.1395,0.9637)" font-family="'Liberation Serif', 'Times New Roman', Times, serif" font-size="60" font-weight="normal">θ</text>
<text transform="translate(865.54,2681.05) scale(1.1623,0.9964)" font-family="'Liberation Serif', 'Times New Roman', Times, serif" font-size="60" font-weight="normal">(</text>
<text transform="translate(886.89,2682.03) scale(1.0405,1.0146)" font-family="'Liberation Sans', Arial, Helvetica, sans-serif" font-size="59" font-weight="bold">degree</text>
<text transform="translate(1087.77,2681.30) scale(1.1268,0.9783)" font-family="'Liberation Serif', 'Times New Roman', Times, serif" font-size="60" font-weight="normal">)</text>
<text transform="translate(1462.73,1483.73) scale(1.0667,1.0589)" font-family="'Liberation Sans', Arial, Helvetica, sans-serif" font-size="53" font-weight="bold">MgO</text>
<text transform="translate(1463.74,1545.32) scale(1.0760,1.0506)" font-family="'Liberation Sans', Arial, Helvetica, sans-serif" font-size="53" font-weight="bold">MgCO</text>
<text transform="translate(1630.81,1546.47) scale(1.1403,1.0526)" font-family="'Liberation Sans', Arial, Helvetica, sans-serif" font-size="28" font-weight="normal">3</text>
<text transform="translate(285.31,1640.16) scale(1.0525,1.0752)" font-family="'Liberation Sans', Arial, Helvetica, sans-serif" font-size="48" font-weight="bold">1.0 g</text>
<text transform="translate(283.94,1873.14) scale(1.0420,1.0290)" font-family="'Liberation Sans', Arial, Helvetica, sans-serif" font-size="48" font-weight="bold">0.5 g</text>
<text transform="translate(286.90,2098.15) scale(1.0520,1.0752)" font-family="'Liberation Sans', Arial, Helvetica, sans-serif" font-size="48" font-weight="bold">0.1 g</text>
<text transform="translate(264.93,2319.21) scale(1.0534,1.0189)" font-family="'Liberation Sans', Arial, Helvetica, sans-serif" font-size="48" font-weight="bold">0.08 g</text>
<text transform="translate(506.19,1594.94) scale(1.0915,0.9744) rotate(-90)" font-family="'Liberation Sans', Arial, Helvetica, sans-serif" font-size="44" font-weight="bold">104</text>
<text transform="translate(763.68,1572.51) scale(1.0915,0.9946) rotate(-90)" font-family="'Liberation Sans', Arial, Helvetica, sans-serif" font-size="44" font-weight="bold">200</text>
<text transform="translate(1234.19,1597.96) scale(1.0452,0.9687) rotate(-90)" font-family="'Liberation Sans', Arial, Helvetica, sans-serif" font-size="44" font-weight="bold">220</text>
<text transform="translate(1031.70,2064.37) scale(1.0583,0.9547) rotate(-90)" font-family="'Liberation Sans', Arial, Helvetica, sans-serif" font-size="44" font-weight="bold">116</text>
<circle cx="1441" cy="1471.6" r="8.3" fill="#000"/>
<path d="M1435.1,1522.4 L1445.8,1534.6 L1435.1,1546.8 L1424.4,1534.6 Z" fill="#000"/>
<circle cx="749.6" cy="1593.5" r="8.2" fill="#000"/>
<circle cx="1221.2" cy="1621.8" r="8.2" fill="#000"/>
<circle cx="746.5" cy="1822" r="8.2" fill="#000"/>
<circle cx="1223" cy="1850" r="8.2" fill="#000"/>
<circle cx="747.4" cy="2053.8" r="8.2" fill="#000"/>
<circle cx="1224" cy="2085.9" r="8.2" fill="#000"/>
<circle cx="748.9" cy="2270.8" r="8.2" fill="#000"/>
<circle cx="1220.7" cy="2299.7" r="8.2" fill="#000"/>
<path d="M490,1620.0 L500.8,1632.5 L490,1645.0 L479.2,1632.5 Z" fill="#000"/>
<path d="M484,1861.5 L494.8,1874 L484,1886.5 L473.2,1874 Z" fill="#000"/>
<path d="M491.8,2072.1 L502.6,2084.6 L491.8,2097.1 L481.0,2084.6 Z" fill="#000"/>
<path d="M1012.7,2086.9 L1023.5,2099.4 L1012.7,2111.9 L1001.9000000000001,2099.4 Z" fill="#000"/>
<path d="M493.7,2311.2 L504.5,2323.7 L493.7,2336.2 L482.9,2323.7 Z" fill="#000"/>
</svg>
</body></html>
